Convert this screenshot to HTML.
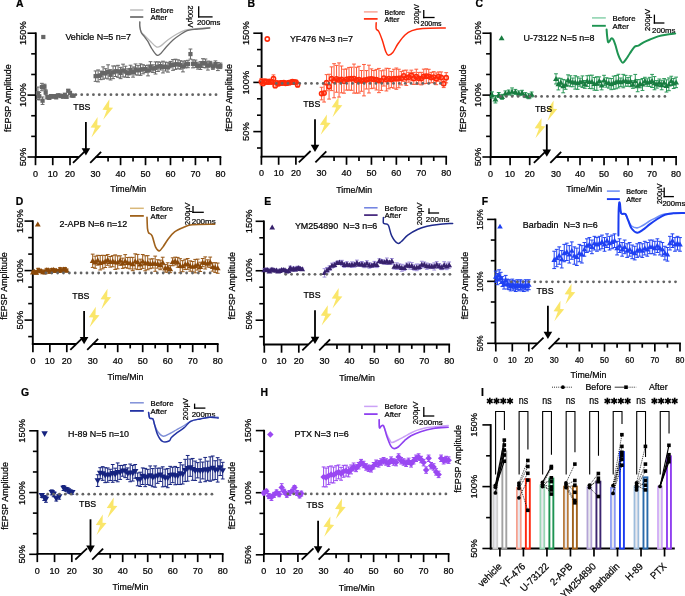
<!DOCTYPE html>
<html><head><meta charset="utf-8"><style>
html,body{margin:0;padding:0;background:#fff;overflow:hidden;}
svg{display:block;font-family:"Liberation Sans", sans-serif;will-change:transform;}
text{stroke:#000;stroke-width:0.22px;paint-order:stroke;}
</style></head><body>
<svg width="685" height="596" viewBox="0 0 685 596">
<rect width="685" height="596" fill="#fff"/>
<text x="15.9" y="6.9" font-size="10.4" text-anchor="start" fill="#000" font-weight="bold" transform="translate(15.9 6.9) scale(1 1.07) translate(-15.9 -6.9)" >A</text>
<line x1="35.8" y1="32.4" x2="35.8" y2="157.9" stroke="#000" stroke-width="1.9" />
<line x1="27.5" y1="33.2" x2="35.8" y2="33.2" stroke="#000" stroke-width="1.6" />
<line x1="31.2" y1="53.83" x2="35.8" y2="53.83" stroke="#000" stroke-width="1.6" />
<line x1="31.2" y1="74.47" x2="35.8" y2="74.47" stroke="#000" stroke-width="1.6" />
<line x1="27.5" y1="95.1" x2="35.8" y2="95.1" stroke="#000" stroke-width="1.6" />
<line x1="31.2" y1="115.73" x2="35.8" y2="115.73" stroke="#000" stroke-width="1.6" />
<line x1="31.2" y1="136.37" x2="35.8" y2="136.37" stroke="#000" stroke-width="1.6" />
<line x1="27.5" y1="157" x2="35.8" y2="157" stroke="#000" stroke-width="1.6" />
<text x="26" y="33.2" font-size="9.3" text-anchor="middle" fill="#000" font-weight="normal" transform="rotate(-90 26 33.2) translate(26 33.2) scale(1 1.02) translate(-26 -33.2)" >150%</text>
<text x="26" y="95" font-size="9.3" text-anchor="middle" fill="#000" font-weight="normal" transform="rotate(-90 26 95) translate(26 95) scale(1 1.02) translate(-26 -95)" >100%</text>
<text x="26" y="157" font-size="9.3" text-anchor="middle" fill="#000" font-weight="normal" transform="rotate(-90 26 157) translate(26 157) scale(1 1.02) translate(-26 -157)" >50%</text>
<text x="11.4" y="98.2" font-size="8.9" text-anchor="middle" fill="#000" font-weight="normal" transform="rotate(-90 11.4 98.2) translate(11.4 98.2) scale(1 1.07) translate(-11.4 -98.2)" >fEPSP Amplitude</text>
<line x1="34.9" y1="157" x2="78.8" y2="157" stroke="#000" stroke-width="1.8" />
<line x1="95.6" y1="157" x2="221.3" y2="157" stroke="#000" stroke-width="1.8" />
<line x1="35.5" y1="157" x2="35.5" y2="165.2" stroke="#000" stroke-width="1.7" />
<line x1="52.75" y1="157" x2="52.75" y2="165.2" stroke="#000" stroke-width="1.7" />
<line x1="70" y1="157" x2="70" y2="165.2" stroke="#000" stroke-width="1.7" />
<line x1="120.56" y1="157" x2="120.56" y2="165.2" stroke="#000" stroke-width="1.7" />
<line x1="145.52" y1="157" x2="145.52" y2="165.2" stroke="#000" stroke-width="1.7" />
<line x1="170.48" y1="157" x2="170.48" y2="165.2" stroke="#000" stroke-width="1.7" />
<line x1="195.44" y1="157" x2="195.44" y2="165.2" stroke="#000" stroke-width="1.7" />
<line x1="220.4" y1="157" x2="220.4" y2="165.2" stroke="#000" stroke-width="1.7" />
<line x1="108.08" y1="157" x2="108.08" y2="161.4" stroke="#000" stroke-width="1.7" />
<line x1="133.04" y1="157" x2="133.04" y2="161.4" stroke="#000" stroke-width="1.7" />
<line x1="158" y1="157" x2="158" y2="161.4" stroke="#000" stroke-width="1.7" />
<line x1="182.96" y1="157" x2="182.96" y2="161.4" stroke="#000" stroke-width="1.7" />
<line x1="207.92" y1="157" x2="207.92" y2="161.4" stroke="#000" stroke-width="1.7" />
<text x="35.5" y="176.9" font-size="9" text-anchor="middle" fill="#000" font-weight="normal" transform="translate(35.5 176.9) scale(1 1.07) translate(-35.5 -176.9)" >0</text>
<text x="52.75" y="176.9" font-size="9" text-anchor="middle" fill="#000" font-weight="normal" transform="translate(52.75 176.9) scale(1 1.07) translate(-52.75 -176.9)" >10</text>
<text x="70" y="176.9" font-size="9" text-anchor="middle" fill="#000" font-weight="normal" transform="translate(70 176.9) scale(1 1.07) translate(-70 -176.9)" >20</text>
<text x="95.6" y="176.9" font-size="9" text-anchor="middle" fill="#000" font-weight="normal" transform="translate(95.6 176.9) scale(1 1.07) translate(-95.6 -176.9)" >30</text>
<text x="120.56" y="176.9" font-size="9" text-anchor="middle" fill="#000" font-weight="normal" transform="translate(120.56 176.9) scale(1 1.07) translate(-120.56 -176.9)" >40</text>
<text x="145.52" y="176.9" font-size="9" text-anchor="middle" fill="#000" font-weight="normal" transform="translate(145.52 176.9) scale(1 1.07) translate(-145.52 -176.9)" >50</text>
<text x="170.48" y="176.9" font-size="9" text-anchor="middle" fill="#000" font-weight="normal" transform="translate(170.48 176.9) scale(1 1.07) translate(-170.48 -176.9)" >60</text>
<text x="195.44" y="176.9" font-size="9" text-anchor="middle" fill="#000" font-weight="normal" transform="translate(195.44 176.9) scale(1 1.07) translate(-195.44 -176.9)" >70</text>
<text x="220.4" y="176.9" font-size="9" text-anchor="middle" fill="#000" font-weight="normal" transform="translate(220.4 176.9) scale(1 1.07) translate(-220.4 -176.9)" >80</text>
<line x1="73" y1="162.8" x2="84.8" y2="151.4" stroke="#000" stroke-width="1.8" />
<line x1="90.2" y1="162.8" x2="101.1" y2="151.8" stroke="#000" stroke-width="1.8" />
<text x="128.3" y="192.5" font-size="8.8" text-anchor="middle" fill="#000" font-weight="normal" transform="translate(128.3 192.5) scale(1 1.07) translate(-128.3 -192.5)" >Time/Min</text>
<path d="M109.4,99.3 L102.4,109.7 L106.8,110 L103.2,119.7 L113.1,107.8 L109.1,107.5Z" fill="#fae66a"/>
<path d="M97.6,117.1 L90.6,127.5 L95,127.8 L91.4,137.5 L101.3,125.6 L97.3,125.3Z" fill="#fae66a"/>
<text x="73.3" y="110.3" font-size="8.8" text-anchor="start" fill="#000" font-weight="normal" transform="translate(73.3 110.3) scale(1 1.07) translate(-73.3 -110.3)" >TBS</text>
<line x1="85.9" y1="122" x2="85.9" y2="150.4" stroke="#000" stroke-width="1.8" />
<path d="M81.6,148.2 L90.2,148.2 L85.9,155.4Z" fill="#000"/>
<line x1="37.91" y1="87.06" x2="37.91" y2="99.46" stroke="#666666" stroke-width="1" />
<line x1="36.02" y1="87.06" x2="39.81" y2="87.06" stroke="#666666" stroke-width="1" />
<line x1="36.02" y1="99.46" x2="39.81" y2="99.46" stroke="#666666" stroke-width="1" />
<line x1="39.3" y1="92.52" x2="39.3" y2="99.96" stroke="#666666" stroke-width="1" />
<line x1="37.4" y1="92.52" x2="41.2" y2="92.52" stroke="#666666" stroke-width="1" />
<line x1="37.4" y1="99.96" x2="41.2" y2="99.96" stroke="#666666" stroke-width="1" />
<line x1="41.88" y1="83.34" x2="41.88" y2="90.78" stroke="#666666" stroke-width="1" />
<line x1="39.98" y1="83.34" x2="43.78" y2="83.34" stroke="#666666" stroke-width="1" />
<line x1="39.98" y1="90.78" x2="43.78" y2="90.78" stroke="#666666" stroke-width="1" />
<line x1="42.57" y1="96.98" x2="42.57" y2="104.42" stroke="#666666" stroke-width="1" />
<line x1="40.67" y1="96.98" x2="44.47" y2="96.98" stroke="#666666" stroke-width="1" />
<line x1="40.67" y1="104.42" x2="44.47" y2="104.42" stroke="#666666" stroke-width="1" />
<line x1="44.47" y1="84.21" x2="44.47" y2="89.17" stroke="#666666" stroke-width="1" />
<line x1="42.57" y1="84.21" x2="46.37" y2="84.21" stroke="#666666" stroke-width="1" />
<line x1="42.57" y1="89.17" x2="46.37" y2="89.17" stroke="#666666" stroke-width="1" />
<line x1="45.68" y1="89.79" x2="45.68" y2="94.75" stroke="#666666" stroke-width="1" />
<line x1="43.78" y1="89.79" x2="47.58" y2="89.79" stroke="#666666" stroke-width="1" />
<line x1="43.78" y1="94.75" x2="47.58" y2="94.75" stroke="#666666" stroke-width="1" />
<line x1="47.4" y1="95.25" x2="47.4" y2="98.97" stroke="#666666" stroke-width="1" />
<line x1="45.5" y1="95.25" x2="49.3" y2="95.25" stroke="#666666" stroke-width="1" />
<line x1="45.5" y1="98.97" x2="49.3" y2="98.97" stroke="#666666" stroke-width="1" />
<line x1="49.3" y1="96.27" x2="49.3" y2="99.27" stroke="#666666" stroke-width="1" />
<line x1="47.4" y1="96.27" x2="51.2" y2="96.27" stroke="#666666" stroke-width="1" />
<line x1="47.4" y1="99.27" x2="51.2" y2="99.27" stroke="#666666" stroke-width="1" />
<line x1="51.02" y1="95.02" x2="51.02" y2="97.14" stroke="#666666" stroke-width="1" />
<line x1="49.12" y1="95.02" x2="52.92" y2="95.02" stroke="#666666" stroke-width="1" />
<line x1="49.12" y1="97.14" x2="52.92" y2="97.14" stroke="#666666" stroke-width="1" />
<line x1="52.75" y1="95.42" x2="52.75" y2="97.83" stroke="#666666" stroke-width="1" />
<line x1="50.85" y1="95.42" x2="54.65" y2="95.42" stroke="#666666" stroke-width="1" />
<line x1="50.85" y1="97.83" x2="54.65" y2="97.83" stroke="#666666" stroke-width="1" />
<line x1="54.48" y1="94.66" x2="54.48" y2="97.57" stroke="#666666" stroke-width="1" />
<line x1="52.58" y1="94.66" x2="56.38" y2="94.66" stroke="#666666" stroke-width="1" />
<line x1="52.58" y1="97.57" x2="56.38" y2="97.57" stroke="#666666" stroke-width="1" />
<line x1="56.2" y1="96.48" x2="56.2" y2="98.26" stroke="#666666" stroke-width="1" />
<line x1="54.3" y1="96.48" x2="58.1" y2="96.48" stroke="#666666" stroke-width="1" />
<line x1="54.3" y1="98.26" x2="58.1" y2="98.26" stroke="#666666" stroke-width="1" />
<line x1="57.92" y1="94.22" x2="57.92" y2="96.6" stroke="#666666" stroke-width="1" />
<line x1="56.02" y1="94.22" x2="59.82" y2="94.22" stroke="#666666" stroke-width="1" />
<line x1="56.02" y1="96.6" x2="59.82" y2="96.6" stroke="#666666" stroke-width="1" />
<line x1="59.65" y1="94.6" x2="59.65" y2="96.34" stroke="#666666" stroke-width="1" />
<line x1="57.75" y1="94.6" x2="61.55" y2="94.6" stroke="#666666" stroke-width="1" />
<line x1="57.75" y1="96.34" x2="61.55" y2="96.34" stroke="#666666" stroke-width="1" />
<line x1="61.38" y1="94.72" x2="61.38" y2="97.53" stroke="#666666" stroke-width="1" />
<line x1="59.48" y1="94.72" x2="63.27" y2="94.72" stroke="#666666" stroke-width="1" />
<line x1="59.48" y1="97.53" x2="63.27" y2="97.53" stroke="#666666" stroke-width="1" />
<line x1="63.1" y1="94.97" x2="63.1" y2="98.11" stroke="#666666" stroke-width="1" />
<line x1="61.2" y1="94.97" x2="65" y2="94.97" stroke="#666666" stroke-width="1" />
<line x1="61.2" y1="98.11" x2="65" y2="98.11" stroke="#666666" stroke-width="1" />
<line x1="64.83" y1="93.86" x2="64.83" y2="95.64" stroke="#666666" stroke-width="1" />
<line x1="62.93" y1="93.86" x2="66.73" y2="93.86" stroke="#666666" stroke-width="1" />
<line x1="62.93" y1="95.64" x2="66.73" y2="95.64" stroke="#666666" stroke-width="1" />
<line x1="66.55" y1="95.53" x2="66.55" y2="98.07" stroke="#666666" stroke-width="1" />
<line x1="64.65" y1="95.53" x2="68.45" y2="95.53" stroke="#666666" stroke-width="1" />
<line x1="64.65" y1="98.07" x2="68.45" y2="98.07" stroke="#666666" stroke-width="1" />
<line x1="68.28" y1="89.58" x2="68.28" y2="91.89" stroke="#666666" stroke-width="1" />
<line x1="66.38" y1="89.58" x2="70.18" y2="89.58" stroke="#666666" stroke-width="1" />
<line x1="66.38" y1="91.89" x2="70.18" y2="91.89" stroke="#666666" stroke-width="1" />
<line x1="70" y1="91.69" x2="70" y2="94.05" stroke="#666666" stroke-width="1" />
<line x1="68.1" y1="91.69" x2="71.9" y2="91.69" stroke="#666666" stroke-width="1" />
<line x1="68.1" y1="94.05" x2="71.9" y2="94.05" stroke="#666666" stroke-width="1" />
<line x1="71.72" y1="94.55" x2="71.72" y2="96.62" stroke="#666666" stroke-width="1" />
<line x1="69.82" y1="94.55" x2="73.62" y2="94.55" stroke="#666666" stroke-width="1" />
<line x1="69.82" y1="96.62" x2="73.62" y2="96.62" stroke="#666666" stroke-width="1" />
<line x1="73.45" y1="94.46" x2="73.45" y2="96.93" stroke="#666666" stroke-width="1" />
<line x1="71.55" y1="94.46" x2="75.35" y2="94.46" stroke="#666666" stroke-width="1" />
<line x1="71.55" y1="96.93" x2="75.35" y2="96.93" stroke="#666666" stroke-width="1" />
<line x1="95.6" y1="70.95" x2="95.6" y2="81.35" stroke="#666666" stroke-width="1" />
<line x1="93.7" y1="70.95" x2="97.5" y2="70.95" stroke="#666666" stroke-width="1" />
<line x1="93.7" y1="81.35" x2="97.5" y2="81.35" stroke="#666666" stroke-width="1" />
<line x1="98.1" y1="69.95" x2="98.1" y2="81.89" stroke="#666666" stroke-width="1" />
<line x1="96.2" y1="69.95" x2="100" y2="69.95" stroke="#666666" stroke-width="1" />
<line x1="96.2" y1="81.89" x2="100" y2="81.89" stroke="#666666" stroke-width="1" />
<line x1="100.59" y1="71.06" x2="100.59" y2="79.67" stroke="#666666" stroke-width="1" />
<line x1="98.69" y1="71.06" x2="102.49" y2="71.06" stroke="#666666" stroke-width="1" />
<line x1="98.69" y1="79.67" x2="102.49" y2="79.67" stroke="#666666" stroke-width="1" />
<line x1="103.09" y1="66.88" x2="103.09" y2="79.19" stroke="#666666" stroke-width="1" />
<line x1="101.19" y1="66.88" x2="104.99" y2="66.88" stroke="#666666" stroke-width="1" />
<line x1="101.19" y1="79.19" x2="104.99" y2="79.19" stroke="#666666" stroke-width="1" />
<line x1="105.58" y1="68.71" x2="105.58" y2="78.24" stroke="#666666" stroke-width="1" />
<line x1="103.68" y1="68.71" x2="107.48" y2="68.71" stroke="#666666" stroke-width="1" />
<line x1="103.68" y1="78.24" x2="107.48" y2="78.24" stroke="#666666" stroke-width="1" />
<line x1="108.08" y1="64.84" x2="108.08" y2="78.92" stroke="#666666" stroke-width="1" />
<line x1="106.18" y1="64.84" x2="109.98" y2="64.84" stroke="#666666" stroke-width="1" />
<line x1="106.18" y1="78.92" x2="109.98" y2="78.92" stroke="#666666" stroke-width="1" />
<line x1="110.58" y1="69.7" x2="110.58" y2="79.97" stroke="#666666" stroke-width="1" />
<line x1="108.68" y1="69.7" x2="112.48" y2="69.7" stroke="#666666" stroke-width="1" />
<line x1="108.68" y1="79.97" x2="112.48" y2="79.97" stroke="#666666" stroke-width="1" />
<line x1="113.07" y1="65.98" x2="113.07" y2="78.64" stroke="#666666" stroke-width="1" />
<line x1="111.17" y1="65.98" x2="114.97" y2="65.98" stroke="#666666" stroke-width="1" />
<line x1="111.17" y1="78.64" x2="114.97" y2="78.64" stroke="#666666" stroke-width="1" />
<line x1="115.57" y1="65.94" x2="115.57" y2="76.5" stroke="#666666" stroke-width="1" />
<line x1="113.67" y1="65.94" x2="117.47" y2="65.94" stroke="#666666" stroke-width="1" />
<line x1="113.67" y1="76.5" x2="117.47" y2="76.5" stroke="#666666" stroke-width="1" />
<line x1="118.06" y1="65.31" x2="118.06" y2="77.34" stroke="#666666" stroke-width="1" />
<line x1="116.16" y1="65.31" x2="119.96" y2="65.31" stroke="#666666" stroke-width="1" />
<line x1="116.16" y1="77.34" x2="119.96" y2="77.34" stroke="#666666" stroke-width="1" />
<line x1="120.56" y1="67.34" x2="120.56" y2="78.65" stroke="#666666" stroke-width="1" />
<line x1="118.66" y1="67.34" x2="122.46" y2="67.34" stroke="#666666" stroke-width="1" />
<line x1="118.66" y1="78.65" x2="122.46" y2="78.65" stroke="#666666" stroke-width="1" />
<line x1="123.06" y1="64.16" x2="123.06" y2="76.94" stroke="#666666" stroke-width="1" />
<line x1="121.16" y1="64.16" x2="124.96" y2="64.16" stroke="#666666" stroke-width="1" />
<line x1="121.16" y1="76.94" x2="124.96" y2="76.94" stroke="#666666" stroke-width="1" />
<line x1="125.55" y1="66.18" x2="125.55" y2="77.15" stroke="#666666" stroke-width="1" />
<line x1="123.65" y1="66.18" x2="127.45" y2="66.18" stroke="#666666" stroke-width="1" />
<line x1="123.65" y1="77.15" x2="127.45" y2="77.15" stroke="#666666" stroke-width="1" />
<line x1="128.05" y1="68.8" x2="128.05" y2="77.46" stroke="#666666" stroke-width="1" />
<line x1="126.15" y1="68.8" x2="129.95" y2="68.8" stroke="#666666" stroke-width="1" />
<line x1="126.15" y1="77.46" x2="129.95" y2="77.46" stroke="#666666" stroke-width="1" />
<line x1="130.54" y1="65.22" x2="130.54" y2="74.79" stroke="#666666" stroke-width="1" />
<line x1="128.64" y1="65.22" x2="132.44" y2="65.22" stroke="#666666" stroke-width="1" />
<line x1="128.64" y1="74.79" x2="132.44" y2="74.79" stroke="#666666" stroke-width="1" />
<line x1="133.04" y1="66.93" x2="133.04" y2="77.14" stroke="#666666" stroke-width="1" />
<line x1="131.14" y1="66.93" x2="134.94" y2="66.93" stroke="#666666" stroke-width="1" />
<line x1="131.14" y1="77.14" x2="134.94" y2="77.14" stroke="#666666" stroke-width="1" />
<line x1="135.54" y1="63.97" x2="135.54" y2="74.92" stroke="#666666" stroke-width="1" />
<line x1="133.64" y1="63.97" x2="137.44" y2="63.97" stroke="#666666" stroke-width="1" />
<line x1="133.64" y1="74.92" x2="137.44" y2="74.92" stroke="#666666" stroke-width="1" />
<line x1="138.03" y1="65.64" x2="138.03" y2="75.14" stroke="#666666" stroke-width="1" />
<line x1="136.13" y1="65.64" x2="139.93" y2="65.64" stroke="#666666" stroke-width="1" />
<line x1="136.13" y1="75.14" x2="139.93" y2="75.14" stroke="#666666" stroke-width="1" />
<line x1="140.53" y1="63.89" x2="140.53" y2="75.33" stroke="#666666" stroke-width="1" />
<line x1="138.63" y1="63.89" x2="142.43" y2="63.89" stroke="#666666" stroke-width="1" />
<line x1="138.63" y1="75.33" x2="142.43" y2="75.33" stroke="#666666" stroke-width="1" />
<line x1="143.02" y1="64.73" x2="143.02" y2="73.84" stroke="#666666" stroke-width="1" />
<line x1="141.12" y1="64.73" x2="144.92" y2="64.73" stroke="#666666" stroke-width="1" />
<line x1="141.12" y1="73.84" x2="144.92" y2="73.84" stroke="#666666" stroke-width="1" />
<line x1="145.52" y1="65.65" x2="145.52" y2="72.59" stroke="#666666" stroke-width="1" />
<line x1="143.62" y1="65.65" x2="147.42" y2="65.65" stroke="#666666" stroke-width="1" />
<line x1="143.62" y1="72.59" x2="147.42" y2="72.59" stroke="#666666" stroke-width="1" />
<line x1="148.02" y1="65.11" x2="148.02" y2="75.89" stroke="#666666" stroke-width="1" />
<line x1="146.12" y1="65.11" x2="149.92" y2="65.11" stroke="#666666" stroke-width="1" />
<line x1="146.12" y1="75.89" x2="149.92" y2="75.89" stroke="#666666" stroke-width="1" />
<line x1="150.51" y1="61.69" x2="150.51" y2="71.77" stroke="#666666" stroke-width="1" />
<line x1="148.61" y1="61.69" x2="152.41" y2="61.69" stroke="#666666" stroke-width="1" />
<line x1="148.61" y1="71.77" x2="152.41" y2="71.77" stroke="#666666" stroke-width="1" />
<line x1="153.01" y1="64.84" x2="153.01" y2="72.45" stroke="#666666" stroke-width="1" />
<line x1="151.11" y1="64.84" x2="154.91" y2="64.84" stroke="#666666" stroke-width="1" />
<line x1="151.11" y1="72.45" x2="154.91" y2="72.45" stroke="#666666" stroke-width="1" />
<line x1="155.5" y1="61.88" x2="155.5" y2="74.03" stroke="#666666" stroke-width="1" />
<line x1="153.6" y1="61.88" x2="157.4" y2="61.88" stroke="#666666" stroke-width="1" />
<line x1="153.6" y1="74.03" x2="157.4" y2="74.03" stroke="#666666" stroke-width="1" />
<line x1="158" y1="61.89" x2="158" y2="71.47" stroke="#666666" stroke-width="1" />
<line x1="156.1" y1="61.89" x2="159.9" y2="61.89" stroke="#666666" stroke-width="1" />
<line x1="156.1" y1="71.47" x2="159.9" y2="71.47" stroke="#666666" stroke-width="1" />
<line x1="160.5" y1="62.17" x2="160.5" y2="69.97" stroke="#666666" stroke-width="1" />
<line x1="158.6" y1="62.17" x2="162.4" y2="62.17" stroke="#666666" stroke-width="1" />
<line x1="158.6" y1="69.97" x2="162.4" y2="69.97" stroke="#666666" stroke-width="1" />
<line x1="162.99" y1="61.21" x2="162.99" y2="72.95" stroke="#666666" stroke-width="1" />
<line x1="161.09" y1="61.21" x2="164.89" y2="61.21" stroke="#666666" stroke-width="1" />
<line x1="161.09" y1="72.95" x2="164.89" y2="72.95" stroke="#666666" stroke-width="1" />
<line x1="165.49" y1="62.09" x2="165.49" y2="71.04" stroke="#666666" stroke-width="1" />
<line x1="163.59" y1="62.09" x2="167.39" y2="62.09" stroke="#666666" stroke-width="1" />
<line x1="163.59" y1="71.04" x2="167.39" y2="71.04" stroke="#666666" stroke-width="1" />
<line x1="167.98" y1="62.74" x2="167.98" y2="72.12" stroke="#666666" stroke-width="1" />
<line x1="166.08" y1="62.74" x2="169.88" y2="62.74" stroke="#666666" stroke-width="1" />
<line x1="166.08" y1="72.12" x2="169.88" y2="72.12" stroke="#666666" stroke-width="1" />
<line x1="170.48" y1="61.41" x2="170.48" y2="67.78" stroke="#666666" stroke-width="1" />
<line x1="168.58" y1="61.41" x2="172.38" y2="61.41" stroke="#666666" stroke-width="1" />
<line x1="168.58" y1="67.78" x2="172.38" y2="67.78" stroke="#666666" stroke-width="1" />
<line x1="172.98" y1="59.6" x2="172.98" y2="70.32" stroke="#666666" stroke-width="1" />
<line x1="171.08" y1="59.6" x2="174.88" y2="59.6" stroke="#666666" stroke-width="1" />
<line x1="171.08" y1="70.32" x2="174.88" y2="70.32" stroke="#666666" stroke-width="1" />
<line x1="175.47" y1="59.19" x2="175.47" y2="69.41" stroke="#666666" stroke-width="1" />
<line x1="173.57" y1="59.19" x2="177.37" y2="59.19" stroke="#666666" stroke-width="1" />
<line x1="173.57" y1="69.41" x2="177.37" y2="69.41" stroke="#666666" stroke-width="1" />
<line x1="177.97" y1="59.82" x2="177.97" y2="68.79" stroke="#666666" stroke-width="1" />
<line x1="176.07" y1="59.82" x2="179.87" y2="59.82" stroke="#666666" stroke-width="1" />
<line x1="176.07" y1="68.79" x2="179.87" y2="68.79" stroke="#666666" stroke-width="1" />
<line x1="180.46" y1="60.74" x2="180.46" y2="69.16" stroke="#666666" stroke-width="1" />
<line x1="178.56" y1="60.74" x2="182.36" y2="60.74" stroke="#666666" stroke-width="1" />
<line x1="178.56" y1="69.16" x2="182.36" y2="69.16" stroke="#666666" stroke-width="1" />
<line x1="182.96" y1="61.21" x2="182.96" y2="71.89" stroke="#666666" stroke-width="1" />
<line x1="181.06" y1="61.21" x2="184.86" y2="61.21" stroke="#666666" stroke-width="1" />
<line x1="181.06" y1="71.89" x2="184.86" y2="71.89" stroke="#666666" stroke-width="1" />
<line x1="185.46" y1="60.8" x2="185.46" y2="67.92" stroke="#666666" stroke-width="1" />
<line x1="183.56" y1="60.8" x2="187.36" y2="60.8" stroke="#666666" stroke-width="1" />
<line x1="183.56" y1="67.92" x2="187.36" y2="67.92" stroke="#666666" stroke-width="1" />
<line x1="187.95" y1="60.31" x2="187.95" y2="67.69" stroke="#666666" stroke-width="1" />
<line x1="186.05" y1="60.31" x2="189.85" y2="60.31" stroke="#666666" stroke-width="1" />
<line x1="186.05" y1="67.69" x2="189.85" y2="67.69" stroke="#666666" stroke-width="1" />
<line x1="190.45" y1="49.02" x2="190.45" y2="59.14" stroke="#666666" stroke-width="1" />
<line x1="188.55" y1="49.02" x2="192.35" y2="49.02" stroke="#666666" stroke-width="1" />
<line x1="188.55" y1="59.14" x2="192.35" y2="59.14" stroke="#666666" stroke-width="1" />
<line x1="192.94" y1="59.86" x2="192.94" y2="67.85" stroke="#666666" stroke-width="1" />
<line x1="191.04" y1="59.86" x2="194.84" y2="59.86" stroke="#666666" stroke-width="1" />
<line x1="191.04" y1="67.85" x2="194.84" y2="67.85" stroke="#666666" stroke-width="1" />
<line x1="195.44" y1="60.07" x2="195.44" y2="67.32" stroke="#666666" stroke-width="1" />
<line x1="193.54" y1="60.07" x2="197.34" y2="60.07" stroke="#666666" stroke-width="1" />
<line x1="193.54" y1="67.32" x2="197.34" y2="67.32" stroke="#666666" stroke-width="1" />
<line x1="197.94" y1="62.86" x2="197.94" y2="69.1" stroke="#666666" stroke-width="1" />
<line x1="196.04" y1="62.86" x2="199.84" y2="62.86" stroke="#666666" stroke-width="1" />
<line x1="196.04" y1="69.1" x2="199.84" y2="69.1" stroke="#666666" stroke-width="1" />
<line x1="200.43" y1="61.63" x2="200.43" y2="69.45" stroke="#666666" stroke-width="1" />
<line x1="198.53" y1="61.63" x2="202.33" y2="61.63" stroke="#666666" stroke-width="1" />
<line x1="198.53" y1="69.45" x2="202.33" y2="69.45" stroke="#666666" stroke-width="1" />
<line x1="202.93" y1="58.72" x2="202.93" y2="67.49" stroke="#666666" stroke-width="1" />
<line x1="201.03" y1="58.72" x2="204.83" y2="58.72" stroke="#666666" stroke-width="1" />
<line x1="201.03" y1="67.49" x2="204.83" y2="67.49" stroke="#666666" stroke-width="1" />
<line x1="205.42" y1="59.03" x2="205.42" y2="67.88" stroke="#666666" stroke-width="1" />
<line x1="203.52" y1="59.03" x2="207.32" y2="59.03" stroke="#666666" stroke-width="1" />
<line x1="203.52" y1="67.88" x2="207.32" y2="67.88" stroke="#666666" stroke-width="1" />
<line x1="207.92" y1="61.1" x2="207.92" y2="70.07" stroke="#666666" stroke-width="1" />
<line x1="206.02" y1="61.1" x2="209.82" y2="61.1" stroke="#666666" stroke-width="1" />
<line x1="206.02" y1="70.07" x2="209.82" y2="70.07" stroke="#666666" stroke-width="1" />
<line x1="210.42" y1="61.36" x2="210.42" y2="66.93" stroke="#666666" stroke-width="1" />
<line x1="208.52" y1="61.36" x2="212.32" y2="61.36" stroke="#666666" stroke-width="1" />
<line x1="208.52" y1="66.93" x2="212.32" y2="66.93" stroke="#666666" stroke-width="1" />
<line x1="212.91" y1="64.06" x2="212.91" y2="69.34" stroke="#666666" stroke-width="1" />
<line x1="211.01" y1="64.06" x2="214.81" y2="64.06" stroke="#666666" stroke-width="1" />
<line x1="211.01" y1="69.34" x2="214.81" y2="69.34" stroke="#666666" stroke-width="1" />
<line x1="215.41" y1="60.9" x2="215.41" y2="67.22" stroke="#666666" stroke-width="1" />
<line x1="213.51" y1="60.9" x2="217.31" y2="60.9" stroke="#666666" stroke-width="1" />
<line x1="213.51" y1="67.22" x2="217.31" y2="67.22" stroke="#666666" stroke-width="1" />
<line x1="217.9" y1="62.58" x2="217.9" y2="70.58" stroke="#666666" stroke-width="1" />
<line x1="216" y1="62.58" x2="219.8" y2="62.58" stroke="#666666" stroke-width="1" />
<line x1="216" y1="70.58" x2="219.8" y2="70.58" stroke="#666666" stroke-width="1" />
<line x1="220.4" y1="63.06" x2="220.4" y2="68.58" stroke="#666666" stroke-width="1" />
<line x1="218.5" y1="63.06" x2="222.3" y2="63.06" stroke="#666666" stroke-width="1" />
<line x1="218.5" y1="68.58" x2="222.3" y2="68.58" stroke="#666666" stroke-width="1" />
<rect x="35.81" y="91.16" width="4.2" height="4.2" fill="#666666"/>
<rect x="37.2" y="94.14" width="4.2" height="4.2" fill="#666666"/>
<rect x="39.78" y="84.96" width="4.2" height="4.2" fill="#666666"/>
<rect x="40.47" y="98.6" width="4.2" height="4.2" fill="#666666"/>
<rect x="42.37" y="84.59" width="4.2" height="4.2" fill="#666666"/>
<rect x="43.58" y="90.17" width="4.2" height="4.2" fill="#666666"/>
<rect x="45.3" y="95.01" width="4.2" height="4.2" fill="#666666"/>
<rect x="47.2" y="95.67" width="4.2" height="4.2" fill="#666666"/>
<rect x="48.92" y="93.98" width="4.2" height="4.2" fill="#666666"/>
<rect x="50.65" y="94.52" width="4.2" height="4.2" fill="#666666"/>
<rect x="52.38" y="94.01" width="4.2" height="4.2" fill="#666666"/>
<rect x="54.1" y="95.27" width="4.2" height="4.2" fill="#666666"/>
<rect x="55.82" y="93.31" width="4.2" height="4.2" fill="#666666"/>
<rect x="57.55" y="93.37" width="4.2" height="4.2" fill="#666666"/>
<rect x="59.27" y="94.03" width="4.2" height="4.2" fill="#666666"/>
<rect x="61" y="94.44" width="4.2" height="4.2" fill="#666666"/>
<rect x="62.73" y="92.65" width="4.2" height="4.2" fill="#666666"/>
<rect x="64.45" y="94.7" width="4.2" height="4.2" fill="#666666"/>
<rect x="66.18" y="88.64" width="4.2" height="4.2" fill="#666666"/>
<rect x="67.9" y="90.77" width="4.2" height="4.2" fill="#666666"/>
<rect x="69.62" y="93.48" width="4.2" height="4.2" fill="#666666"/>
<rect x="71.35" y="93.6" width="4.2" height="4.2" fill="#666666"/>
<rect x="93.5" y="74.05" width="4.2" height="4.2" fill="#666666"/>
<rect x="96" y="73.82" width="4.2" height="4.2" fill="#666666"/>
<rect x="98.49" y="73.26" width="4.2" height="4.2" fill="#666666"/>
<rect x="100.99" y="70.94" width="4.2" height="4.2" fill="#666666"/>
<rect x="103.48" y="71.37" width="4.2" height="4.2" fill="#666666"/>
<rect x="105.98" y="69.78" width="4.2" height="4.2" fill="#666666"/>
<rect x="108.48" y="72.73" width="4.2" height="4.2" fill="#666666"/>
<rect x="110.97" y="70.21" width="4.2" height="4.2" fill="#666666"/>
<rect x="113.47" y="69.12" width="4.2" height="4.2" fill="#666666"/>
<rect x="115.96" y="69.23" width="4.2" height="4.2" fill="#666666"/>
<rect x="118.46" y="70.9" width="4.2" height="4.2" fill="#666666"/>
<rect x="120.96" y="68.45" width="4.2" height="4.2" fill="#666666"/>
<rect x="123.45" y="69.57" width="4.2" height="4.2" fill="#666666"/>
<rect x="125.95" y="71.03" width="4.2" height="4.2" fill="#666666"/>
<rect x="128.44" y="67.9" width="4.2" height="4.2" fill="#666666"/>
<rect x="130.94" y="69.94" width="4.2" height="4.2" fill="#666666"/>
<rect x="133.44" y="67.34" width="4.2" height="4.2" fill="#666666"/>
<rect x="135.93" y="68.29" width="4.2" height="4.2" fill="#666666"/>
<rect x="138.43" y="67.51" width="4.2" height="4.2" fill="#666666"/>
<rect x="140.92" y="67.19" width="4.2" height="4.2" fill="#666666"/>
<rect x="143.42" y="67.02" width="4.2" height="4.2" fill="#666666"/>
<rect x="145.92" y="68.4" width="4.2" height="4.2" fill="#666666"/>
<rect x="148.41" y="64.63" width="4.2" height="4.2" fill="#666666"/>
<rect x="150.91" y="66.54" width="4.2" height="4.2" fill="#666666"/>
<rect x="153.4" y="65.86" width="4.2" height="4.2" fill="#666666"/>
<rect x="155.9" y="64.58" width="4.2" height="4.2" fill="#666666"/>
<rect x="158.4" y="63.97" width="4.2" height="4.2" fill="#666666"/>
<rect x="160.89" y="64.98" width="4.2" height="4.2" fill="#666666"/>
<rect x="163.39" y="64.46" width="4.2" height="4.2" fill="#666666"/>
<rect x="165.88" y="65.33" width="4.2" height="4.2" fill="#666666"/>
<rect x="168.38" y="62.49" width="4.2" height="4.2" fill="#666666"/>
<rect x="170.88" y="62.86" width="4.2" height="4.2" fill="#666666"/>
<rect x="173.37" y="62.2" width="4.2" height="4.2" fill="#666666"/>
<rect x="175.87" y="62.21" width="4.2" height="4.2" fill="#666666"/>
<rect x="178.36" y="62.85" width="4.2" height="4.2" fill="#666666"/>
<rect x="180.86" y="64.45" width="4.2" height="4.2" fill="#666666"/>
<rect x="183.36" y="62.26" width="4.2" height="4.2" fill="#666666"/>
<rect x="185.85" y="61.9" width="4.2" height="4.2" fill="#666666"/>
<rect x="188.35" y="51.98" width="4.2" height="4.2" fill="#666666"/>
<rect x="190.84" y="61.76" width="4.2" height="4.2" fill="#666666"/>
<rect x="193.34" y="61.59" width="4.2" height="4.2" fill="#666666"/>
<rect x="195.84" y="63.88" width="4.2" height="4.2" fill="#666666"/>
<rect x="198.33" y="63.44" width="4.2" height="4.2" fill="#666666"/>
<rect x="200.83" y="61.01" width="4.2" height="4.2" fill="#666666"/>
<rect x="203.32" y="61.36" width="4.2" height="4.2" fill="#666666"/>
<rect x="205.82" y="63.49" width="4.2" height="4.2" fill="#666666"/>
<rect x="208.32" y="62.05" width="4.2" height="4.2" fill="#666666"/>
<rect x="210.81" y="64.6" width="4.2" height="4.2" fill="#666666"/>
<rect x="213.31" y="61.96" width="4.2" height="4.2" fill="#666666"/>
<rect x="215.8" y="64.48" width="4.2" height="4.2" fill="#666666"/>
<rect x="218.3" y="63.72" width="4.2" height="4.2" fill="#666666"/>
<circle cx="75.9" cy="94.7" r="1.4" fill="#646464"/>
<circle cx="81.74" cy="94.7" r="1.4" fill="#646464"/>
<circle cx="87.58" cy="94.7" r="1.4" fill="#646464"/>
<circle cx="93.41" cy="94.7" r="1.4" fill="#646464"/>
<circle cx="99.25" cy="94.7" r="1.4" fill="#646464"/>
<circle cx="105.09" cy="94.7" r="1.4" fill="#646464"/>
<circle cx="110.93" cy="94.7" r="1.4" fill="#646464"/>
<circle cx="116.76" cy="94.7" r="1.4" fill="#646464"/>
<circle cx="122.6" cy="94.7" r="1.4" fill="#646464"/>
<circle cx="128.44" cy="94.7" r="1.4" fill="#646464"/>
<circle cx="134.28" cy="94.7" r="1.4" fill="#646464"/>
<circle cx="140.11" cy="94.7" r="1.4" fill="#646464"/>
<circle cx="145.95" cy="94.7" r="1.4" fill="#646464"/>
<circle cx="151.79" cy="94.7" r="1.4" fill="#646464"/>
<circle cx="157.62" cy="94.7" r="1.4" fill="#646464"/>
<circle cx="163.46" cy="94.7" r="1.4" fill="#646464"/>
<circle cx="169.3" cy="94.7" r="1.4" fill="#646464"/>
<circle cx="175.14" cy="94.7" r="1.4" fill="#646464"/>
<circle cx="180.97" cy="94.7" r="1.4" fill="#646464"/>
<circle cx="186.81" cy="94.7" r="1.4" fill="#646464"/>
<circle cx="192.65" cy="94.7" r="1.4" fill="#646464"/>
<circle cx="198.49" cy="94.7" r="1.4" fill="#646464"/>
<circle cx="204.32" cy="94.7" r="1.4" fill="#646464"/>
<circle cx="210.16" cy="94.7" r="1.4" fill="#646464"/>
<circle cx="216" cy="94.7" r="1.4" fill="#646464"/>
<rect x="41.2" y="34.9" width="4.2" height="4.2" fill="#666666"/>
<text x="65.4" y="40.2" font-size="8.95" text-anchor="start" fill="#000" font-weight="normal" transform="translate(65.4 40.2) scale(1 1.07) translate(-65.4 -40.2)" >Vehicle N=5 n=7</text>
<line x1="130.1" y1="10" x2="143.3" y2="10" stroke="#b8b8b8" stroke-width="1.4" />
<line x1="130.1" y1="17" x2="143.3" y2="17" stroke="#6a6a6a" stroke-width="1.7" />
<text x="150.6" y="12.96" font-size="7.8" text-anchor="start" fill="#000" font-weight="normal" >Before</text>
<text x="150.6" y="19.96" font-size="7.8" text-anchor="start" fill="#000" font-weight="normal" >After</text>
<line x1="198.7" y1="6.3" x2="198.7" y2="17.55" stroke="#000" stroke-width="1.3" />
<line x1="198.05" y1="16.9" x2="212.6" y2="16.9" stroke="#000" stroke-width="1.3" />
<text x="197" y="25.3" font-size="7.8" text-anchor="start" fill="#000" font-weight="normal" >200ms</text>
<text x="187.9" y="16.5" font-size="7.6" text-anchor="middle" fill="#000" font-weight="normal" transform="rotate(90 187.9 16.5)" >200μV</text>
<path d="M139.8,21.9 C139.8,22.63 139.52,24.55 139.8,26.3 C140.08,28.05 140.63,30.8 141.5,32.4 C142.37,34 143.53,34.43 145,35.9 C146.47,37.37 148.4,39.37 150.3,41.2 C152.2,43.03 154.65,46.12 156.4,46.9 C158.15,47.68 158.9,47.07 160.8,45.9 C162.7,44.73 165.18,41.85 167.8,39.9 C170.42,37.95 173.58,35.83 176.5,34.2 C179.42,32.57 182.37,30.98 185.3,30.1 C188.23,29.22 190.02,29.3 194.1,28.9 C198.18,28.5 207.18,27.9 209.8,27.7" fill="none" stroke="#b8b8b8" stroke-width="1.3" stroke-linejoin="round" stroke-linecap="round"/>
<path d="M139.8,21.9 C139.8,22.63 139.57,24.55 139.8,26.3 C140.03,28.05 140.47,30.72 141.2,32.4 C141.93,34.08 143.12,34.93 144.2,36.4 C145.28,37.87 146.4,39.1 147.7,41.2 C149,43.3 150.47,46.67 152,49 C153.53,51.33 155.43,54.47 156.9,55.2 C158.37,55.93 159.28,54.72 160.8,53.4 C162.32,52.08 163.97,49.55 166,47.3 C168.03,45.05 170.65,42 173,39.9 C175.35,37.8 177.75,36.25 180.1,34.7 C182.45,33.15 184.77,31.48 187.1,30.6 C189.43,29.72 190.32,29.83 194.1,29.4 C197.88,28.97 207.18,28.23 209.8,28" fill="none" stroke="#6a6a6a" stroke-width="1.3" stroke-linejoin="round" stroke-linecap="round"/>
<text x="247.6" y="6.9" font-size="10.4" text-anchor="start" fill="#000" font-weight="bold" transform="translate(247.6 6.9) scale(1 1.07) translate(-247.6 -6.9)" >B</text>
<line x1="261.6" y1="32.4" x2="261.6" y2="157.5" stroke="#000" stroke-width="1.9" />
<line x1="253.3" y1="33.2" x2="261.6" y2="33.2" stroke="#000" stroke-width="1.6" />
<line x1="257" y1="49.6" x2="261.6" y2="49.6" stroke="#000" stroke-width="1.6" />
<line x1="257" y1="66" x2="261.6" y2="66" stroke="#000" stroke-width="1.6" />
<line x1="253.3" y1="82.4" x2="261.6" y2="82.4" stroke="#000" stroke-width="1.6" />
<line x1="257" y1="98.8" x2="261.6" y2="98.8" stroke="#000" stroke-width="1.6" />
<line x1="257" y1="115.2" x2="261.6" y2="115.2" stroke="#000" stroke-width="1.6" />
<line x1="253.3" y1="131.6" x2="261.6" y2="131.6" stroke="#000" stroke-width="1.6" />
<line x1="257" y1="148" x2="261.6" y2="148" stroke="#000" stroke-width="1.6" />
<text x="249.3" y="33.2" font-size="9.3" text-anchor="middle" fill="#000" font-weight="normal" transform="rotate(-90 249.3 33.2) translate(249.3 33.2) scale(1 1.02) translate(-249.3 -33.2)" >150%</text>
<text x="249.3" y="82.7" font-size="9.3" text-anchor="middle" fill="#000" font-weight="normal" transform="rotate(-90 249.3 82.7) translate(249.3 82.7) scale(1 1.02) translate(-249.3 -82.7)" >100%</text>
<text x="249.3" y="131.6" font-size="9.3" text-anchor="middle" fill="#000" font-weight="normal" transform="rotate(-90 249.3 131.6) translate(249.3 131.6) scale(1 1.02) translate(-249.3 -131.6)" >50%</text>
<text x="231.8" y="97.8" font-size="8.9" text-anchor="middle" fill="#000" font-weight="normal" transform="rotate(-90 231.8 97.8) translate(231.8 97.8) scale(1 1.07) translate(-231.8 -97.8)" >fEPSP Amplitude</text>
<line x1="260.7" y1="156.6" x2="304.6" y2="156.6" stroke="#000" stroke-width="1.8" />
<line x1="320.8" y1="156.6" x2="447.1" y2="156.6" stroke="#000" stroke-width="1.8" />
<line x1="261.4" y1="156.6" x2="261.4" y2="164.8" stroke="#000" stroke-width="1.7" />
<line x1="278.65" y1="156.6" x2="278.65" y2="164.8" stroke="#000" stroke-width="1.7" />
<line x1="295.9" y1="156.6" x2="295.9" y2="164.8" stroke="#000" stroke-width="1.7" />
<line x1="346.52" y1="156.6" x2="346.52" y2="164.8" stroke="#000" stroke-width="1.7" />
<line x1="371.44" y1="156.6" x2="371.44" y2="164.8" stroke="#000" stroke-width="1.7" />
<line x1="396.36" y1="156.6" x2="396.36" y2="164.8" stroke="#000" stroke-width="1.7" />
<line x1="421.28" y1="156.6" x2="421.28" y2="164.8" stroke="#000" stroke-width="1.7" />
<line x1="446.2" y1="156.6" x2="446.2" y2="164.8" stroke="#000" stroke-width="1.7" />
<line x1="334.06" y1="156.6" x2="334.06" y2="161" stroke="#000" stroke-width="1.7" />
<line x1="358.98" y1="156.6" x2="358.98" y2="161" stroke="#000" stroke-width="1.7" />
<line x1="383.9" y1="156.6" x2="383.9" y2="161" stroke="#000" stroke-width="1.7" />
<line x1="408.82" y1="156.6" x2="408.82" y2="161" stroke="#000" stroke-width="1.7" />
<line x1="433.74" y1="156.6" x2="433.74" y2="161" stroke="#000" stroke-width="1.7" />
<text x="261.4" y="176.5" font-size="9" text-anchor="middle" fill="#000" font-weight="normal" transform="translate(261.4 176.5) scale(1 1.07) translate(-261.4 -176.5)" >0</text>
<text x="278.65" y="176.5" font-size="9" text-anchor="middle" fill="#000" font-weight="normal" transform="translate(278.65 176.5) scale(1 1.07) translate(-278.65 -176.5)" >10</text>
<text x="295.9" y="176.5" font-size="9" text-anchor="middle" fill="#000" font-weight="normal" transform="translate(295.9 176.5) scale(1 1.07) translate(-295.9 -176.5)" >20</text>
<text x="321.6" y="176.5" font-size="9" text-anchor="middle" fill="#000" font-weight="normal" transform="translate(321.6 176.5) scale(1 1.07) translate(-321.6 -176.5)" >30</text>
<text x="346.52" y="176.5" font-size="9" text-anchor="middle" fill="#000" font-weight="normal" transform="translate(346.52 176.5) scale(1 1.07) translate(-346.52 -176.5)" >40</text>
<text x="371.44" y="176.5" font-size="9" text-anchor="middle" fill="#000" font-weight="normal" transform="translate(371.44 176.5) scale(1 1.07) translate(-371.44 -176.5)" >50</text>
<text x="396.36" y="176.5" font-size="9" text-anchor="middle" fill="#000" font-weight="normal" transform="translate(396.36 176.5) scale(1 1.07) translate(-396.36 -176.5)" >60</text>
<text x="421.28" y="176.5" font-size="9" text-anchor="middle" fill="#000" font-weight="normal" transform="translate(421.28 176.5) scale(1 1.07) translate(-421.28 -176.5)" >70</text>
<text x="446.2" y="176.5" font-size="9" text-anchor="middle" fill="#000" font-weight="normal" transform="translate(446.2 176.5) scale(1 1.07) translate(-446.2 -176.5)" >80</text>
<line x1="298.8" y1="162.4" x2="310.6" y2="151" stroke="#000" stroke-width="1.8" />
<line x1="315.4" y1="162.4" x2="326.3" y2="151.4" stroke="#000" stroke-width="1.8" />
<text x="354.2" y="192.6" font-size="8.8" text-anchor="middle" fill="#000" font-weight="normal" transform="translate(354.2 192.6) scale(1 1.07) translate(-354.2 -192.6)" >Time/Min</text>
<path d="M338.7,96.8 L331.7,107.2 L336.1,107.5 L332.5,117.2 L342.4,105.3 L338.4,105Z" fill="#fae66a"/>
<path d="M326.9,114.4 L319.9,124.8 L324.3,125.1 L320.7,134.8 L330.6,122.9 L326.6,122.6Z" fill="#fae66a"/>
<text x="303.2" y="107.4" font-size="8.8" text-anchor="start" fill="#000" font-weight="normal" transform="translate(303.2 107.4) scale(1 1.07) translate(-303.2 -107.4)" >TBS</text>
<line x1="315" y1="119.3" x2="315" y2="147" stroke="#000" stroke-width="1.8" />
<path d="M310.7,144.8 L319.3,144.8 L315,152Z" fill="#000"/>
<line x1="261.4" y1="78.48" x2="261.4" y2="84.76" stroke="#ff5a3a" stroke-width="1" />
<line x1="259.5" y1="78.48" x2="263.3" y2="78.48" stroke="#ff5a3a" stroke-width="1" />
<line x1="259.5" y1="84.76" x2="263.3" y2="84.76" stroke="#ff5a3a" stroke-width="1" />
<line x1="263.12" y1="81.73" x2="263.12" y2="85.45" stroke="#ff5a3a" stroke-width="1" />
<line x1="261.23" y1="81.73" x2="265.02" y2="81.73" stroke="#ff5a3a" stroke-width="1" />
<line x1="261.23" y1="85.45" x2="265.02" y2="85.45" stroke="#ff5a3a" stroke-width="1" />
<line x1="264.85" y1="78.75" x2="264.85" y2="84.4" stroke="#ff5a3a" stroke-width="1" />
<line x1="262.95" y1="78.75" x2="266.75" y2="78.75" stroke="#ff5a3a" stroke-width="1" />
<line x1="262.95" y1="84.4" x2="266.75" y2="84.4" stroke="#ff5a3a" stroke-width="1" />
<line x1="266.57" y1="79.61" x2="266.57" y2="83.99" stroke="#ff5a3a" stroke-width="1" />
<line x1="264.68" y1="79.61" x2="268.47" y2="79.61" stroke="#ff5a3a" stroke-width="1" />
<line x1="264.68" y1="83.99" x2="268.47" y2="83.99" stroke="#ff5a3a" stroke-width="1" />
<line x1="268.3" y1="79.15" x2="268.3" y2="84.42" stroke="#ff5a3a" stroke-width="1" />
<line x1="266.4" y1="79.15" x2="270.2" y2="79.15" stroke="#ff5a3a" stroke-width="1" />
<line x1="266.4" y1="84.42" x2="270.2" y2="84.42" stroke="#ff5a3a" stroke-width="1" />
<line x1="270.02" y1="79.71" x2="270.02" y2="83.65" stroke="#ff5a3a" stroke-width="1" />
<line x1="268.12" y1="79.71" x2="271.92" y2="79.71" stroke="#ff5a3a" stroke-width="1" />
<line x1="268.12" y1="83.65" x2="271.92" y2="83.65" stroke="#ff5a3a" stroke-width="1" />
<line x1="271.75" y1="79.56" x2="271.75" y2="84.19" stroke="#ff5a3a" stroke-width="1" />
<line x1="269.85" y1="79.56" x2="273.65" y2="79.56" stroke="#ff5a3a" stroke-width="1" />
<line x1="269.85" y1="84.19" x2="273.65" y2="84.19" stroke="#ff5a3a" stroke-width="1" />
<line x1="273.47" y1="74.89" x2="273.47" y2="82.59" stroke="#ff5a3a" stroke-width="1" />
<line x1="271.57" y1="74.89" x2="275.37" y2="74.89" stroke="#ff5a3a" stroke-width="1" />
<line x1="271.57" y1="82.59" x2="275.37" y2="82.59" stroke="#ff5a3a" stroke-width="1" />
<line x1="275.2" y1="83.64" x2="275.2" y2="87.7" stroke="#ff5a3a" stroke-width="1" />
<line x1="273.3" y1="83.64" x2="277.1" y2="83.64" stroke="#ff5a3a" stroke-width="1" />
<line x1="273.3" y1="87.7" x2="277.1" y2="87.7" stroke="#ff5a3a" stroke-width="1" />
<line x1="276.92" y1="81.55" x2="276.92" y2="84.11" stroke="#ff5a3a" stroke-width="1" />
<line x1="275.02" y1="81.55" x2="278.82" y2="81.55" stroke="#ff5a3a" stroke-width="1" />
<line x1="275.02" y1="84.11" x2="278.82" y2="84.11" stroke="#ff5a3a" stroke-width="1" />
<line x1="278.65" y1="82.74" x2="278.65" y2="84.87" stroke="#ff5a3a" stroke-width="1" />
<line x1="276.75" y1="82.74" x2="280.55" y2="82.74" stroke="#ff5a3a" stroke-width="1" />
<line x1="276.75" y1="84.87" x2="280.55" y2="84.87" stroke="#ff5a3a" stroke-width="1" />
<line x1="280.38" y1="81.46" x2="280.38" y2="84.11" stroke="#ff5a3a" stroke-width="1" />
<line x1="278.48" y1="81.46" x2="282.27" y2="81.46" stroke="#ff5a3a" stroke-width="1" />
<line x1="278.48" y1="84.11" x2="282.27" y2="84.11" stroke="#ff5a3a" stroke-width="1" />
<line x1="282.1" y1="81.15" x2="282.1" y2="84.82" stroke="#ff5a3a" stroke-width="1" />
<line x1="280.2" y1="81.15" x2="284" y2="81.15" stroke="#ff5a3a" stroke-width="1" />
<line x1="280.2" y1="84.82" x2="284" y2="84.82" stroke="#ff5a3a" stroke-width="1" />
<line x1="283.82" y1="81.1" x2="283.82" y2="84.18" stroke="#ff5a3a" stroke-width="1" />
<line x1="281.93" y1="81.1" x2="285.72" y2="81.1" stroke="#ff5a3a" stroke-width="1" />
<line x1="281.93" y1="84.18" x2="285.72" y2="84.18" stroke="#ff5a3a" stroke-width="1" />
<line x1="285.55" y1="82.27" x2="285.55" y2="84.39" stroke="#ff5a3a" stroke-width="1" />
<line x1="283.65" y1="82.27" x2="287.45" y2="82.27" stroke="#ff5a3a" stroke-width="1" />
<line x1="283.65" y1="84.39" x2="287.45" y2="84.39" stroke="#ff5a3a" stroke-width="1" />
<line x1="287.27" y1="81.95" x2="287.27" y2="84.28" stroke="#ff5a3a" stroke-width="1" />
<line x1="285.38" y1="81.95" x2="289.17" y2="81.95" stroke="#ff5a3a" stroke-width="1" />
<line x1="285.38" y1="84.28" x2="289.17" y2="84.28" stroke="#ff5a3a" stroke-width="1" />
<line x1="289" y1="80.75" x2="289" y2="84.61" stroke="#ff5a3a" stroke-width="1" />
<line x1="287.1" y1="80.75" x2="290.9" y2="80.75" stroke="#ff5a3a" stroke-width="1" />
<line x1="287.1" y1="84.61" x2="290.9" y2="84.61" stroke="#ff5a3a" stroke-width="1" />
<line x1="290.72" y1="81.08" x2="290.72" y2="83.49" stroke="#ff5a3a" stroke-width="1" />
<line x1="288.82" y1="81.08" x2="292.62" y2="81.08" stroke="#ff5a3a" stroke-width="1" />
<line x1="288.82" y1="83.49" x2="292.62" y2="83.49" stroke="#ff5a3a" stroke-width="1" />
<line x1="292.45" y1="80.02" x2="292.45" y2="83.51" stroke="#ff5a3a" stroke-width="1" />
<line x1="290.55" y1="80.02" x2="294.35" y2="80.02" stroke="#ff5a3a" stroke-width="1" />
<line x1="290.55" y1="83.51" x2="294.35" y2="83.51" stroke="#ff5a3a" stroke-width="1" />
<line x1="294.17" y1="80.3" x2="294.17" y2="83.99" stroke="#ff5a3a" stroke-width="1" />
<line x1="292.27" y1="80.3" x2="296.07" y2="80.3" stroke="#ff5a3a" stroke-width="1" />
<line x1="292.27" y1="83.99" x2="296.07" y2="83.99" stroke="#ff5a3a" stroke-width="1" />
<line x1="295.9" y1="80.33" x2="295.9" y2="83.82" stroke="#ff5a3a" stroke-width="1" />
<line x1="294" y1="80.33" x2="297.8" y2="80.33" stroke="#ff5a3a" stroke-width="1" />
<line x1="294" y1="83.82" x2="297.8" y2="83.82" stroke="#ff5a3a" stroke-width="1" />
<line x1="297.62" y1="82.13" x2="297.62" y2="87.23" stroke="#ff5a3a" stroke-width="1" />
<line x1="295.73" y1="82.13" x2="299.52" y2="82.13" stroke="#ff5a3a" stroke-width="1" />
<line x1="295.73" y1="87.23" x2="299.52" y2="87.23" stroke="#ff5a3a" stroke-width="1" />
<line x1="321.6" y1="87.28" x2="321.6" y2="99.9" stroke="#ff5a3a" stroke-width="1" />
<line x1="319.7" y1="87.28" x2="323.5" y2="87.28" stroke="#ff5a3a" stroke-width="1" />
<line x1="319.7" y1="99.9" x2="323.5" y2="99.9" stroke="#ff5a3a" stroke-width="1" />
<line x1="324.09" y1="84.15" x2="324.09" y2="102.04" stroke="#ff5a3a" stroke-width="1" />
<line x1="322.19" y1="84.15" x2="325.99" y2="84.15" stroke="#ff5a3a" stroke-width="1" />
<line x1="322.19" y1="102.04" x2="325.99" y2="102.04" stroke="#ff5a3a" stroke-width="1" />
<line x1="326.58" y1="74.64" x2="326.58" y2="90.76" stroke="#ff5a3a" stroke-width="1" />
<line x1="324.68" y1="74.64" x2="328.48" y2="74.64" stroke="#ff5a3a" stroke-width="1" />
<line x1="324.68" y1="90.76" x2="328.48" y2="90.76" stroke="#ff5a3a" stroke-width="1" />
<line x1="329.08" y1="74.24" x2="329.08" y2="99.08" stroke="#ff5a3a" stroke-width="1" />
<line x1="327.18" y1="74.24" x2="330.98" y2="74.24" stroke="#ff5a3a" stroke-width="1" />
<line x1="327.18" y1="99.08" x2="330.98" y2="99.08" stroke="#ff5a3a" stroke-width="1" />
<line x1="331.57" y1="66.87" x2="331.57" y2="90.61" stroke="#ff5a3a" stroke-width="1" />
<line x1="329.67" y1="66.87" x2="333.47" y2="66.87" stroke="#ff5a3a" stroke-width="1" />
<line x1="329.67" y1="90.61" x2="333.47" y2="90.61" stroke="#ff5a3a" stroke-width="1" />
<line x1="334.06" y1="63.7" x2="334.06" y2="97.79" stroke="#ff5a3a" stroke-width="1" />
<line x1="332.16" y1="63.7" x2="335.96" y2="63.7" stroke="#ff5a3a" stroke-width="1" />
<line x1="332.16" y1="97.79" x2="335.96" y2="97.79" stroke="#ff5a3a" stroke-width="1" />
<line x1="336.55" y1="65.38" x2="336.55" y2="92.22" stroke="#ff5a3a" stroke-width="1" />
<line x1="334.65" y1="65.38" x2="338.45" y2="65.38" stroke="#ff5a3a" stroke-width="1" />
<line x1="334.65" y1="92.22" x2="338.45" y2="92.22" stroke="#ff5a3a" stroke-width="1" />
<line x1="339.04" y1="62.92" x2="339.04" y2="97.05" stroke="#ff5a3a" stroke-width="1" />
<line x1="337.14" y1="62.92" x2="340.94" y2="62.92" stroke="#ff5a3a" stroke-width="1" />
<line x1="337.14" y1="97.05" x2="340.94" y2="97.05" stroke="#ff5a3a" stroke-width="1" />
<line x1="341.54" y1="66.03" x2="341.54" y2="92.83" stroke="#ff5a3a" stroke-width="1" />
<line x1="339.64" y1="66.03" x2="343.44" y2="66.03" stroke="#ff5a3a" stroke-width="1" />
<line x1="339.64" y1="92.83" x2="343.44" y2="92.83" stroke="#ff5a3a" stroke-width="1" />
<line x1="344.03" y1="69.23" x2="344.03" y2="93.2" stroke="#ff5a3a" stroke-width="1" />
<line x1="342.13" y1="69.23" x2="345.93" y2="69.23" stroke="#ff5a3a" stroke-width="1" />
<line x1="342.13" y1="93.2" x2="345.93" y2="93.2" stroke="#ff5a3a" stroke-width="1" />
<line x1="346.52" y1="68.9" x2="346.52" y2="90.13" stroke="#ff5a3a" stroke-width="1" />
<line x1="344.62" y1="68.9" x2="348.42" y2="68.9" stroke="#ff5a3a" stroke-width="1" />
<line x1="344.62" y1="90.13" x2="348.42" y2="90.13" stroke="#ff5a3a" stroke-width="1" />
<line x1="349.01" y1="67.44" x2="349.01" y2="90.1" stroke="#ff5a3a" stroke-width="1" />
<line x1="347.11" y1="67.44" x2="350.91" y2="67.44" stroke="#ff5a3a" stroke-width="1" />
<line x1="347.11" y1="90.1" x2="350.91" y2="90.1" stroke="#ff5a3a" stroke-width="1" />
<line x1="351.5" y1="67.2" x2="351.5" y2="90.31" stroke="#ff5a3a" stroke-width="1" />
<line x1="349.6" y1="67.2" x2="353.4" y2="67.2" stroke="#ff5a3a" stroke-width="1" />
<line x1="349.6" y1="90.31" x2="353.4" y2="90.31" stroke="#ff5a3a" stroke-width="1" />
<line x1="354" y1="64.07" x2="354" y2="93.12" stroke="#ff5a3a" stroke-width="1" />
<line x1="352.1" y1="64.07" x2="355.9" y2="64.07" stroke="#ff5a3a" stroke-width="1" />
<line x1="352.1" y1="93.12" x2="355.9" y2="93.12" stroke="#ff5a3a" stroke-width="1" />
<line x1="356.49" y1="67.26" x2="356.49" y2="93.16" stroke="#ff5a3a" stroke-width="1" />
<line x1="354.59" y1="67.26" x2="358.39" y2="67.26" stroke="#ff5a3a" stroke-width="1" />
<line x1="354.59" y1="93.16" x2="358.39" y2="93.16" stroke="#ff5a3a" stroke-width="1" />
<line x1="358.98" y1="66.32" x2="358.98" y2="93.05" stroke="#ff5a3a" stroke-width="1" />
<line x1="357.08" y1="66.32" x2="360.88" y2="66.32" stroke="#ff5a3a" stroke-width="1" />
<line x1="357.08" y1="93.05" x2="360.88" y2="93.05" stroke="#ff5a3a" stroke-width="1" />
<line x1="361.47" y1="70.52" x2="361.47" y2="91.27" stroke="#ff5a3a" stroke-width="1" />
<line x1="359.57" y1="70.52" x2="363.37" y2="70.52" stroke="#ff5a3a" stroke-width="1" />
<line x1="359.57" y1="91.27" x2="363.37" y2="91.27" stroke="#ff5a3a" stroke-width="1" />
<line x1="363.96" y1="64.47" x2="363.96" y2="95.89" stroke="#ff5a3a" stroke-width="1" />
<line x1="362.06" y1="64.47" x2="365.86" y2="64.47" stroke="#ff5a3a" stroke-width="1" />
<line x1="362.06" y1="95.89" x2="365.86" y2="95.89" stroke="#ff5a3a" stroke-width="1" />
<line x1="366.46" y1="70.59" x2="366.46" y2="88.99" stroke="#ff5a3a" stroke-width="1" />
<line x1="364.56" y1="70.59" x2="368.36" y2="70.59" stroke="#ff5a3a" stroke-width="1" />
<line x1="364.56" y1="88.99" x2="368.36" y2="88.99" stroke="#ff5a3a" stroke-width="1" />
<line x1="368.95" y1="65.2" x2="368.95" y2="92.97" stroke="#ff5a3a" stroke-width="1" />
<line x1="367.05" y1="65.2" x2="370.85" y2="65.2" stroke="#ff5a3a" stroke-width="1" />
<line x1="367.05" y1="92.97" x2="370.85" y2="92.97" stroke="#ff5a3a" stroke-width="1" />
<line x1="371.44" y1="68.9" x2="371.44" y2="88.64" stroke="#ff5a3a" stroke-width="1" />
<line x1="369.54" y1="68.9" x2="373.34" y2="68.9" stroke="#ff5a3a" stroke-width="1" />
<line x1="369.54" y1="88.64" x2="373.34" y2="88.64" stroke="#ff5a3a" stroke-width="1" />
<line x1="373.93" y1="70.53" x2="373.93" y2="88.17" stroke="#ff5a3a" stroke-width="1" />
<line x1="372.03" y1="70.53" x2="375.83" y2="70.53" stroke="#ff5a3a" stroke-width="1" />
<line x1="372.03" y1="88.17" x2="375.83" y2="88.17" stroke="#ff5a3a" stroke-width="1" />
<line x1="376.42" y1="69.42" x2="376.42" y2="89.94" stroke="#ff5a3a" stroke-width="1" />
<line x1="374.52" y1="69.42" x2="378.32" y2="69.42" stroke="#ff5a3a" stroke-width="1" />
<line x1="374.52" y1="89.94" x2="378.32" y2="89.94" stroke="#ff5a3a" stroke-width="1" />
<line x1="378.92" y1="68.41" x2="378.92" y2="92.67" stroke="#ff5a3a" stroke-width="1" />
<line x1="377.02" y1="68.41" x2="380.82" y2="68.41" stroke="#ff5a3a" stroke-width="1" />
<line x1="377.02" y1="92.67" x2="380.82" y2="92.67" stroke="#ff5a3a" stroke-width="1" />
<line x1="381.41" y1="70.76" x2="381.41" y2="90.38" stroke="#ff5a3a" stroke-width="1" />
<line x1="379.51" y1="70.76" x2="383.31" y2="70.76" stroke="#ff5a3a" stroke-width="1" />
<line x1="379.51" y1="90.38" x2="383.31" y2="90.38" stroke="#ff5a3a" stroke-width="1" />
<line x1="383.9" y1="70.01" x2="383.9" y2="86.03" stroke="#ff5a3a" stroke-width="1" />
<line x1="382" y1="70.01" x2="385.8" y2="70.01" stroke="#ff5a3a" stroke-width="1" />
<line x1="382" y1="86.03" x2="385.8" y2="86.03" stroke="#ff5a3a" stroke-width="1" />
<line x1="386.39" y1="68.25" x2="386.39" y2="90.95" stroke="#ff5a3a" stroke-width="1" />
<line x1="384.49" y1="68.25" x2="388.29" y2="68.25" stroke="#ff5a3a" stroke-width="1" />
<line x1="384.49" y1="90.95" x2="388.29" y2="90.95" stroke="#ff5a3a" stroke-width="1" />
<line x1="388.88" y1="68.44" x2="388.88" y2="88.83" stroke="#ff5a3a" stroke-width="1" />
<line x1="386.98" y1="68.44" x2="390.78" y2="68.44" stroke="#ff5a3a" stroke-width="1" />
<line x1="386.98" y1="88.83" x2="390.78" y2="88.83" stroke="#ff5a3a" stroke-width="1" />
<line x1="391.38" y1="71.4" x2="391.38" y2="87.54" stroke="#ff5a3a" stroke-width="1" />
<line x1="389.48" y1="71.4" x2="393.28" y2="71.4" stroke="#ff5a3a" stroke-width="1" />
<line x1="389.48" y1="87.54" x2="393.28" y2="87.54" stroke="#ff5a3a" stroke-width="1" />
<line x1="393.87" y1="69.26" x2="393.87" y2="88.19" stroke="#ff5a3a" stroke-width="1" />
<line x1="391.97" y1="69.26" x2="395.77" y2="69.26" stroke="#ff5a3a" stroke-width="1" />
<line x1="391.97" y1="88.19" x2="395.77" y2="88.19" stroke="#ff5a3a" stroke-width="1" />
<line x1="396.36" y1="68.02" x2="396.36" y2="89.3" stroke="#ff5a3a" stroke-width="1" />
<line x1="394.46" y1="68.02" x2="398.26" y2="68.02" stroke="#ff5a3a" stroke-width="1" />
<line x1="394.46" y1="89.3" x2="398.26" y2="89.3" stroke="#ff5a3a" stroke-width="1" />
<line x1="398.85" y1="69.24" x2="398.85" y2="87.76" stroke="#ff5a3a" stroke-width="1" />
<line x1="396.95" y1="69.24" x2="400.75" y2="69.24" stroke="#ff5a3a" stroke-width="1" />
<line x1="396.95" y1="87.76" x2="400.75" y2="87.76" stroke="#ff5a3a" stroke-width="1" />
<line x1="401.34" y1="71.42" x2="401.34" y2="84.94" stroke="#ff5a3a" stroke-width="1" />
<line x1="399.44" y1="71.42" x2="403.24" y2="71.42" stroke="#ff5a3a" stroke-width="1" />
<line x1="399.44" y1="84.94" x2="403.24" y2="84.94" stroke="#ff5a3a" stroke-width="1" />
<line x1="403.84" y1="70.33" x2="403.84" y2="81.33" stroke="#ff5a3a" stroke-width="1" />
<line x1="401.94" y1="70.33" x2="405.74" y2="70.33" stroke="#ff5a3a" stroke-width="1" />
<line x1="401.94" y1="81.33" x2="405.74" y2="81.33" stroke="#ff5a3a" stroke-width="1" />
<line x1="406.33" y1="70.11" x2="406.33" y2="85.42" stroke="#ff5a3a" stroke-width="1" />
<line x1="404.43" y1="70.11" x2="408.23" y2="70.11" stroke="#ff5a3a" stroke-width="1" />
<line x1="404.43" y1="85.42" x2="408.23" y2="85.42" stroke="#ff5a3a" stroke-width="1" />
<line x1="408.82" y1="72.3" x2="408.82" y2="82.17" stroke="#ff5a3a" stroke-width="1" />
<line x1="406.92" y1="72.3" x2="410.72" y2="72.3" stroke="#ff5a3a" stroke-width="1" />
<line x1="406.92" y1="82.17" x2="410.72" y2="82.17" stroke="#ff5a3a" stroke-width="1" />
<line x1="411.31" y1="70.18" x2="411.31" y2="80.83" stroke="#ff5a3a" stroke-width="1" />
<line x1="409.41" y1="70.18" x2="413.21" y2="70.18" stroke="#ff5a3a" stroke-width="1" />
<line x1="409.41" y1="80.83" x2="413.21" y2="80.83" stroke="#ff5a3a" stroke-width="1" />
<line x1="413.8" y1="72.36" x2="413.8" y2="84.44" stroke="#ff5a3a" stroke-width="1" />
<line x1="411.9" y1="72.36" x2="415.7" y2="72.36" stroke="#ff5a3a" stroke-width="1" />
<line x1="411.9" y1="84.44" x2="415.7" y2="84.44" stroke="#ff5a3a" stroke-width="1" />
<line x1="416.3" y1="69.19" x2="416.3" y2="84.31" stroke="#ff5a3a" stroke-width="1" />
<line x1="414.4" y1="69.19" x2="418.2" y2="69.19" stroke="#ff5a3a" stroke-width="1" />
<line x1="414.4" y1="84.31" x2="418.2" y2="84.31" stroke="#ff5a3a" stroke-width="1" />
<line x1="418.79" y1="72.41" x2="418.79" y2="84.2" stroke="#ff5a3a" stroke-width="1" />
<line x1="416.89" y1="72.41" x2="420.69" y2="72.41" stroke="#ff5a3a" stroke-width="1" />
<line x1="416.89" y1="84.2" x2="420.69" y2="84.2" stroke="#ff5a3a" stroke-width="1" />
<line x1="421.28" y1="72.35" x2="421.28" y2="84.88" stroke="#ff5a3a" stroke-width="1" />
<line x1="419.38" y1="72.35" x2="423.18" y2="72.35" stroke="#ff5a3a" stroke-width="1" />
<line x1="419.38" y1="84.88" x2="423.18" y2="84.88" stroke="#ff5a3a" stroke-width="1" />
<line x1="423.77" y1="69.17" x2="423.77" y2="83.82" stroke="#ff5a3a" stroke-width="1" />
<line x1="421.87" y1="69.17" x2="425.67" y2="69.17" stroke="#ff5a3a" stroke-width="1" />
<line x1="421.87" y1="83.82" x2="425.67" y2="83.82" stroke="#ff5a3a" stroke-width="1" />
<line x1="426.26" y1="68.85" x2="426.26" y2="83.47" stroke="#ff5a3a" stroke-width="1" />
<line x1="424.36" y1="68.85" x2="428.16" y2="68.85" stroke="#ff5a3a" stroke-width="1" />
<line x1="424.36" y1="83.47" x2="428.16" y2="83.47" stroke="#ff5a3a" stroke-width="1" />
<line x1="428.76" y1="69.3" x2="428.76" y2="83.39" stroke="#ff5a3a" stroke-width="1" />
<line x1="426.86" y1="69.3" x2="430.66" y2="69.3" stroke="#ff5a3a" stroke-width="1" />
<line x1="426.86" y1="83.39" x2="430.66" y2="83.39" stroke="#ff5a3a" stroke-width="1" />
<line x1="431.25" y1="72.38" x2="431.25" y2="82.75" stroke="#ff5a3a" stroke-width="1" />
<line x1="429.35" y1="72.38" x2="433.15" y2="72.38" stroke="#ff5a3a" stroke-width="1" />
<line x1="429.35" y1="82.75" x2="433.15" y2="82.75" stroke="#ff5a3a" stroke-width="1" />
<line x1="433.74" y1="71.61" x2="433.74" y2="82.54" stroke="#ff5a3a" stroke-width="1" />
<line x1="431.84" y1="71.61" x2="435.64" y2="71.61" stroke="#ff5a3a" stroke-width="1" />
<line x1="431.84" y1="82.54" x2="435.64" y2="82.54" stroke="#ff5a3a" stroke-width="1" />
<line x1="436.23" y1="72.92" x2="436.23" y2="84.68" stroke="#ff5a3a" stroke-width="1" />
<line x1="434.33" y1="72.92" x2="438.13" y2="72.92" stroke="#ff5a3a" stroke-width="1" />
<line x1="434.33" y1="84.68" x2="438.13" y2="84.68" stroke="#ff5a3a" stroke-width="1" />
<line x1="438.72" y1="71.91" x2="438.72" y2="81.23" stroke="#ff5a3a" stroke-width="1" />
<line x1="436.82" y1="71.91" x2="440.62" y2="71.91" stroke="#ff5a3a" stroke-width="1" />
<line x1="436.82" y1="81.23" x2="440.62" y2="81.23" stroke="#ff5a3a" stroke-width="1" />
<line x1="441.22" y1="71.94" x2="441.22" y2="83.06" stroke="#ff5a3a" stroke-width="1" />
<line x1="439.32" y1="71.94" x2="443.12" y2="71.94" stroke="#ff5a3a" stroke-width="1" />
<line x1="439.32" y1="83.06" x2="443.12" y2="83.06" stroke="#ff5a3a" stroke-width="1" />
<line x1="443.71" y1="79.8" x2="443.71" y2="87.58" stroke="#ff5a3a" stroke-width="1" />
<line x1="441.81" y1="79.8" x2="445.61" y2="79.8" stroke="#ff5a3a" stroke-width="1" />
<line x1="441.81" y1="87.58" x2="445.61" y2="87.58" stroke="#ff5a3a" stroke-width="1" />
<line x1="446.2" y1="72.67" x2="446.2" y2="82.83" stroke="#ff5a3a" stroke-width="1" />
<line x1="444.3" y1="72.67" x2="448.1" y2="72.67" stroke="#ff5a3a" stroke-width="1" />
<line x1="444.3" y1="82.83" x2="448.1" y2="82.83" stroke="#ff5a3a" stroke-width="1" />
<circle cx="261.4" cy="81.62" r="2.09" fill="none" stroke="#ff2a0a" stroke-width="1.6"/>
<circle cx="263.12" cy="83.59" r="2.09" fill="none" stroke="#ff2a0a" stroke-width="1.6"/>
<circle cx="264.85" cy="81.57" r="2.09" fill="none" stroke="#ff2a0a" stroke-width="1.6"/>
<circle cx="266.57" cy="81.8" r="2.09" fill="none" stroke="#ff2a0a" stroke-width="1.6"/>
<circle cx="268.3" cy="81.79" r="2.09" fill="none" stroke="#ff2a0a" stroke-width="1.6"/>
<circle cx="270.02" cy="81.68" r="2.09" fill="none" stroke="#ff2a0a" stroke-width="1.6"/>
<circle cx="271.75" cy="81.87" r="2.09" fill="none" stroke="#ff2a0a" stroke-width="1.6"/>
<circle cx="273.47" cy="78.74" r="2.09" fill="none" stroke="#ff2a0a" stroke-width="1.6"/>
<circle cx="275.2" cy="85.67" r="2.09" fill="none" stroke="#ff2a0a" stroke-width="1.6"/>
<circle cx="276.92" cy="82.83" r="2.09" fill="none" stroke="#ff2a0a" stroke-width="1.6"/>
<circle cx="278.65" cy="83.8" r="2.09" fill="none" stroke="#ff2a0a" stroke-width="1.6"/>
<circle cx="280.38" cy="82.78" r="2.09" fill="none" stroke="#ff2a0a" stroke-width="1.6"/>
<circle cx="282.1" cy="82.99" r="2.09" fill="none" stroke="#ff2a0a" stroke-width="1.6"/>
<circle cx="283.82" cy="82.64" r="2.09" fill="none" stroke="#ff2a0a" stroke-width="1.6"/>
<circle cx="285.55" cy="83.33" r="2.09" fill="none" stroke="#ff2a0a" stroke-width="1.6"/>
<circle cx="287.27" cy="83.12" r="2.09" fill="none" stroke="#ff2a0a" stroke-width="1.6"/>
<circle cx="289" cy="82.68" r="2.09" fill="none" stroke="#ff2a0a" stroke-width="1.6"/>
<circle cx="290.72" cy="82.29" r="2.09" fill="none" stroke="#ff2a0a" stroke-width="1.6"/>
<circle cx="292.45" cy="81.76" r="2.09" fill="none" stroke="#ff2a0a" stroke-width="1.6"/>
<circle cx="294.17" cy="82.14" r="2.09" fill="none" stroke="#ff2a0a" stroke-width="1.6"/>
<circle cx="295.9" cy="82.08" r="2.09" fill="none" stroke="#ff2a0a" stroke-width="1.6"/>
<circle cx="297.62" cy="84.68" r="2.09" fill="none" stroke="#ff2a0a" stroke-width="1.6"/>
<circle cx="321.6" cy="93.59" r="2.09" fill="none" stroke="#ff2a0a" stroke-width="1.6"/>
<circle cx="324.09" cy="93.09" r="2.09" fill="none" stroke="#ff2a0a" stroke-width="1.6"/>
<circle cx="326.58" cy="82.7" r="2.09" fill="none" stroke="#ff2a0a" stroke-width="1.6"/>
<circle cx="329.08" cy="86.66" r="2.09" fill="none" stroke="#ff2a0a" stroke-width="1.6"/>
<circle cx="331.57" cy="78.74" r="2.09" fill="none" stroke="#ff2a0a" stroke-width="1.6"/>
<circle cx="334.06" cy="80.75" r="2.09" fill="none" stroke="#ff2a0a" stroke-width="1.6"/>
<circle cx="336.55" cy="78.8" r="2.09" fill="none" stroke="#ff2a0a" stroke-width="1.6"/>
<circle cx="339.04" cy="79.98" r="2.09" fill="none" stroke="#ff2a0a" stroke-width="1.6"/>
<circle cx="341.54" cy="79.43" r="2.09" fill="none" stroke="#ff2a0a" stroke-width="1.6"/>
<circle cx="344.03" cy="81.22" r="2.09" fill="none" stroke="#ff2a0a" stroke-width="1.6"/>
<circle cx="346.52" cy="79.51" r="2.09" fill="none" stroke="#ff2a0a" stroke-width="1.6"/>
<circle cx="349.01" cy="78.77" r="2.09" fill="none" stroke="#ff2a0a" stroke-width="1.6"/>
<circle cx="351.5" cy="78.76" r="2.09" fill="none" stroke="#ff2a0a" stroke-width="1.6"/>
<circle cx="354" cy="78.59" r="2.09" fill="none" stroke="#ff2a0a" stroke-width="1.6"/>
<circle cx="356.49" cy="80.21" r="2.09" fill="none" stroke="#ff2a0a" stroke-width="1.6"/>
<circle cx="358.98" cy="79.69" r="2.09" fill="none" stroke="#ff2a0a" stroke-width="1.6"/>
<circle cx="361.47" cy="80.9" r="2.09" fill="none" stroke="#ff2a0a" stroke-width="1.6"/>
<circle cx="363.96" cy="80.18" r="2.09" fill="none" stroke="#ff2a0a" stroke-width="1.6"/>
<circle cx="366.46" cy="79.79" r="2.09" fill="none" stroke="#ff2a0a" stroke-width="1.6"/>
<circle cx="368.95" cy="79.08" r="2.09" fill="none" stroke="#ff2a0a" stroke-width="1.6"/>
<circle cx="371.44" cy="78.77" r="2.09" fill="none" stroke="#ff2a0a" stroke-width="1.6"/>
<circle cx="373.93" cy="79.35" r="2.09" fill="none" stroke="#ff2a0a" stroke-width="1.6"/>
<circle cx="376.42" cy="79.68" r="2.09" fill="none" stroke="#ff2a0a" stroke-width="1.6"/>
<circle cx="378.92" cy="80.54" r="2.09" fill="none" stroke="#ff2a0a" stroke-width="1.6"/>
<circle cx="381.41" cy="80.57" r="2.09" fill="none" stroke="#ff2a0a" stroke-width="1.6"/>
<circle cx="383.9" cy="78.02" r="2.09" fill="none" stroke="#ff2a0a" stroke-width="1.6"/>
<circle cx="386.39" cy="79.6" r="2.09" fill="none" stroke="#ff2a0a" stroke-width="1.6"/>
<circle cx="388.88" cy="78.64" r="2.09" fill="none" stroke="#ff2a0a" stroke-width="1.6"/>
<circle cx="391.38" cy="79.47" r="2.09" fill="none" stroke="#ff2a0a" stroke-width="1.6"/>
<circle cx="393.87" cy="78.72" r="2.09" fill="none" stroke="#ff2a0a" stroke-width="1.6"/>
<circle cx="396.36" cy="78.66" r="2.09" fill="none" stroke="#ff2a0a" stroke-width="1.6"/>
<circle cx="398.85" cy="78.5" r="2.09" fill="none" stroke="#ff2a0a" stroke-width="1.6"/>
<circle cx="401.34" cy="78.18" r="2.09" fill="none" stroke="#ff2a0a" stroke-width="1.6"/>
<circle cx="403.84" cy="75.83" r="2.09" fill="none" stroke="#ff2a0a" stroke-width="1.6"/>
<circle cx="406.33" cy="77.77" r="2.09" fill="none" stroke="#ff2a0a" stroke-width="1.6"/>
<circle cx="408.82" cy="77.23" r="2.09" fill="none" stroke="#ff2a0a" stroke-width="1.6"/>
<circle cx="411.31" cy="75.5" r="2.09" fill="none" stroke="#ff2a0a" stroke-width="1.6"/>
<circle cx="413.8" cy="78.4" r="2.09" fill="none" stroke="#ff2a0a" stroke-width="1.6"/>
<circle cx="416.3" cy="76.75" r="2.09" fill="none" stroke="#ff2a0a" stroke-width="1.6"/>
<circle cx="418.79" cy="78.31" r="2.09" fill="none" stroke="#ff2a0a" stroke-width="1.6"/>
<circle cx="421.28" cy="78.62" r="2.09" fill="none" stroke="#ff2a0a" stroke-width="1.6"/>
<circle cx="423.77" cy="76.5" r="2.09" fill="none" stroke="#ff2a0a" stroke-width="1.6"/>
<circle cx="426.26" cy="76.16" r="2.09" fill="none" stroke="#ff2a0a" stroke-width="1.6"/>
<circle cx="428.76" cy="76.34" r="2.09" fill="none" stroke="#ff2a0a" stroke-width="1.6"/>
<circle cx="431.25" cy="77.57" r="2.09" fill="none" stroke="#ff2a0a" stroke-width="1.6"/>
<circle cx="433.74" cy="77.07" r="2.09" fill="none" stroke="#ff2a0a" stroke-width="1.6"/>
<circle cx="436.23" cy="78.8" r="2.09" fill="none" stroke="#ff2a0a" stroke-width="1.6"/>
<circle cx="438.72" cy="76.57" r="2.09" fill="none" stroke="#ff2a0a" stroke-width="1.6"/>
<circle cx="441.22" cy="77.5" r="2.09" fill="none" stroke="#ff2a0a" stroke-width="1.6"/>
<circle cx="443.71" cy="83.69" r="2.09" fill="none" stroke="#ff2a0a" stroke-width="1.6"/>
<circle cx="446.2" cy="77.75" r="2.09" fill="none" stroke="#ff2a0a" stroke-width="1.6"/>
<circle cx="276.3" cy="83.4" r="1.4" fill="#646464"/>
<circle cx="282.16" cy="83.4" r="1.4" fill="#646464"/>
<circle cx="288.02" cy="83.4" r="1.4" fill="#646464"/>
<circle cx="293.88" cy="83.4" r="1.4" fill="#646464"/>
<circle cx="299.74" cy="83.4" r="1.4" fill="#646464"/>
<circle cx="305.6" cy="83.4" r="1.4" fill="#646464"/>
<circle cx="311.46" cy="83.4" r="1.4" fill="#646464"/>
<circle cx="317.32" cy="83.4" r="1.4" fill="#646464"/>
<circle cx="323.19" cy="83.4" r="1.4" fill="#646464"/>
<circle cx="329.05" cy="83.4" r="1.4" fill="#646464"/>
<circle cx="334.91" cy="83.4" r="1.4" fill="#646464"/>
<circle cx="340.77" cy="83.4" r="1.4" fill="#646464"/>
<circle cx="346.63" cy="83.4" r="1.4" fill="#646464"/>
<circle cx="352.49" cy="83.4" r="1.4" fill="#646464"/>
<circle cx="358.35" cy="83.4" r="1.4" fill="#646464"/>
<circle cx="364.21" cy="83.4" r="1.4" fill="#646464"/>
<circle cx="370.07" cy="83.4" r="1.4" fill="#646464"/>
<circle cx="375.93" cy="83.4" r="1.4" fill="#646464"/>
<circle cx="381.79" cy="83.4" r="1.4" fill="#646464"/>
<circle cx="387.65" cy="83.4" r="1.4" fill="#646464"/>
<circle cx="393.51" cy="83.4" r="1.4" fill="#646464"/>
<circle cx="399.38" cy="83.4" r="1.4" fill="#646464"/>
<circle cx="405.24" cy="83.4" r="1.4" fill="#646464"/>
<circle cx="411.1" cy="83.4" r="1.4" fill="#646464"/>
<circle cx="416.96" cy="83.4" r="1.4" fill="#646464"/>
<circle cx="422.82" cy="83.4" r="1.4" fill="#646464"/>
<circle cx="428.68" cy="83.4" r="1.4" fill="#646464"/>
<circle cx="434.54" cy="83.4" r="1.4" fill="#646464"/>
<circle cx="440.4" cy="83.4" r="1.4" fill="#646464"/>
<circle cx="267.3" cy="39" r="2.09" fill="none" stroke="#ff2a0a" stroke-width="1.6"/>
<text x="289.9" y="41.9" font-size="8.95" text-anchor="start" fill="#000" font-weight="normal" transform="translate(289.9 41.9) scale(1 1.07) translate(-289.9 -41.9)" >YF476 N=3 n=7</text>
<line x1="363.9" y1="11.9" x2="377.6" y2="11.9" stroke="#f9a090" stroke-width="1.4" />
<line x1="363.9" y1="18.9" x2="377.6" y2="18.9" stroke="#ff2a0a" stroke-width="1.7" />
<text x="384.6" y="14.56" font-size="7" text-anchor="start" fill="#000" font-weight="normal" >Before</text>
<text x="384.6" y="21.56" font-size="7" text-anchor="start" fill="#000" font-weight="normal" >After</text>
<line x1="423.75" y1="9.9" x2="423.75" y2="18.15" stroke="#000" stroke-width="1.3" />
<line x1="423.1" y1="17.5" x2="434.6" y2="17.5" stroke="#000" stroke-width="1.3" />
<text x="420.5" y="25.7" font-size="7" text-anchor="start" fill="#000" font-weight="normal" >200ms</text>
<text x="418.8" y="14.2" font-size="6.8" text-anchor="middle" fill="#000" font-weight="normal" transform="rotate(-90 418.8 14.2)" >200μV</text>
<path d="M376.2,22.8 C376.2,23.82 375.77,27.45 376.2,28.9 C376.63,30.35 377.78,29.6 378.8,31.5 C379.82,33.4 381.13,36.93 382.3,40.3 C383.47,43.67 384.78,49.22 385.8,51.7 C386.82,54.18 387.23,55.07 388.4,55.2 C389.57,55.33 391.2,54.4 392.8,52.5 C394.4,50.6 395.97,46.72 398,43.8 C400.03,40.88 402.67,37.2 405,35 C407.33,32.8 409.07,31.68 412,30.6 C414.93,29.52 417.05,28.93 422.6,28.5 C428.15,28.07 441.52,28.08 445.3,28" fill="none" stroke="#ff2a0a" stroke-width="1.5" stroke-linejoin="round" stroke-linecap="round"/>
<text x="475.6" y="7" font-size="10.4" text-anchor="start" fill="#000" font-weight="bold" transform="translate(475.6 7) scale(1 1.07) translate(-475.6 -7)" >C</text>
<line x1="490.7" y1="32.4" x2="490.7" y2="157.9" stroke="#000" stroke-width="1.9" />
<line x1="482.4" y1="33.2" x2="490.7" y2="33.2" stroke="#000" stroke-width="1.6" />
<line x1="486.1" y1="53.83" x2="490.7" y2="53.83" stroke="#000" stroke-width="1.6" />
<line x1="486.1" y1="74.47" x2="490.7" y2="74.47" stroke="#000" stroke-width="1.6" />
<line x1="482.4" y1="95.1" x2="490.7" y2="95.1" stroke="#000" stroke-width="1.6" />
<line x1="486.1" y1="115.73" x2="490.7" y2="115.73" stroke="#000" stroke-width="1.6" />
<line x1="486.1" y1="136.37" x2="490.7" y2="136.37" stroke="#000" stroke-width="1.6" />
<line x1="482.4" y1="157" x2="490.7" y2="157" stroke="#000" stroke-width="1.6" />
<text x="481.5" y="33.2" font-size="9.3" text-anchor="middle" fill="#000" font-weight="normal" transform="rotate(-90 481.5 33.2) translate(481.5 33.2) scale(1 1.02) translate(-481.5 -33.2)" >150%</text>
<text x="481.5" y="95" font-size="9.3" text-anchor="middle" fill="#000" font-weight="normal" transform="rotate(-90 481.5 95) translate(481.5 95) scale(1 1.02) translate(-481.5 -95)" >100%</text>
<text x="481.5" y="157" font-size="9.3" text-anchor="middle" fill="#000" font-weight="normal" transform="rotate(-90 481.5 157) translate(481.5 157) scale(1 1.02) translate(-481.5 -157)" >50%</text>
<text x="466.4" y="98.3" font-size="8.9" text-anchor="middle" fill="#000" font-weight="normal" transform="rotate(-90 466.4 98.3) translate(466.4 98.3) scale(1 1.07) translate(-466.4 -98.3)" >fEPSP Amplitude</text>
<line x1="489.8" y1="157" x2="539.7" y2="157" stroke="#000" stroke-width="1.8" />
<line x1="555.7" y1="157" x2="677" y2="157" stroke="#000" stroke-width="1.8" />
<line x1="490.5" y1="157" x2="490.5" y2="165.2" stroke="#000" stroke-width="1.7" />
<line x1="510.1" y1="157" x2="510.1" y2="165.2" stroke="#000" stroke-width="1.7" />
<line x1="529.7" y1="157" x2="529.7" y2="165.2" stroke="#000" stroke-width="1.7" />
<line x1="580.02" y1="157" x2="580.02" y2="165.2" stroke="#000" stroke-width="1.7" />
<line x1="604.04" y1="157" x2="604.04" y2="165.2" stroke="#000" stroke-width="1.7" />
<line x1="628.06" y1="157" x2="628.06" y2="165.2" stroke="#000" stroke-width="1.7" />
<line x1="652.08" y1="157" x2="652.08" y2="165.2" stroke="#000" stroke-width="1.7" />
<line x1="676.1" y1="157" x2="676.1" y2="165.2" stroke="#000" stroke-width="1.7" />
<line x1="568.01" y1="157" x2="568.01" y2="161.4" stroke="#000" stroke-width="1.7" />
<line x1="592.03" y1="157" x2="592.03" y2="161.4" stroke="#000" stroke-width="1.7" />
<line x1="616.05" y1="157" x2="616.05" y2="161.4" stroke="#000" stroke-width="1.7" />
<line x1="640.07" y1="157" x2="640.07" y2="161.4" stroke="#000" stroke-width="1.7" />
<line x1="664.09" y1="157" x2="664.09" y2="161.4" stroke="#000" stroke-width="1.7" />
<text x="490.5" y="176.9" font-size="9" text-anchor="middle" fill="#000" font-weight="normal" transform="translate(490.5 176.9) scale(1 1.07) translate(-490.5 -176.9)" >0</text>
<text x="510.1" y="176.9" font-size="9" text-anchor="middle" fill="#000" font-weight="normal" transform="translate(510.1 176.9) scale(1 1.07) translate(-510.1 -176.9)" >10</text>
<text x="529.7" y="176.9" font-size="9" text-anchor="middle" fill="#000" font-weight="normal" transform="translate(529.7 176.9) scale(1 1.07) translate(-529.7 -176.9)" >20</text>
<text x="556" y="176.9" font-size="9" text-anchor="middle" fill="#000" font-weight="normal" transform="translate(556 176.9) scale(1 1.07) translate(-556 -176.9)" >30</text>
<text x="580.02" y="176.9" font-size="9" text-anchor="middle" fill="#000" font-weight="normal" transform="translate(580.02 176.9) scale(1 1.07) translate(-580.02 -176.9)" >40</text>
<text x="604.04" y="176.9" font-size="9" text-anchor="middle" fill="#000" font-weight="normal" transform="translate(604.04 176.9) scale(1 1.07) translate(-604.04 -176.9)" >50</text>
<text x="628.06" y="176.9" font-size="9" text-anchor="middle" fill="#000" font-weight="normal" transform="translate(628.06 176.9) scale(1 1.07) translate(-628.06 -176.9)" >60</text>
<text x="652.08" y="176.9" font-size="9" text-anchor="middle" fill="#000" font-weight="normal" transform="translate(652.08 176.9) scale(1 1.07) translate(-652.08 -176.9)" >70</text>
<text x="676.1" y="176.9" font-size="9" text-anchor="middle" fill="#000" font-weight="normal" transform="translate(676.1 176.9) scale(1 1.07) translate(-676.1 -176.9)" >80</text>
<line x1="533.9" y1="162.8" x2="545.7" y2="151.4" stroke="#000" stroke-width="1.8" />
<line x1="550.3" y1="162.8" x2="561.2" y2="151.8" stroke="#000" stroke-width="1.8" />
<text x="584.2" y="192.5" font-size="8.8" text-anchor="middle" fill="#000" font-weight="normal" transform="translate(584.2 192.5) scale(1 1.07) translate(-584.2 -192.5)" >Time/Min</text>
<path d="M553.6,100.5 L546.6,110.9 L551,111.2 L547.4,120.9 L557.3,109 L553.3,108.7Z" fill="#fae66a"/>
<path d="M541.6,117.9 L534.6,128.3 L539,128.6 L535.4,138.3 L545.3,126.4 L541.3,126.1Z" fill="#fae66a"/>
<text x="535" y="112.5" font-size="8.8" text-anchor="start" fill="#000" font-weight="normal" transform="translate(535 112.5) scale(1 1.07) translate(-535 -112.5)" >TBS</text>
<line x1="546.8" y1="124.3" x2="546.8" y2="151.7" stroke="#000" stroke-width="1.8" />
<path d="M542.5,149.5 L551.1,149.5 L546.8,156.7Z" fill="#000"/>
<line x1="492.07" y1="91.9" x2="492.07" y2="98.1" stroke="#2a9858" stroke-width="1" />
<line x1="490.17" y1="91.9" x2="493.97" y2="91.9" stroke="#2a9858" stroke-width="1" />
<line x1="490.17" y1="98.1" x2="493.97" y2="98.1" stroke="#2a9858" stroke-width="1" />
<line x1="495.4" y1="95.5" x2="495.4" y2="102.94" stroke="#2a9858" stroke-width="1" />
<line x1="493.5" y1="95.5" x2="497.3" y2="95.5" stroke="#2a9858" stroke-width="1" />
<line x1="493.5" y1="102.94" x2="497.3" y2="102.94" stroke="#2a9858" stroke-width="1" />
<line x1="498.73" y1="92.52" x2="498.73" y2="97.48" stroke="#2a9858" stroke-width="1" />
<line x1="496.83" y1="92.52" x2="500.63" y2="92.52" stroke="#2a9858" stroke-width="1" />
<line x1="496.83" y1="97.48" x2="500.63" y2="97.48" stroke="#2a9858" stroke-width="1" />
<line x1="502.06" y1="94.38" x2="502.06" y2="99.34" stroke="#2a9858" stroke-width="1" />
<line x1="500.16" y1="94.38" x2="503.96" y2="94.38" stroke="#2a9858" stroke-width="1" />
<line x1="500.16" y1="99.34" x2="503.96" y2="99.34" stroke="#2a9858" stroke-width="1" />
<line x1="505.4" y1="90.91" x2="505.4" y2="95.87" stroke="#2a9858" stroke-width="1" />
<line x1="503.5" y1="90.91" x2="507.3" y2="90.91" stroke="#2a9858" stroke-width="1" />
<line x1="503.5" y1="95.87" x2="507.3" y2="95.87" stroke="#2a9858" stroke-width="1" />
<line x1="508.73" y1="90.04" x2="508.73" y2="95" stroke="#2a9858" stroke-width="1" />
<line x1="506.83" y1="90.04" x2="510.63" y2="90.04" stroke="#2a9858" stroke-width="1" />
<line x1="506.83" y1="95" x2="510.63" y2="95" stroke="#2a9858" stroke-width="1" />
<line x1="512.06" y1="87.93" x2="512.06" y2="95.37" stroke="#2a9858" stroke-width="1" />
<line x1="510.16" y1="87.93" x2="513.96" y2="87.93" stroke="#2a9858" stroke-width="1" />
<line x1="510.16" y1="95.37" x2="513.96" y2="95.37" stroke="#2a9858" stroke-width="1" />
<line x1="515.39" y1="89.42" x2="515.39" y2="94.38" stroke="#2a9858" stroke-width="1" />
<line x1="513.49" y1="89.42" x2="517.29" y2="89.42" stroke="#2a9858" stroke-width="1" />
<line x1="513.49" y1="94.38" x2="517.29" y2="94.38" stroke="#2a9858" stroke-width="1" />
<line x1="518.72" y1="90.91" x2="518.72" y2="95.87" stroke="#2a9858" stroke-width="1" />
<line x1="516.82" y1="90.91" x2="520.62" y2="90.91" stroke="#2a9858" stroke-width="1" />
<line x1="516.82" y1="95.87" x2="520.62" y2="95.87" stroke="#2a9858" stroke-width="1" />
<line x1="522.06" y1="90.29" x2="522.06" y2="95.25" stroke="#2a9858" stroke-width="1" />
<line x1="520.16" y1="90.29" x2="523.96" y2="90.29" stroke="#2a9858" stroke-width="1" />
<line x1="520.16" y1="95.25" x2="523.96" y2="95.25" stroke="#2a9858" stroke-width="1" />
<line x1="525.39" y1="92.64" x2="525.39" y2="97.6" stroke="#2a9858" stroke-width="1" />
<line x1="523.49" y1="92.64" x2="527.29" y2="92.64" stroke="#2a9858" stroke-width="1" />
<line x1="523.49" y1="97.6" x2="527.29" y2="97.6" stroke="#2a9858" stroke-width="1" />
<line x1="528.72" y1="93.76" x2="528.72" y2="98.72" stroke="#2a9858" stroke-width="1" />
<line x1="526.82" y1="93.76" x2="530.62" y2="93.76" stroke="#2a9858" stroke-width="1" />
<line x1="526.82" y1="98.72" x2="530.62" y2="98.72" stroke="#2a9858" stroke-width="1" />
<line x1="531.66" y1="92.02" x2="531.66" y2="96.98" stroke="#2a9858" stroke-width="1" />
<line x1="529.76" y1="92.02" x2="533.56" y2="92.02" stroke="#2a9858" stroke-width="1" />
<line x1="529.76" y1="96.98" x2="533.56" y2="96.98" stroke="#2a9858" stroke-width="1" />
<line x1="556" y1="73.79" x2="556" y2="83.97" stroke="#2a9858" stroke-width="1" />
<line x1="554.1" y1="73.79" x2="557.9" y2="73.79" stroke="#2a9858" stroke-width="1" />
<line x1="554.1" y1="83.97" x2="557.9" y2="83.97" stroke="#2a9858" stroke-width="1" />
<line x1="558.4" y1="78.07" x2="558.4" y2="89.92" stroke="#2a9858" stroke-width="1" />
<line x1="556.5" y1="78.07" x2="560.3" y2="78.07" stroke="#2a9858" stroke-width="1" />
<line x1="556.5" y1="89.92" x2="560.3" y2="89.92" stroke="#2a9858" stroke-width="1" />
<line x1="560.8" y1="78.36" x2="560.8" y2="86.59" stroke="#2a9858" stroke-width="1" />
<line x1="558.9" y1="78.36" x2="562.7" y2="78.36" stroke="#2a9858" stroke-width="1" />
<line x1="558.9" y1="86.59" x2="562.7" y2="86.59" stroke="#2a9858" stroke-width="1" />
<line x1="563.21" y1="79.44" x2="563.21" y2="92.8" stroke="#2a9858" stroke-width="1" />
<line x1="561.31" y1="79.44" x2="565.11" y2="79.44" stroke="#2a9858" stroke-width="1" />
<line x1="561.31" y1="92.8" x2="565.11" y2="92.8" stroke="#2a9858" stroke-width="1" />
<line x1="565.61" y1="79.99" x2="565.61" y2="89.31" stroke="#2a9858" stroke-width="1" />
<line x1="563.71" y1="79.99" x2="567.51" y2="79.99" stroke="#2a9858" stroke-width="1" />
<line x1="563.71" y1="89.31" x2="567.51" y2="89.31" stroke="#2a9858" stroke-width="1" />
<line x1="568.01" y1="74.84" x2="568.01" y2="85.7" stroke="#2a9858" stroke-width="1" />
<line x1="566.11" y1="74.84" x2="569.91" y2="74.84" stroke="#2a9858" stroke-width="1" />
<line x1="566.11" y1="85.7" x2="569.91" y2="85.7" stroke="#2a9858" stroke-width="1" />
<line x1="570.41" y1="75.78" x2="570.41" y2="86.66" stroke="#2a9858" stroke-width="1" />
<line x1="568.51" y1="75.78" x2="572.31" y2="75.78" stroke="#2a9858" stroke-width="1" />
<line x1="568.51" y1="86.66" x2="572.31" y2="86.66" stroke="#2a9858" stroke-width="1" />
<line x1="572.81" y1="78.04" x2="572.81" y2="86.74" stroke="#2a9858" stroke-width="1" />
<line x1="570.91" y1="78.04" x2="574.71" y2="78.04" stroke="#2a9858" stroke-width="1" />
<line x1="570.91" y1="86.74" x2="574.71" y2="86.74" stroke="#2a9858" stroke-width="1" />
<line x1="575.22" y1="75.71" x2="575.22" y2="89.12" stroke="#2a9858" stroke-width="1" />
<line x1="573.32" y1="75.71" x2="577.12" y2="75.71" stroke="#2a9858" stroke-width="1" />
<line x1="573.32" y1="89.12" x2="577.12" y2="89.12" stroke="#2a9858" stroke-width="1" />
<line x1="577.62" y1="76.81" x2="577.62" y2="89.35" stroke="#2a9858" stroke-width="1" />
<line x1="575.72" y1="76.81" x2="579.52" y2="76.81" stroke="#2a9858" stroke-width="1" />
<line x1="575.72" y1="89.35" x2="579.52" y2="89.35" stroke="#2a9858" stroke-width="1" />
<line x1="580.02" y1="78.16" x2="580.02" y2="86.24" stroke="#2a9858" stroke-width="1" />
<line x1="578.12" y1="78.16" x2="581.92" y2="78.16" stroke="#2a9858" stroke-width="1" />
<line x1="578.12" y1="86.24" x2="581.92" y2="86.24" stroke="#2a9858" stroke-width="1" />
<line x1="582.42" y1="75.93" x2="582.42" y2="87.43" stroke="#2a9858" stroke-width="1" />
<line x1="580.52" y1="75.93" x2="584.32" y2="75.93" stroke="#2a9858" stroke-width="1" />
<line x1="580.52" y1="87.43" x2="584.32" y2="87.43" stroke="#2a9858" stroke-width="1" />
<line x1="584.82" y1="80.49" x2="584.82" y2="88.31" stroke="#2a9858" stroke-width="1" />
<line x1="582.92" y1="80.49" x2="586.72" y2="80.49" stroke="#2a9858" stroke-width="1" />
<line x1="582.92" y1="88.31" x2="586.72" y2="88.31" stroke="#2a9858" stroke-width="1" />
<line x1="587.23" y1="75.7" x2="587.23" y2="86.38" stroke="#2a9858" stroke-width="1" />
<line x1="585.33" y1="75.7" x2="589.13" y2="75.7" stroke="#2a9858" stroke-width="1" />
<line x1="585.33" y1="86.38" x2="589.13" y2="86.38" stroke="#2a9858" stroke-width="1" />
<line x1="589.63" y1="75.27" x2="589.63" y2="88.56" stroke="#2a9858" stroke-width="1" />
<line x1="587.73" y1="75.27" x2="591.53" y2="75.27" stroke="#2a9858" stroke-width="1" />
<line x1="587.73" y1="88.56" x2="591.53" y2="88.56" stroke="#2a9858" stroke-width="1" />
<line x1="592.03" y1="75.18" x2="592.03" y2="88.71" stroke="#2a9858" stroke-width="1" />
<line x1="590.13" y1="75.18" x2="593.93" y2="75.18" stroke="#2a9858" stroke-width="1" />
<line x1="590.13" y1="88.71" x2="593.93" y2="88.71" stroke="#2a9858" stroke-width="1" />
<line x1="594.43" y1="77.48" x2="594.43" y2="90.21" stroke="#2a9858" stroke-width="1" />
<line x1="592.53" y1="77.48" x2="596.33" y2="77.48" stroke="#2a9858" stroke-width="1" />
<line x1="592.53" y1="90.21" x2="596.33" y2="90.21" stroke="#2a9858" stroke-width="1" />
<line x1="596.83" y1="76.77" x2="596.83" y2="90.33" stroke="#2a9858" stroke-width="1" />
<line x1="594.93" y1="76.77" x2="598.73" y2="76.77" stroke="#2a9858" stroke-width="1" />
<line x1="594.93" y1="90.33" x2="598.73" y2="90.33" stroke="#2a9858" stroke-width="1" />
<line x1="599.24" y1="76.9" x2="599.24" y2="85.03" stroke="#2a9858" stroke-width="1" />
<line x1="597.34" y1="76.9" x2="601.14" y2="76.9" stroke="#2a9858" stroke-width="1" />
<line x1="597.34" y1="85.03" x2="601.14" y2="85.03" stroke="#2a9858" stroke-width="1" />
<line x1="601.64" y1="80.94" x2="601.64" y2="89.83" stroke="#2a9858" stroke-width="1" />
<line x1="599.74" y1="80.94" x2="603.54" y2="80.94" stroke="#2a9858" stroke-width="1" />
<line x1="599.74" y1="89.83" x2="603.54" y2="89.83" stroke="#2a9858" stroke-width="1" />
<line x1="604.04" y1="75.31" x2="604.04" y2="85.58" stroke="#2a9858" stroke-width="1" />
<line x1="602.14" y1="75.31" x2="605.94" y2="75.31" stroke="#2a9858" stroke-width="1" />
<line x1="602.14" y1="85.58" x2="605.94" y2="85.58" stroke="#2a9858" stroke-width="1" />
<line x1="606.44" y1="77.78" x2="606.44" y2="87.16" stroke="#2a9858" stroke-width="1" />
<line x1="604.54" y1="77.78" x2="608.34" y2="77.78" stroke="#2a9858" stroke-width="1" />
<line x1="604.54" y1="87.16" x2="608.34" y2="87.16" stroke="#2a9858" stroke-width="1" />
<line x1="608.84" y1="78.23" x2="608.84" y2="88.13" stroke="#2a9858" stroke-width="1" />
<line x1="606.94" y1="78.23" x2="610.74" y2="78.23" stroke="#2a9858" stroke-width="1" />
<line x1="606.94" y1="88.13" x2="610.74" y2="88.13" stroke="#2a9858" stroke-width="1" />
<line x1="611.25" y1="78.54" x2="611.25" y2="89.68" stroke="#2a9858" stroke-width="1" />
<line x1="609.35" y1="78.54" x2="613.15" y2="78.54" stroke="#2a9858" stroke-width="1" />
<line x1="609.35" y1="89.68" x2="613.15" y2="89.68" stroke="#2a9858" stroke-width="1" />
<line x1="613.65" y1="76.15" x2="613.65" y2="89.29" stroke="#2a9858" stroke-width="1" />
<line x1="611.75" y1="76.15" x2="615.55" y2="76.15" stroke="#2a9858" stroke-width="1" />
<line x1="611.75" y1="89.29" x2="615.55" y2="89.29" stroke="#2a9858" stroke-width="1" />
<line x1="616.05" y1="75.5" x2="616.05" y2="88.77" stroke="#2a9858" stroke-width="1" />
<line x1="614.15" y1="75.5" x2="617.95" y2="75.5" stroke="#2a9858" stroke-width="1" />
<line x1="614.15" y1="88.77" x2="617.95" y2="88.77" stroke="#2a9858" stroke-width="1" />
<line x1="618.45" y1="74.28" x2="618.45" y2="87.91" stroke="#2a9858" stroke-width="1" />
<line x1="616.55" y1="74.28" x2="620.35" y2="74.28" stroke="#2a9858" stroke-width="1" />
<line x1="616.55" y1="87.91" x2="620.35" y2="87.91" stroke="#2a9858" stroke-width="1" />
<line x1="620.85" y1="78.01" x2="620.85" y2="86.39" stroke="#2a9858" stroke-width="1" />
<line x1="618.95" y1="78.01" x2="622.75" y2="78.01" stroke="#2a9858" stroke-width="1" />
<line x1="618.95" y1="86.39" x2="622.75" y2="86.39" stroke="#2a9858" stroke-width="1" />
<line x1="623.26" y1="74.37" x2="623.26" y2="87.77" stroke="#2a9858" stroke-width="1" />
<line x1="621.36" y1="74.37" x2="625.16" y2="74.37" stroke="#2a9858" stroke-width="1" />
<line x1="621.36" y1="87.77" x2="625.16" y2="87.77" stroke="#2a9858" stroke-width="1" />
<line x1="625.66" y1="75.37" x2="625.66" y2="86.25" stroke="#2a9858" stroke-width="1" />
<line x1="623.76" y1="75.37" x2="627.56" y2="75.37" stroke="#2a9858" stroke-width="1" />
<line x1="623.76" y1="86.25" x2="627.56" y2="86.25" stroke="#2a9858" stroke-width="1" />
<line x1="628.06" y1="77.64" x2="628.06" y2="86.26" stroke="#2a9858" stroke-width="1" />
<line x1="626.16" y1="77.64" x2="629.96" y2="77.64" stroke="#2a9858" stroke-width="1" />
<line x1="626.16" y1="86.26" x2="629.96" y2="86.26" stroke="#2a9858" stroke-width="1" />
<line x1="630.46" y1="75.82" x2="630.46" y2="86.68" stroke="#2a9858" stroke-width="1" />
<line x1="628.56" y1="75.82" x2="632.36" y2="75.82" stroke="#2a9858" stroke-width="1" />
<line x1="628.56" y1="86.68" x2="632.36" y2="86.68" stroke="#2a9858" stroke-width="1" />
<line x1="632.86" y1="80.67" x2="632.86" y2="88.33" stroke="#2a9858" stroke-width="1" />
<line x1="630.96" y1="80.67" x2="634.76" y2="80.67" stroke="#2a9858" stroke-width="1" />
<line x1="630.96" y1="88.33" x2="634.76" y2="88.33" stroke="#2a9858" stroke-width="1" />
<line x1="635.27" y1="74.42" x2="635.27" y2="87.81" stroke="#2a9858" stroke-width="1" />
<line x1="633.37" y1="74.42" x2="637.17" y2="74.42" stroke="#2a9858" stroke-width="1" />
<line x1="633.37" y1="87.81" x2="637.17" y2="87.81" stroke="#2a9858" stroke-width="1" />
<line x1="637.67" y1="79.58" x2="637.67" y2="91.76" stroke="#2a9858" stroke-width="1" />
<line x1="635.77" y1="79.58" x2="639.57" y2="79.58" stroke="#2a9858" stroke-width="1" />
<line x1="635.77" y1="91.76" x2="639.57" y2="91.76" stroke="#2a9858" stroke-width="1" />
<line x1="640.07" y1="79.68" x2="640.07" y2="87.82" stroke="#2a9858" stroke-width="1" />
<line x1="638.17" y1="79.68" x2="641.97" y2="79.68" stroke="#2a9858" stroke-width="1" />
<line x1="638.17" y1="87.82" x2="641.97" y2="87.82" stroke="#2a9858" stroke-width="1" />
<line x1="642.47" y1="78.48" x2="642.47" y2="90.41" stroke="#2a9858" stroke-width="1" />
<line x1="640.57" y1="78.48" x2="644.37" y2="78.48" stroke="#2a9858" stroke-width="1" />
<line x1="640.57" y1="90.41" x2="644.37" y2="90.41" stroke="#2a9858" stroke-width="1" />
<line x1="644.87" y1="77.28" x2="644.87" y2="84.72" stroke="#2a9858" stroke-width="1" />
<line x1="642.97" y1="77.28" x2="646.77" y2="77.28" stroke="#2a9858" stroke-width="1" />
<line x1="642.97" y1="84.72" x2="646.77" y2="84.72" stroke="#2a9858" stroke-width="1" />
<line x1="647.28" y1="78.82" x2="647.28" y2="86.25" stroke="#2a9858" stroke-width="1" />
<line x1="645.38" y1="78.82" x2="649.18" y2="78.82" stroke="#2a9858" stroke-width="1" />
<line x1="645.38" y1="86.25" x2="649.18" y2="86.25" stroke="#2a9858" stroke-width="1" />
<line x1="649.68" y1="77.34" x2="649.68" y2="86.5" stroke="#2a9858" stroke-width="1" />
<line x1="647.78" y1="77.34" x2="651.58" y2="77.34" stroke="#2a9858" stroke-width="1" />
<line x1="647.78" y1="86.5" x2="651.58" y2="86.5" stroke="#2a9858" stroke-width="1" />
<line x1="652.08" y1="74.4" x2="652.08" y2="87.51" stroke="#2a9858" stroke-width="1" />
<line x1="650.18" y1="74.4" x2="653.98" y2="74.4" stroke="#2a9858" stroke-width="1" />
<line x1="650.18" y1="87.51" x2="653.98" y2="87.51" stroke="#2a9858" stroke-width="1" />
<line x1="654.48" y1="76.6" x2="654.48" y2="89.78" stroke="#2a9858" stroke-width="1" />
<line x1="652.58" y1="76.6" x2="656.38" y2="76.6" stroke="#2a9858" stroke-width="1" />
<line x1="652.58" y1="89.78" x2="656.38" y2="89.78" stroke="#2a9858" stroke-width="1" />
<line x1="656.88" y1="80.58" x2="656.88" y2="88.13" stroke="#2a9858" stroke-width="1" />
<line x1="654.98" y1="80.58" x2="658.78" y2="80.58" stroke="#2a9858" stroke-width="1" />
<line x1="654.98" y1="88.13" x2="658.78" y2="88.13" stroke="#2a9858" stroke-width="1" />
<line x1="659.29" y1="79" x2="659.29" y2="86.26" stroke="#2a9858" stroke-width="1" />
<line x1="657.39" y1="79" x2="661.19" y2="79" stroke="#2a9858" stroke-width="1" />
<line x1="657.39" y1="86.26" x2="661.19" y2="86.26" stroke="#2a9858" stroke-width="1" />
<line x1="661.69" y1="80.26" x2="661.69" y2="89.78" stroke="#2a9858" stroke-width="1" />
<line x1="659.79" y1="80.26" x2="663.59" y2="80.26" stroke="#2a9858" stroke-width="1" />
<line x1="659.79" y1="89.78" x2="663.59" y2="89.78" stroke="#2a9858" stroke-width="1" />
<line x1="664.09" y1="78.58" x2="664.09" y2="86.55" stroke="#2a9858" stroke-width="1" />
<line x1="662.19" y1="78.58" x2="665.99" y2="78.58" stroke="#2a9858" stroke-width="1" />
<line x1="662.19" y1="86.55" x2="665.99" y2="86.55" stroke="#2a9858" stroke-width="1" />
<line x1="666.49" y1="79.83" x2="666.49" y2="92.06" stroke="#2a9858" stroke-width="1" />
<line x1="664.59" y1="79.83" x2="668.39" y2="79.83" stroke="#2a9858" stroke-width="1" />
<line x1="664.59" y1="92.06" x2="668.39" y2="92.06" stroke="#2a9858" stroke-width="1" />
<line x1="668.89" y1="77.95" x2="668.89" y2="90.7" stroke="#2a9858" stroke-width="1" />
<line x1="666.99" y1="77.95" x2="670.79" y2="77.95" stroke="#2a9858" stroke-width="1" />
<line x1="666.99" y1="90.7" x2="670.79" y2="90.7" stroke="#2a9858" stroke-width="1" />
<line x1="671.3" y1="76.24" x2="671.3" y2="85.48" stroke="#2a9858" stroke-width="1" />
<line x1="669.4" y1="76.24" x2="673.2" y2="76.24" stroke="#2a9858" stroke-width="1" />
<line x1="669.4" y1="85.48" x2="673.2" y2="85.48" stroke="#2a9858" stroke-width="1" />
<line x1="673.7" y1="78.42" x2="673.7" y2="88.49" stroke="#2a9858" stroke-width="1" />
<line x1="671.8" y1="78.42" x2="675.6" y2="78.42" stroke="#2a9858" stroke-width="1" />
<line x1="671.8" y1="88.49" x2="675.6" y2="88.49" stroke="#2a9858" stroke-width="1" />
<line x1="676.1" y1="77.12" x2="676.1" y2="87.61" stroke="#2a9858" stroke-width="1" />
<line x1="674.2" y1="77.12" x2="678" y2="77.12" stroke="#2a9858" stroke-width="1" />
<line x1="674.2" y1="87.61" x2="678" y2="87.61" stroke="#2a9858" stroke-width="1" />
<path d="M492.07,92.07 L495,97.17 L489.14,97.17Z" fill="#187c40"/>
<path d="M495.4,96.28 L498.33,101.38 L492.47,101.38Z" fill="#187c40"/>
<path d="M498.73,92.07 L501.66,97.17 L495.8,97.17Z" fill="#187c40"/>
<path d="M502.06,93.93 L505,99.03 L499.13,99.03Z" fill="#187c40"/>
<path d="M505.4,90.46 L508.33,95.56 L502.46,95.56Z" fill="#187c40"/>
<path d="M508.73,89.59 L511.66,94.69 L505.8,94.69Z" fill="#187c40"/>
<path d="M512.06,88.72 L514.99,93.82 L509.13,93.82Z" fill="#187c40"/>
<path d="M515.39,88.97 L518.32,94.07 L512.46,94.07Z" fill="#187c40"/>
<path d="M518.72,90.46 L521.66,95.56 L515.79,95.56Z" fill="#187c40"/>
<path d="M522.06,89.84 L524.99,94.94 L519.12,94.94Z" fill="#187c40"/>
<path d="M525.39,92.19 L528.32,97.29 L522.46,97.29Z" fill="#187c40"/>
<path d="M528.72,93.31 L531.65,98.41 L525.79,98.41Z" fill="#187c40"/>
<path d="M531.66,91.57 L534.59,96.67 L528.73,96.67Z" fill="#187c40"/>
<path d="M556,75.95 L558.93,81.05 L553.07,81.05Z" fill="#187c40"/>
<path d="M558.4,81.06 L561.33,86.16 L555.47,86.16Z" fill="#187c40"/>
<path d="M560.8,79.54 L563.74,84.64 L557.87,84.64Z" fill="#187c40"/>
<path d="M563.21,83.19 L566.14,88.29 L560.27,88.29Z" fill="#187c40"/>
<path d="M565.61,81.72 L568.54,86.82 L562.68,86.82Z" fill="#187c40"/>
<path d="M568.01,77.34 L570.94,82.44 L565.08,82.44Z" fill="#187c40"/>
<path d="M570.41,78.28 L573.34,83.38 L567.48,83.38Z" fill="#187c40"/>
<path d="M572.81,79.46 L575.75,84.56 L569.88,84.56Z" fill="#187c40"/>
<path d="M575.22,79.48 L578.15,84.58 L572.28,84.58Z" fill="#187c40"/>
<path d="M577.62,80.15 L580.55,85.25 L574.69,85.25Z" fill="#187c40"/>
<path d="M580.02,79.27 L582.95,84.37 L577.09,84.37Z" fill="#187c40"/>
<path d="M582.42,78.75 L585.35,83.85 L579.49,83.85Z" fill="#187c40"/>
<path d="M584.82,81.47 L587.76,86.57 L581.89,86.57Z" fill="#187c40"/>
<path d="M587.23,78.11 L590.16,83.21 L584.29,83.21Z" fill="#187c40"/>
<path d="M589.63,78.99 L592.56,84.09 L586.7,84.09Z" fill="#187c40"/>
<path d="M592.03,79.01 L594.96,84.11 L589.1,84.11Z" fill="#187c40"/>
<path d="M594.43,80.91 L597.36,86.01 L591.5,86.01Z" fill="#187c40"/>
<path d="M596.83,80.62 L599.77,85.72 L593.9,85.72Z" fill="#187c40"/>
<path d="M599.24,78.03 L602.17,83.13 L596.3,83.13Z" fill="#187c40"/>
<path d="M601.64,82.45 L604.57,87.55 L598.71,87.55Z" fill="#187c40"/>
<path d="M604.04,77.52 L606.97,82.62 L601.11,82.62Z" fill="#187c40"/>
<path d="M606.44,79.53 L609.37,84.63 L603.51,84.63Z" fill="#187c40"/>
<path d="M608.84,80.24 L611.78,85.34 L605.91,85.34Z" fill="#187c40"/>
<path d="M611.25,81.17 L614.18,86.27 L608.31,86.27Z" fill="#187c40"/>
<path d="M613.65,79.79 L616.58,84.89 L610.72,84.89Z" fill="#187c40"/>
<path d="M616.05,79.2 L618.98,84.3 L613.12,84.3Z" fill="#187c40"/>
<path d="M618.45,78.17 L621.38,83.27 L615.52,83.27Z" fill="#187c40"/>
<path d="M620.85,79.27 L623.79,84.37 L617.92,84.37Z" fill="#187c40"/>
<path d="M623.26,78.14 L626.19,83.24 L620.32,83.24Z" fill="#187c40"/>
<path d="M625.66,77.88 L628.59,82.98 L622.73,82.98Z" fill="#187c40"/>
<path d="M628.06,79.01 L630.99,84.11 L625.13,84.11Z" fill="#187c40"/>
<path d="M630.46,78.31 L633.39,83.41 L627.53,83.41Z" fill="#187c40"/>
<path d="M632.86,81.57 L635.8,86.67 L629.93,86.67Z" fill="#187c40"/>
<path d="M635.27,78.18 L638.2,83.28 L632.33,83.28Z" fill="#187c40"/>
<path d="M637.67,82.74 L640.6,87.84 L634.74,87.84Z" fill="#187c40"/>
<path d="M640.07,80.82 L643,85.92 L637.14,85.92Z" fill="#187c40"/>
<path d="M642.47,81.51 L645.4,86.61 L639.54,86.61Z" fill="#187c40"/>
<path d="M644.87,78.07 L647.81,83.17 L641.94,83.17Z" fill="#187c40"/>
<path d="M647.28,79.61 L650.21,84.71 L644.34,84.71Z" fill="#187c40"/>
<path d="M649.68,78.99 L652.61,84.09 L646.75,84.09Z" fill="#187c40"/>
<path d="M652.08,78.02 L655.01,83.12 L649.15,83.12Z" fill="#187c40"/>
<path d="M654.48,80.26 L657.41,85.36 L651.55,85.36Z" fill="#187c40"/>
<path d="M656.88,81.42 L659.82,86.52 L653.95,86.52Z" fill="#187c40"/>
<path d="M659.29,79.69 L662.22,84.79 L656.35,84.79Z" fill="#187c40"/>
<path d="M661.69,82.09 L664.62,87.19 L658.76,87.19Z" fill="#187c40"/>
<path d="M664.09,79.63 L667.02,84.73 L661.16,84.73Z" fill="#187c40"/>
<path d="M666.49,83.01 L669.42,88.11 L663.56,88.11Z" fill="#187c40"/>
<path d="M668.89,81.4 L671.83,86.5 L665.96,86.5Z" fill="#187c40"/>
<path d="M671.3,77.93 L674.23,83.03 L668.36,83.03Z" fill="#187c40"/>
<path d="M673.7,80.52 L676.63,85.62 L670.77,85.62Z" fill="#187c40"/>
<path d="M676.1,79.43 L679.03,84.53 L673.17,84.53Z" fill="#187c40"/>
<circle cx="500.5" cy="96.4" r="1.4" fill="#646464"/>
<circle cx="506.37" cy="96.4" r="1.4" fill="#646464"/>
<circle cx="512.24" cy="96.4" r="1.4" fill="#646464"/>
<circle cx="518.11" cy="96.4" r="1.4" fill="#646464"/>
<circle cx="523.99" cy="96.4" r="1.4" fill="#646464"/>
<circle cx="529.86" cy="96.4" r="1.4" fill="#646464"/>
<circle cx="535.73" cy="96.4" r="1.4" fill="#646464"/>
<circle cx="541.6" cy="96.4" r="1.4" fill="#646464"/>
<circle cx="547.47" cy="96.4" r="1.4" fill="#646464"/>
<circle cx="553.34" cy="96.4" r="1.4" fill="#646464"/>
<circle cx="559.21" cy="96.4" r="1.4" fill="#646464"/>
<circle cx="565.09" cy="96.4" r="1.4" fill="#646464"/>
<circle cx="570.96" cy="96.4" r="1.4" fill="#646464"/>
<circle cx="576.83" cy="96.4" r="1.4" fill="#646464"/>
<circle cx="582.7" cy="96.4" r="1.4" fill="#646464"/>
<circle cx="588.57" cy="96.4" r="1.4" fill="#646464"/>
<circle cx="594.44" cy="96.4" r="1.4" fill="#646464"/>
<circle cx="600.31" cy="96.4" r="1.4" fill="#646464"/>
<circle cx="606.19" cy="96.4" r="1.4" fill="#646464"/>
<circle cx="612.06" cy="96.4" r="1.4" fill="#646464"/>
<circle cx="617.93" cy="96.4" r="1.4" fill="#646464"/>
<circle cx="623.8" cy="96.4" r="1.4" fill="#646464"/>
<circle cx="629.67" cy="96.4" r="1.4" fill="#646464"/>
<circle cx="635.54" cy="96.4" r="1.4" fill="#646464"/>
<circle cx="641.41" cy="96.4" r="1.4" fill="#646464"/>
<circle cx="647.29" cy="96.4" r="1.4" fill="#646464"/>
<circle cx="653.16" cy="96.4" r="1.4" fill="#646464"/>
<circle cx="659.03" cy="96.4" r="1.4" fill="#646464"/>
<circle cx="664.9" cy="96.4" r="1.4" fill="#646464"/>
<path d="M501.6,35.17 L504.53,40.27 L498.67,40.27Z" fill="#187c40"/>
<text x="523.5" y="41" font-size="8.95" text-anchor="start" fill="#000" font-weight="normal" transform="translate(523.5 41) scale(1 1.07) translate(-523.5 -41)" >U-73122 N=5 n=8</text>
<line x1="592" y1="17.9" x2="605.8" y2="17.9" stroke="#90d4b0" stroke-width="1.6" />
<line x1="592" y1="25.8" x2="605.8" y2="25.8" stroke="#1e9452" stroke-width="1.9" />
<text x="612.5" y="20.86" font-size="7.8" text-anchor="start" fill="#000" font-weight="normal" >Before</text>
<text x="612.5" y="28.76" font-size="7.8" text-anchor="start" fill="#000" font-weight="normal" >After</text>
<line x1="654.4" y1="14.6" x2="654.4" y2="23.65" stroke="#000" stroke-width="1.3" />
<line x1="653.75" y1="23" x2="664.4" y2="23" stroke="#000" stroke-width="1.3" />
<text x="652.1" y="32.5" font-size="7.8" text-anchor="start" fill="#000" font-weight="normal" >200ms</text>
<text x="650.3" y="20" font-size="7.6" text-anchor="middle" fill="#000" font-weight="normal" transform="rotate(-90 650.3 20)" >200μV</text>
<path d="M606.6,29.5 C606.68,30.55 606.85,33.7 607.1,35.8 C607.35,37.9 607.67,41.23 608.1,42.1 C608.53,42.97 609.15,41.62 609.7,41 C610.25,40.38 610.78,38.62 611.4,38.4 C612.02,38.18 612.73,38.6 613.4,39.7 C614.07,40.8 614.63,42.58 615.4,45 C616.17,47.42 617.13,51.68 618,54.2 C618.87,56.72 619.78,58.68 620.6,60.1 C621.42,61.52 622.02,62.82 622.9,62.7 C623.78,62.58 624.75,60.93 625.9,59.4 C627.05,57.87 628.38,55.58 629.8,53.5 C631.22,51.42 632.97,48.22 634.4,46.9 C635.83,45.58 636.87,46.37 638.4,45.6 C639.93,44.83 641.63,43.33 643.6,42.3 C645.57,41.27 647.78,40.38 650.2,39.4 C652.62,38.42 655.47,37.18 658.1,36.4 C660.73,35.62 663.15,35.18 666,34.7 C668.85,34.22 673.67,33.7 675.2,33.5" fill="none" stroke="#1e9452" stroke-width="2" stroke-linejoin="round" stroke-linecap="round"/>
<text x="15.7" y="205" font-size="10.4" text-anchor="start" fill="#000" font-weight="bold" transform="translate(15.7 205) scale(1 1.07) translate(-15.7 -205)" >D</text>
<line x1="32.8" y1="220.3" x2="32.8" y2="344.9" stroke="#000" stroke-width="1.9" />
<line x1="24.5" y1="221.1" x2="32.8" y2="221.1" stroke="#000" stroke-width="1.6" />
<line x1="28.2" y1="237.6" x2="32.8" y2="237.6" stroke="#000" stroke-width="1.6" />
<line x1="28.2" y1="254.1" x2="32.8" y2="254.1" stroke="#000" stroke-width="1.6" />
<line x1="24.5" y1="270.6" x2="32.8" y2="270.6" stroke="#000" stroke-width="1.6" />
<line x1="28.2" y1="287.1" x2="32.8" y2="287.1" stroke="#000" stroke-width="1.6" />
<line x1="28.2" y1="303.6" x2="32.8" y2="303.6" stroke="#000" stroke-width="1.6" />
<line x1="24.5" y1="320.1" x2="32.8" y2="320.1" stroke="#000" stroke-width="1.6" />
<line x1="28.2" y1="336.6" x2="32.8" y2="336.6" stroke="#000" stroke-width="1.6" />
<text x="23" y="221.1" font-size="9.3" text-anchor="middle" fill="#000" font-weight="normal" transform="rotate(-90 23 221.1) translate(23 221.1) scale(1 1.02) translate(-23 -221.1)" >150%</text>
<text x="23" y="271" font-size="9.3" text-anchor="middle" fill="#000" font-weight="normal" transform="rotate(-90 23 271) translate(23 271) scale(1 1.02) translate(-23 -271)" >100%</text>
<text x="23" y="320.1" font-size="9.3" text-anchor="middle" fill="#000" font-weight="normal" transform="rotate(-90 23 320.1) translate(23 320.1) scale(1 1.02) translate(-23 -320.1)" >50%</text>
<text x="7" y="286" font-size="8.9" text-anchor="middle" fill="#000" font-weight="normal" transform="rotate(-90 7 286) translate(7 286) scale(1 1.07) translate(-7 -286)" >fEPSP Amplitude</text>
<line x1="31.9" y1="344" x2="76.1" y2="344" stroke="#000" stroke-width="1.8" />
<line x1="92.6" y1="344" x2="218.6" y2="344" stroke="#000" stroke-width="1.8" />
<line x1="32.9" y1="344" x2="32.9" y2="352.2" stroke="#000" stroke-width="1.7" />
<line x1="49.85" y1="344" x2="49.85" y2="352.2" stroke="#000" stroke-width="1.7" />
<line x1="66.8" y1="344" x2="66.8" y2="352.2" stroke="#000" stroke-width="1.7" />
<line x1="117.7" y1="344" x2="117.7" y2="352.2" stroke="#000" stroke-width="1.7" />
<line x1="142.7" y1="344" x2="142.7" y2="352.2" stroke="#000" stroke-width="1.7" />
<line x1="167.7" y1="344" x2="167.7" y2="352.2" stroke="#000" stroke-width="1.7" />
<line x1="192.7" y1="344" x2="192.7" y2="352.2" stroke="#000" stroke-width="1.7" />
<line x1="217.7" y1="344" x2="217.7" y2="352.2" stroke="#000" stroke-width="1.7" />
<line x1="105.2" y1="344" x2="105.2" y2="348.4" stroke="#000" stroke-width="1.7" />
<line x1="130.2" y1="344" x2="130.2" y2="348.4" stroke="#000" stroke-width="1.7" />
<line x1="155.2" y1="344" x2="155.2" y2="348.4" stroke="#000" stroke-width="1.7" />
<line x1="180.2" y1="344" x2="180.2" y2="348.4" stroke="#000" stroke-width="1.7" />
<line x1="205.2" y1="344" x2="205.2" y2="348.4" stroke="#000" stroke-width="1.7" />
<text x="32.9" y="363.9" font-size="9" text-anchor="middle" fill="#000" font-weight="normal" transform="translate(32.9 363.9) scale(1 1.07) translate(-32.9 -363.9)" >0</text>
<text x="49.85" y="363.9" font-size="9" text-anchor="middle" fill="#000" font-weight="normal" transform="translate(49.85 363.9) scale(1 1.07) translate(-49.85 -363.9)" >10</text>
<text x="66.8" y="363.9" font-size="9" text-anchor="middle" fill="#000" font-weight="normal" transform="translate(66.8 363.9) scale(1 1.07) translate(-66.8 -363.9)" >20</text>
<text x="92.7" y="363.9" font-size="9" text-anchor="middle" fill="#000" font-weight="normal" transform="translate(92.7 363.9) scale(1 1.07) translate(-92.7 -363.9)" >30</text>
<text x="117.7" y="363.9" font-size="9" text-anchor="middle" fill="#000" font-weight="normal" transform="translate(117.7 363.9) scale(1 1.07) translate(-117.7 -363.9)" >40</text>
<text x="142.7" y="363.9" font-size="9" text-anchor="middle" fill="#000" font-weight="normal" transform="translate(142.7 363.9) scale(1 1.07) translate(-142.7 -363.9)" >50</text>
<text x="167.7" y="363.9" font-size="9" text-anchor="middle" fill="#000" font-weight="normal" transform="translate(167.7 363.9) scale(1 1.07) translate(-167.7 -363.9)" >60</text>
<text x="192.7" y="363.9" font-size="9" text-anchor="middle" fill="#000" font-weight="normal" transform="translate(192.7 363.9) scale(1 1.07) translate(-192.7 -363.9)" >70</text>
<text x="217.7" y="363.9" font-size="9" text-anchor="middle" fill="#000" font-weight="normal" transform="translate(217.7 363.9) scale(1 1.07) translate(-217.7 -363.9)" >80</text>
<line x1="70.3" y1="349.8" x2="82.1" y2="338.4" stroke="#000" stroke-width="1.8" />
<line x1="87.2" y1="349.8" x2="98.1" y2="338.8" stroke="#000" stroke-width="1.8" />
<text x="125.5" y="380.2" font-size="8.8" text-anchor="middle" fill="#000" font-weight="normal" transform="translate(125.5 380.2) scale(1 1.07) translate(-125.5 -380.2)" >Time/Min</text>
<path d="M107.5,288.8 L100.5,299.2 L104.9,299.5 L101.3,309.2 L111.2,297.3 L107.2,297Z" fill="#fae66a"/>
<path d="M95.8,306.8 L88.8,317.2 L93.2,317.5 L89.6,327.2 L99.5,315.3 L95.5,315Z" fill="#fae66a"/>
<text x="72.3" y="299.4" font-size="8.8" text-anchor="start" fill="#000" font-weight="normal" transform="translate(72.3 299.4) scale(1 1.07) translate(-72.3 -299.4)" >TBS</text>
<line x1="84.1" y1="311.1" x2="84.1" y2="339.3" stroke="#000" stroke-width="1.8" />
<path d="M79.8,337.1 L88.4,337.1 L84.1,344.3Z" fill="#000"/>
<line x1="32.9" y1="271.15" x2="32.9" y2="273.41" stroke="#985716" stroke-width="1" />
<line x1="31" y1="271.15" x2="34.8" y2="271.15" stroke="#985716" stroke-width="1" />
<line x1="31" y1="273.41" x2="34.8" y2="273.41" stroke="#985716" stroke-width="1" />
<line x1="34.59" y1="270.58" x2="34.59" y2="272.93" stroke="#985716" stroke-width="1" />
<line x1="32.7" y1="270.58" x2="36.49" y2="270.58" stroke="#985716" stroke-width="1" />
<line x1="32.7" y1="272.93" x2="36.49" y2="272.93" stroke="#985716" stroke-width="1" />
<line x1="36.29" y1="271.29" x2="36.29" y2="274.08" stroke="#985716" stroke-width="1" />
<line x1="34.39" y1="271.29" x2="38.19" y2="271.29" stroke="#985716" stroke-width="1" />
<line x1="34.39" y1="274.08" x2="38.19" y2="274.08" stroke="#985716" stroke-width="1" />
<line x1="37.98" y1="268.35" x2="37.98" y2="271.86" stroke="#985716" stroke-width="1" />
<line x1="36.09" y1="268.35" x2="39.88" y2="268.35" stroke="#985716" stroke-width="1" />
<line x1="36.09" y1="271.86" x2="39.88" y2="271.86" stroke="#985716" stroke-width="1" />
<line x1="39.68" y1="269.27" x2="39.68" y2="271.75" stroke="#985716" stroke-width="1" />
<line x1="37.78" y1="269.27" x2="41.58" y2="269.27" stroke="#985716" stroke-width="1" />
<line x1="37.78" y1="271.75" x2="41.58" y2="271.75" stroke="#985716" stroke-width="1" />
<line x1="41.38" y1="269.85" x2="41.38" y2="272.42" stroke="#985716" stroke-width="1" />
<line x1="39.48" y1="269.85" x2="43.27" y2="269.85" stroke="#985716" stroke-width="1" />
<line x1="39.48" y1="272.42" x2="43.27" y2="272.42" stroke="#985716" stroke-width="1" />
<line x1="43.07" y1="271.04" x2="43.07" y2="273.3" stroke="#985716" stroke-width="1" />
<line x1="41.17" y1="271.04" x2="44.97" y2="271.04" stroke="#985716" stroke-width="1" />
<line x1="41.17" y1="273.3" x2="44.97" y2="273.3" stroke="#985716" stroke-width="1" />
<line x1="44.77" y1="270.13" x2="44.77" y2="273.86" stroke="#985716" stroke-width="1" />
<line x1="42.87" y1="270.13" x2="46.66" y2="270.13" stroke="#985716" stroke-width="1" />
<line x1="42.87" y1="273.86" x2="46.66" y2="273.86" stroke="#985716" stroke-width="1" />
<line x1="46.46" y1="268.36" x2="46.46" y2="271.88" stroke="#985716" stroke-width="1" />
<line x1="44.56" y1="268.36" x2="48.36" y2="268.36" stroke="#985716" stroke-width="1" />
<line x1="44.56" y1="271.88" x2="48.36" y2="271.88" stroke="#985716" stroke-width="1" />
<line x1="48.16" y1="268.95" x2="48.16" y2="271.37" stroke="#985716" stroke-width="1" />
<line x1="46.26" y1="268.95" x2="50.05" y2="268.95" stroke="#985716" stroke-width="1" />
<line x1="46.26" y1="271.37" x2="50.05" y2="271.37" stroke="#985716" stroke-width="1" />
<line x1="49.85" y1="269.97" x2="49.85" y2="273.16" stroke="#985716" stroke-width="1" />
<line x1="47.95" y1="269.97" x2="51.75" y2="269.97" stroke="#985716" stroke-width="1" />
<line x1="47.95" y1="273.16" x2="51.75" y2="273.16" stroke="#985716" stroke-width="1" />
<line x1="51.55" y1="268.46" x2="51.55" y2="272.06" stroke="#985716" stroke-width="1" />
<line x1="49.65" y1="268.46" x2="53.45" y2="268.46" stroke="#985716" stroke-width="1" />
<line x1="49.65" y1="272.06" x2="53.45" y2="272.06" stroke="#985716" stroke-width="1" />
<line x1="53.24" y1="268.66" x2="53.24" y2="270.89" stroke="#985716" stroke-width="1" />
<line x1="51.34" y1="268.66" x2="55.14" y2="268.66" stroke="#985716" stroke-width="1" />
<line x1="51.34" y1="270.89" x2="55.14" y2="270.89" stroke="#985716" stroke-width="1" />
<line x1="54.93" y1="268.9" x2="54.93" y2="272.18" stroke="#985716" stroke-width="1" />
<line x1="53.03" y1="268.9" x2="56.83" y2="268.9" stroke="#985716" stroke-width="1" />
<line x1="53.03" y1="272.18" x2="56.83" y2="272.18" stroke="#985716" stroke-width="1" />
<line x1="56.63" y1="269.59" x2="56.63" y2="271.98" stroke="#985716" stroke-width="1" />
<line x1="54.73" y1="269.59" x2="58.53" y2="269.59" stroke="#985716" stroke-width="1" />
<line x1="54.73" y1="271.98" x2="58.53" y2="271.98" stroke="#985716" stroke-width="1" />
<line x1="58.32" y1="269.71" x2="58.32" y2="271.95" stroke="#985716" stroke-width="1" />
<line x1="56.42" y1="269.71" x2="60.22" y2="269.71" stroke="#985716" stroke-width="1" />
<line x1="56.42" y1="271.95" x2="60.22" y2="271.95" stroke="#985716" stroke-width="1" />
<line x1="60.02" y1="267.6" x2="60.02" y2="271.22" stroke="#985716" stroke-width="1" />
<line x1="58.12" y1="267.6" x2="61.92" y2="267.6" stroke="#985716" stroke-width="1" />
<line x1="58.12" y1="271.22" x2="61.92" y2="271.22" stroke="#985716" stroke-width="1" />
<line x1="61.71" y1="269.2" x2="61.71" y2="271.82" stroke="#985716" stroke-width="1" />
<line x1="59.81" y1="269.2" x2="63.61" y2="269.2" stroke="#985716" stroke-width="1" />
<line x1="59.81" y1="271.82" x2="63.61" y2="271.82" stroke="#985716" stroke-width="1" />
<line x1="63.41" y1="267.84" x2="63.41" y2="270.94" stroke="#985716" stroke-width="1" />
<line x1="61.51" y1="267.84" x2="65.31" y2="267.84" stroke="#985716" stroke-width="1" />
<line x1="61.51" y1="270.94" x2="65.31" y2="270.94" stroke="#985716" stroke-width="1" />
<line x1="65.1" y1="267.62" x2="65.1" y2="271.21" stroke="#985716" stroke-width="1" />
<line x1="63.2" y1="267.62" x2="67" y2="267.62" stroke="#985716" stroke-width="1" />
<line x1="63.2" y1="271.21" x2="67" y2="271.21" stroke="#985716" stroke-width="1" />
<line x1="66.8" y1="269.07" x2="66.8" y2="271.89" stroke="#985716" stroke-width="1" />
<line x1="64.9" y1="269.07" x2="68.7" y2="269.07" stroke="#985716" stroke-width="1" />
<line x1="64.9" y1="271.89" x2="68.7" y2="271.89" stroke="#985716" stroke-width="1" />
<line x1="92.7" y1="254.14" x2="92.7" y2="267.43" stroke="#985716" stroke-width="1" />
<line x1="90.8" y1="254.14" x2="94.6" y2="254.14" stroke="#985716" stroke-width="1" />
<line x1="90.8" y1="267.43" x2="94.6" y2="267.43" stroke="#985716" stroke-width="1" />
<line x1="95.2" y1="256.18" x2="95.2" y2="268.3" stroke="#985716" stroke-width="1" />
<line x1="93.3" y1="256.18" x2="97.1" y2="256.18" stroke="#985716" stroke-width="1" />
<line x1="93.3" y1="268.3" x2="97.1" y2="268.3" stroke="#985716" stroke-width="1" />
<line x1="97.7" y1="255.31" x2="97.7" y2="265.18" stroke="#985716" stroke-width="1" />
<line x1="95.8" y1="255.31" x2="99.6" y2="255.31" stroke="#985716" stroke-width="1" />
<line x1="95.8" y1="265.18" x2="99.6" y2="265.18" stroke="#985716" stroke-width="1" />
<line x1="100.2" y1="255.49" x2="100.2" y2="269.98" stroke="#985716" stroke-width="1" />
<line x1="98.3" y1="255.49" x2="102.1" y2="255.49" stroke="#985716" stroke-width="1" />
<line x1="98.3" y1="269.98" x2="102.1" y2="269.98" stroke="#985716" stroke-width="1" />
<line x1="102.7" y1="255.26" x2="102.7" y2="268.86" stroke="#985716" stroke-width="1" />
<line x1="100.8" y1="255.26" x2="104.6" y2="255.26" stroke="#985716" stroke-width="1" />
<line x1="100.8" y1="268.86" x2="104.6" y2="268.86" stroke="#985716" stroke-width="1" />
<line x1="105.2" y1="255.54" x2="105.2" y2="267.5" stroke="#985716" stroke-width="1" />
<line x1="103.3" y1="255.54" x2="107.1" y2="255.54" stroke="#985716" stroke-width="1" />
<line x1="103.3" y1="267.5" x2="107.1" y2="267.5" stroke="#985716" stroke-width="1" />
<line x1="107.7" y1="254.58" x2="107.7" y2="265.26" stroke="#985716" stroke-width="1" />
<line x1="105.8" y1="254.58" x2="109.6" y2="254.58" stroke="#985716" stroke-width="1" />
<line x1="105.8" y1="265.26" x2="109.6" y2="265.26" stroke="#985716" stroke-width="1" />
<line x1="110.2" y1="256.52" x2="110.2" y2="267.15" stroke="#985716" stroke-width="1" />
<line x1="108.3" y1="256.52" x2="112.1" y2="256.52" stroke="#985716" stroke-width="1" />
<line x1="108.3" y1="267.15" x2="112.1" y2="267.15" stroke="#985716" stroke-width="1" />
<line x1="112.7" y1="255.66" x2="112.7" y2="266.75" stroke="#985716" stroke-width="1" />
<line x1="110.8" y1="255.66" x2="114.6" y2="255.66" stroke="#985716" stroke-width="1" />
<line x1="110.8" y1="266.75" x2="114.6" y2="266.75" stroke="#985716" stroke-width="1" />
<line x1="115.2" y1="254.88" x2="115.2" y2="269.43" stroke="#985716" stroke-width="1" />
<line x1="113.3" y1="254.88" x2="117.1" y2="254.88" stroke="#985716" stroke-width="1" />
<line x1="113.3" y1="269.43" x2="117.1" y2="269.43" stroke="#985716" stroke-width="1" />
<line x1="117.7" y1="255.84" x2="117.7" y2="268.82" stroke="#985716" stroke-width="1" />
<line x1="115.8" y1="255.84" x2="119.6" y2="255.84" stroke="#985716" stroke-width="1" />
<line x1="115.8" y1="268.82" x2="119.6" y2="268.82" stroke="#985716" stroke-width="1" />
<line x1="120.2" y1="255.83" x2="120.2" y2="265.26" stroke="#985716" stroke-width="1" />
<line x1="118.3" y1="255.83" x2="122.1" y2="255.83" stroke="#985716" stroke-width="1" />
<line x1="118.3" y1="265.26" x2="122.1" y2="265.26" stroke="#985716" stroke-width="1" />
<line x1="122.7" y1="258.14" x2="122.7" y2="268.42" stroke="#985716" stroke-width="1" />
<line x1="120.8" y1="258.14" x2="124.6" y2="258.14" stroke="#985716" stroke-width="1" />
<line x1="120.8" y1="268.42" x2="124.6" y2="268.42" stroke="#985716" stroke-width="1" />
<line x1="125.2" y1="254.63" x2="125.2" y2="267.61" stroke="#985716" stroke-width="1" />
<line x1="123.3" y1="254.63" x2="127.1" y2="254.63" stroke="#985716" stroke-width="1" />
<line x1="123.3" y1="267.61" x2="127.1" y2="267.61" stroke="#985716" stroke-width="1" />
<line x1="127.7" y1="257.46" x2="127.7" y2="268.25" stroke="#985716" stroke-width="1" />
<line x1="125.8" y1="257.46" x2="129.6" y2="257.46" stroke="#985716" stroke-width="1" />
<line x1="125.8" y1="268.25" x2="129.6" y2="268.25" stroke="#985716" stroke-width="1" />
<line x1="130.2" y1="257.32" x2="130.2" y2="268.91" stroke="#985716" stroke-width="1" />
<line x1="128.3" y1="257.32" x2="132.1" y2="257.32" stroke="#985716" stroke-width="1" />
<line x1="128.3" y1="268.91" x2="132.1" y2="268.91" stroke="#985716" stroke-width="1" />
<line x1="132.7" y1="257.39" x2="132.7" y2="270.68" stroke="#985716" stroke-width="1" />
<line x1="130.8" y1="257.39" x2="134.6" y2="257.39" stroke="#985716" stroke-width="1" />
<line x1="130.8" y1="270.68" x2="134.6" y2="270.68" stroke="#985716" stroke-width="1" />
<line x1="135.2" y1="253.85" x2="135.2" y2="268.97" stroke="#985716" stroke-width="1" />
<line x1="133.3" y1="253.85" x2="137.1" y2="253.85" stroke="#985716" stroke-width="1" />
<line x1="133.3" y1="268.97" x2="137.1" y2="268.97" stroke="#985716" stroke-width="1" />
<line x1="137.7" y1="254.43" x2="137.7" y2="269.58" stroke="#985716" stroke-width="1" />
<line x1="135.8" y1="254.43" x2="139.6" y2="254.43" stroke="#985716" stroke-width="1" />
<line x1="135.8" y1="269.58" x2="139.6" y2="269.58" stroke="#985716" stroke-width="1" />
<line x1="140.2" y1="259.17" x2="140.2" y2="269.55" stroke="#985716" stroke-width="1" />
<line x1="138.3" y1="259.17" x2="142.1" y2="259.17" stroke="#985716" stroke-width="1" />
<line x1="138.3" y1="269.55" x2="142.1" y2="269.55" stroke="#985716" stroke-width="1" />
<line x1="142.7" y1="254.52" x2="142.7" y2="268.36" stroke="#985716" stroke-width="1" />
<line x1="140.8" y1="254.52" x2="144.6" y2="254.52" stroke="#985716" stroke-width="1" />
<line x1="140.8" y1="268.36" x2="144.6" y2="268.36" stroke="#985716" stroke-width="1" />
<line x1="145.2" y1="255.76" x2="145.2" y2="270.8" stroke="#985716" stroke-width="1" />
<line x1="143.3" y1="255.76" x2="147.1" y2="255.76" stroke="#985716" stroke-width="1" />
<line x1="143.3" y1="270.8" x2="147.1" y2="270.8" stroke="#985716" stroke-width="1" />
<line x1="147.7" y1="255.63" x2="147.7" y2="269.77" stroke="#985716" stroke-width="1" />
<line x1="145.8" y1="255.63" x2="149.6" y2="255.63" stroke="#985716" stroke-width="1" />
<line x1="145.8" y1="269.77" x2="149.6" y2="269.77" stroke="#985716" stroke-width="1" />
<line x1="150.2" y1="258.98" x2="150.2" y2="268.66" stroke="#985716" stroke-width="1" />
<line x1="148.3" y1="258.98" x2="152.1" y2="258.98" stroke="#985716" stroke-width="1" />
<line x1="148.3" y1="268.66" x2="152.1" y2="268.66" stroke="#985716" stroke-width="1" />
<line x1="152.7" y1="258.78" x2="152.7" y2="268.07" stroke="#985716" stroke-width="1" />
<line x1="150.8" y1="258.78" x2="154.6" y2="258.78" stroke="#985716" stroke-width="1" />
<line x1="150.8" y1="268.07" x2="154.6" y2="268.07" stroke="#985716" stroke-width="1" />
<line x1="155.2" y1="256.12" x2="155.2" y2="271.29" stroke="#985716" stroke-width="1" />
<line x1="153.3" y1="256.12" x2="157.1" y2="256.12" stroke="#985716" stroke-width="1" />
<line x1="153.3" y1="271.29" x2="157.1" y2="271.29" stroke="#985716" stroke-width="1" />
<line x1="157.7" y1="259.75" x2="157.7" y2="268.14" stroke="#985716" stroke-width="1" />
<line x1="155.8" y1="259.75" x2="159.6" y2="259.75" stroke="#985716" stroke-width="1" />
<line x1="155.8" y1="268.14" x2="159.6" y2="268.14" stroke="#985716" stroke-width="1" />
<line x1="160.2" y1="260.17" x2="160.2" y2="269.7" stroke="#985716" stroke-width="1" />
<line x1="158.3" y1="260.17" x2="162.1" y2="260.17" stroke="#985716" stroke-width="1" />
<line x1="158.3" y1="269.7" x2="162.1" y2="269.7" stroke="#985716" stroke-width="1" />
<line x1="162.7" y1="257.23" x2="162.7" y2="268.13" stroke="#985716" stroke-width="1" />
<line x1="160.8" y1="257.23" x2="164.6" y2="257.23" stroke="#985716" stroke-width="1" />
<line x1="160.8" y1="268.13" x2="164.6" y2="268.13" stroke="#985716" stroke-width="1" />
<line x1="165.2" y1="264.61" x2="165.2" y2="272.12" stroke="#985716" stroke-width="1" />
<line x1="163.3" y1="264.61" x2="167.1" y2="264.61" stroke="#985716" stroke-width="1" />
<line x1="163.3" y1="272.12" x2="167.1" y2="272.12" stroke="#985716" stroke-width="1" />
<line x1="167.7" y1="262.79" x2="167.7" y2="272.24" stroke="#985716" stroke-width="1" />
<line x1="165.8" y1="262.79" x2="169.6" y2="262.79" stroke="#985716" stroke-width="1" />
<line x1="165.8" y1="272.24" x2="169.6" y2="272.24" stroke="#985716" stroke-width="1" />
<line x1="170.2" y1="265.35" x2="170.2" y2="272.63" stroke="#985716" stroke-width="1" />
<line x1="168.3" y1="265.35" x2="172.1" y2="265.35" stroke="#985716" stroke-width="1" />
<line x1="168.3" y1="272.63" x2="172.1" y2="272.63" stroke="#985716" stroke-width="1" />
<line x1="172.7" y1="257.84" x2="172.7" y2="265.77" stroke="#985716" stroke-width="1" />
<line x1="170.8" y1="257.84" x2="174.6" y2="257.84" stroke="#985716" stroke-width="1" />
<line x1="170.8" y1="265.77" x2="174.6" y2="265.77" stroke="#985716" stroke-width="1" />
<line x1="175.2" y1="257.16" x2="175.2" y2="264.98" stroke="#985716" stroke-width="1" />
<line x1="173.3" y1="257.16" x2="177.1" y2="257.16" stroke="#985716" stroke-width="1" />
<line x1="173.3" y1="264.98" x2="177.1" y2="264.98" stroke="#985716" stroke-width="1" />
<line x1="177.7" y1="257.4" x2="177.7" y2="267.24" stroke="#985716" stroke-width="1" />
<line x1="175.8" y1="257.4" x2="179.6" y2="257.4" stroke="#985716" stroke-width="1" />
<line x1="175.8" y1="267.24" x2="179.6" y2="267.24" stroke="#985716" stroke-width="1" />
<line x1="180.2" y1="258.68" x2="180.2" y2="272.83" stroke="#985716" stroke-width="1" />
<line x1="178.3" y1="258.68" x2="182.1" y2="258.68" stroke="#985716" stroke-width="1" />
<line x1="178.3" y1="272.83" x2="182.1" y2="272.83" stroke="#985716" stroke-width="1" />
<line x1="182.7" y1="260.63" x2="182.7" y2="271.71" stroke="#985716" stroke-width="1" />
<line x1="180.8" y1="260.63" x2="184.6" y2="260.63" stroke="#985716" stroke-width="1" />
<line x1="180.8" y1="271.71" x2="184.6" y2="271.71" stroke="#985716" stroke-width="1" />
<line x1="185.2" y1="259.28" x2="185.2" y2="269.57" stroke="#985716" stroke-width="1" />
<line x1="183.3" y1="259.28" x2="187.1" y2="259.28" stroke="#985716" stroke-width="1" />
<line x1="183.3" y1="269.57" x2="187.1" y2="269.57" stroke="#985716" stroke-width="1" />
<line x1="187.7" y1="258.52" x2="187.7" y2="269.27" stroke="#985716" stroke-width="1" />
<line x1="185.8" y1="258.52" x2="189.6" y2="258.52" stroke="#985716" stroke-width="1" />
<line x1="185.8" y1="269.27" x2="189.6" y2="269.27" stroke="#985716" stroke-width="1" />
<line x1="190.2" y1="260.87" x2="190.2" y2="271.18" stroke="#985716" stroke-width="1" />
<line x1="188.3" y1="260.87" x2="192.1" y2="260.87" stroke="#985716" stroke-width="1" />
<line x1="188.3" y1="271.18" x2="192.1" y2="271.18" stroke="#985716" stroke-width="1" />
<line x1="192.7" y1="261.47" x2="192.7" y2="271.84" stroke="#985716" stroke-width="1" />
<line x1="190.8" y1="261.47" x2="194.6" y2="261.47" stroke="#985716" stroke-width="1" />
<line x1="190.8" y1="271.84" x2="194.6" y2="271.84" stroke="#985716" stroke-width="1" />
<line x1="195.2" y1="259.41" x2="195.2" y2="272.85" stroke="#985716" stroke-width="1" />
<line x1="193.3" y1="259.41" x2="197.1" y2="259.41" stroke="#985716" stroke-width="1" />
<line x1="193.3" y1="272.85" x2="197.1" y2="272.85" stroke="#985716" stroke-width="1" />
<line x1="197.7" y1="259.14" x2="197.7" y2="270.02" stroke="#985716" stroke-width="1" />
<line x1="195.8" y1="259.14" x2="199.6" y2="259.14" stroke="#985716" stroke-width="1" />
<line x1="195.8" y1="270.02" x2="199.6" y2="270.02" stroke="#985716" stroke-width="1" />
<line x1="200.2" y1="262.21" x2="200.2" y2="271.5" stroke="#985716" stroke-width="1" />
<line x1="198.3" y1="262.21" x2="202.1" y2="262.21" stroke="#985716" stroke-width="1" />
<line x1="198.3" y1="271.5" x2="202.1" y2="271.5" stroke="#985716" stroke-width="1" />
<line x1="202.7" y1="258.52" x2="202.7" y2="266.68" stroke="#985716" stroke-width="1" />
<line x1="200.8" y1="258.52" x2="204.6" y2="258.52" stroke="#985716" stroke-width="1" />
<line x1="200.8" y1="266.68" x2="204.6" y2="266.68" stroke="#985716" stroke-width="1" />
<line x1="205.2" y1="256.9" x2="205.2" y2="269" stroke="#985716" stroke-width="1" />
<line x1="203.3" y1="256.9" x2="207.1" y2="256.9" stroke="#985716" stroke-width="1" />
<line x1="203.3" y1="269" x2="207.1" y2="269" stroke="#985716" stroke-width="1" />
<line x1="207.7" y1="259.84" x2="207.7" y2="267.08" stroke="#985716" stroke-width="1" />
<line x1="205.8" y1="259.84" x2="209.6" y2="259.84" stroke="#985716" stroke-width="1" />
<line x1="205.8" y1="267.08" x2="209.6" y2="267.08" stroke="#985716" stroke-width="1" />
<line x1="210.2" y1="257.09" x2="210.2" y2="267.38" stroke="#985716" stroke-width="1" />
<line x1="208.3" y1="257.09" x2="212.1" y2="257.09" stroke="#985716" stroke-width="1" />
<line x1="208.3" y1="267.38" x2="212.1" y2="267.38" stroke="#985716" stroke-width="1" />
<line x1="212.7" y1="262.76" x2="212.7" y2="271.15" stroke="#985716" stroke-width="1" />
<line x1="210.8" y1="262.76" x2="214.6" y2="262.76" stroke="#985716" stroke-width="1" />
<line x1="210.8" y1="271.15" x2="214.6" y2="271.15" stroke="#985716" stroke-width="1" />
<line x1="215.2" y1="262.69" x2="215.2" y2="272.42" stroke="#985716" stroke-width="1" />
<line x1="213.3" y1="262.69" x2="217.1" y2="262.69" stroke="#985716" stroke-width="1" />
<line x1="213.3" y1="272.42" x2="217.1" y2="272.42" stroke="#985716" stroke-width="1" />
<line x1="217.7" y1="263.07" x2="217.7" y2="273.29" stroke="#985716" stroke-width="1" />
<line x1="215.8" y1="263.07" x2="219.6" y2="263.07" stroke="#985716" stroke-width="1" />
<line x1="215.8" y1="273.29" x2="219.6" y2="273.29" stroke="#985716" stroke-width="1" />
<path d="M32.9,269.35 L35.83,274.45 L29.97,274.45Z" fill="#8a4808"/>
<path d="M34.59,268.82 L37.53,273.92 L31.66,273.92Z" fill="#8a4808"/>
<path d="M36.29,269.75 L39.22,274.85 L33.36,274.85Z" fill="#8a4808"/>
<path d="M37.98,267.17 L40.92,272.27 L35.05,272.27Z" fill="#8a4808"/>
<path d="M39.68,267.58 L42.61,272.68 L36.75,272.68Z" fill="#8a4808"/>
<path d="M41.38,268.21 L44.31,273.31 L38.44,273.31Z" fill="#8a4808"/>
<path d="M43.07,269.24 L46,274.34 L40.14,274.34Z" fill="#8a4808"/>
<path d="M44.77,269.06 L47.7,274.16 L41.83,274.16Z" fill="#8a4808"/>
<path d="M46.46,267.19 L49.39,272.29 L43.53,272.29Z" fill="#8a4808"/>
<path d="M48.16,267.22 L51.09,272.32 L45.22,272.32Z" fill="#8a4808"/>
<path d="M49.85,268.63 L52.78,273.73 L46.92,273.73Z" fill="#8a4808"/>
<path d="M51.55,267.33 L54.48,272.43 L48.61,272.43Z" fill="#8a4808"/>
<path d="M53.24,266.84 L56.17,271.94 L50.31,271.94Z" fill="#8a4808"/>
<path d="M54.93,267.6 L57.87,272.7 L52,272.7Z" fill="#8a4808"/>
<path d="M56.63,267.85 L59.56,272.95 L53.7,272.95Z" fill="#8a4808"/>
<path d="M58.32,267.9 L61.26,273 L55.39,273Z" fill="#8a4808"/>
<path d="M60.02,266.48 L62.95,271.58 L57.09,271.58Z" fill="#8a4808"/>
<path d="M61.71,267.58 L64.65,272.68 L58.78,272.68Z" fill="#8a4808"/>
<path d="M63.41,266.46 L66.34,271.56 L60.48,271.56Z" fill="#8a4808"/>
<path d="M65.1,266.49 L68.04,271.59 L62.17,271.59Z" fill="#8a4808"/>
<path d="M66.8,267.55 L69.73,272.65 L63.87,272.65Z" fill="#8a4808"/>
<path d="M92.7,257.85 L95.63,262.95 L89.77,262.95Z" fill="#8a4808"/>
<path d="M95.2,259.31 L98.13,264.41 L92.27,264.41Z" fill="#8a4808"/>
<path d="M97.7,257.31 L100.63,262.41 L94.77,262.41Z" fill="#8a4808"/>
<path d="M100.2,259.8 L103.13,264.9 L97.27,264.9Z" fill="#8a4808"/>
<path d="M102.7,259.13 L105.63,264.23 L99.77,264.23Z" fill="#8a4808"/>
<path d="M105.2,258.59 L108.13,263.69 L102.27,263.69Z" fill="#8a4808"/>
<path d="M107.7,256.99 L110.63,262.09 L104.77,262.09Z" fill="#8a4808"/>
<path d="M110.2,258.91 L113.13,264.01 L107.27,264.01Z" fill="#8a4808"/>
<path d="M112.7,258.28 L115.63,263.38 L109.77,263.38Z" fill="#8a4808"/>
<path d="M115.2,259.22 L118.13,264.32 L112.27,264.32Z" fill="#8a4808"/>
<path d="M117.7,259.4 L120.63,264.5 L114.77,264.5Z" fill="#8a4808"/>
<path d="M120.2,257.61 L123.13,262.71 L117.27,262.71Z" fill="#8a4808"/>
<path d="M122.7,260.35 L125.63,265.45 L119.77,265.45Z" fill="#8a4808"/>
<path d="M125.2,258.19 L128.13,263.29 L122.27,263.29Z" fill="#8a4808"/>
<path d="M127.7,259.92 L130.63,265.02 L124.77,265.02Z" fill="#8a4808"/>
<path d="M130.2,260.18 L133.13,265.28 L127.27,265.28Z" fill="#8a4808"/>
<path d="M132.7,261.1 L135.63,266.2 L129.77,266.2Z" fill="#8a4808"/>
<path d="M135.2,258.48 L138.13,263.58 L132.27,263.58Z" fill="#8a4808"/>
<path d="M137.7,259.07 L140.63,264.17 L134.77,264.17Z" fill="#8a4808"/>
<path d="M140.2,261.43 L143.13,266.53 L137.27,266.53Z" fill="#8a4808"/>
<path d="M142.7,258.51 L145.63,263.61 L139.77,263.61Z" fill="#8a4808"/>
<path d="M145.2,260.35 L148.13,265.45 L142.27,265.45Z" fill="#8a4808"/>
<path d="M147.7,259.77 L150.63,264.87 L144.77,264.87Z" fill="#8a4808"/>
<path d="M150.2,260.88 L153.13,265.98 L147.27,265.98Z" fill="#8a4808"/>
<path d="M152.7,260.49 L155.63,265.59 L149.77,265.59Z" fill="#8a4808"/>
<path d="M155.2,260.77 L158.13,265.87 L152.27,265.87Z" fill="#8a4808"/>
<path d="M157.7,261.01 L160.63,266.11 L154.77,266.11Z" fill="#8a4808"/>
<path d="M160.2,262 L163.13,267.1 L157.27,267.1Z" fill="#8a4808"/>
<path d="M162.7,259.74 L165.63,264.84 L159.77,264.84Z" fill="#8a4808"/>
<path d="M165.2,265.43 L168.13,270.53 L162.27,270.53Z" fill="#8a4808"/>
<path d="M167.7,264.58 L170.63,269.68 L164.77,269.68Z" fill="#8a4808"/>
<path d="M170.2,266.06 L173.13,271.16 L167.27,271.16Z" fill="#8a4808"/>
<path d="M172.7,258.87 L175.63,263.97 L169.77,263.97Z" fill="#8a4808"/>
<path d="M175.2,258.13 L178.13,263.23 L172.27,263.23Z" fill="#8a4808"/>
<path d="M177.7,259.39 L180.63,264.49 L174.77,264.49Z" fill="#8a4808"/>
<path d="M180.2,262.82 L183.13,267.92 L177.27,267.92Z" fill="#8a4808"/>
<path d="M182.7,263.24 L185.63,268.34 L179.77,268.34Z" fill="#8a4808"/>
<path d="M185.2,261.49 L188.13,266.59 L182.27,266.59Z" fill="#8a4808"/>
<path d="M187.7,260.96 L190.63,266.06 L184.77,266.06Z" fill="#8a4808"/>
<path d="M190.2,263.09 L193.13,268.19 L187.27,268.19Z" fill="#8a4808"/>
<path d="M192.7,263.72 L195.63,268.82 L189.77,268.82Z" fill="#8a4808"/>
<path d="M195.2,263.2 L198.13,268.3 L192.27,268.3Z" fill="#8a4808"/>
<path d="M197.7,261.64 L200.63,266.74 L194.77,266.74Z" fill="#8a4808"/>
<path d="M200.2,263.92 L203.13,269.02 L197.27,269.02Z" fill="#8a4808"/>
<path d="M202.7,259.67 L205.63,264.77 L199.77,264.77Z" fill="#8a4808"/>
<path d="M205.2,260.02 L208.13,265.12 L202.27,265.12Z" fill="#8a4808"/>
<path d="M207.7,260.53 L210.63,265.63 L204.77,265.63Z" fill="#8a4808"/>
<path d="M210.2,259.3 L213.13,264.4 L207.27,264.4Z" fill="#8a4808"/>
<path d="M212.7,264.02 L215.63,269.12 L209.77,269.12Z" fill="#8a4808"/>
<path d="M215.2,264.62 L218.13,269.72 L212.27,269.72Z" fill="#8a4808"/>
<path d="M217.7,265.25 L220.63,270.35 L214.77,270.35Z" fill="#8a4808"/>
<circle cx="45.9" cy="273" r="1.4" fill="#646464"/>
<circle cx="51.76" cy="273" r="1.4" fill="#646464"/>
<circle cx="57.63" cy="273" r="1.4" fill="#646464"/>
<circle cx="63.49" cy="273" r="1.4" fill="#646464"/>
<circle cx="69.36" cy="273" r="1.4" fill="#646464"/>
<circle cx="75.22" cy="273" r="1.4" fill="#646464"/>
<circle cx="81.09" cy="273" r="1.4" fill="#646464"/>
<circle cx="86.95" cy="273" r="1.4" fill="#646464"/>
<circle cx="92.81" cy="273" r="1.4" fill="#646464"/>
<circle cx="98.68" cy="273" r="1.4" fill="#646464"/>
<circle cx="104.54" cy="273" r="1.4" fill="#646464"/>
<circle cx="110.41" cy="273" r="1.4" fill="#646464"/>
<circle cx="116.27" cy="273" r="1.4" fill="#646464"/>
<circle cx="122.14" cy="273" r="1.4" fill="#646464"/>
<circle cx="128" cy="273" r="1.4" fill="#646464"/>
<circle cx="133.86" cy="273" r="1.4" fill="#646464"/>
<circle cx="139.73" cy="273" r="1.4" fill="#646464"/>
<circle cx="145.59" cy="273" r="1.4" fill="#646464"/>
<circle cx="151.46" cy="273" r="1.4" fill="#646464"/>
<circle cx="157.32" cy="273" r="1.4" fill="#646464"/>
<circle cx="163.19" cy="273" r="1.4" fill="#646464"/>
<circle cx="169.05" cy="273" r="1.4" fill="#646464"/>
<circle cx="174.91" cy="273" r="1.4" fill="#646464"/>
<circle cx="180.78" cy="273" r="1.4" fill="#646464"/>
<circle cx="186.64" cy="273" r="1.4" fill="#646464"/>
<circle cx="192.51" cy="273" r="1.4" fill="#646464"/>
<circle cx="198.37" cy="273" r="1.4" fill="#646464"/>
<circle cx="204.24" cy="273" r="1.4" fill="#646464"/>
<circle cx="210.1" cy="273" r="1.4" fill="#646464"/>
<path d="M37.8,221.47 L40.73,226.57 L34.87,226.57Z" fill="#8a4808"/>
<text x="59.6" y="226.9" font-size="8.95" text-anchor="start" fill="#000" font-weight="normal" transform="translate(59.6 226.9) scale(1 1.07) translate(-59.6 -226.9)" >2-APB N=6 n=12</text>
<line x1="130" y1="208.3" x2="143.8" y2="208.3" stroke="#d9b87a" stroke-width="1.5" />
<line x1="130" y1="215.9" x2="143.8" y2="215.9" stroke="#a0621c" stroke-width="1.8" />
<text x="150.5" y="211.23" font-size="7.7" text-anchor="start" fill="#000" font-weight="normal" >Before</text>
<text x="150.5" y="218.83" font-size="7.7" text-anchor="start" fill="#000" font-weight="normal" >After</text>
<line x1="193" y1="205.9" x2="193" y2="212.95" stroke="#000" stroke-width="1.3" />
<line x1="192.35" y1="212.3" x2="203.8" y2="212.3" stroke="#000" stroke-width="1.3" />
<text x="191.7" y="223.6" font-size="8" text-anchor="start" fill="#000" font-weight="normal" >200ms</text>
<text x="190.1" y="213.8" font-size="7.8" text-anchor="middle" fill="#000" font-weight="normal" transform="rotate(-90 190.1 213.8)" >200μV</text>
<path d="M147,217.2 C147.08,219.12 147.23,226.12 147.5,228.7 C147.77,231.28 147.83,231.5 148.6,232.7 C149.37,233.9 150.93,233.48 152.1,235.9 C153.27,238.32 154.4,244.7 155.6,247.2 C156.8,249.7 158.02,251.03 159.3,250.9 C160.58,250.77 161.82,248.37 163.3,246.4 C164.78,244.43 166.32,241.52 168.2,239.1 C170.08,236.68 171.93,233.9 174.6,231.9 C177.27,229.9 181.27,228.3 184.2,227.1 C187.13,225.9 187.12,225.18 192.2,224.7 C197.28,224.22 210.95,224.28 214.7,224.2" fill="none" stroke="#a0621c" stroke-width="1.6" stroke-linejoin="round" stroke-linecap="round"/>
<text x="264.3" y="204.8" font-size="10.4" text-anchor="start" fill="#000" font-weight="bold" transform="translate(264.3 204.8) scale(1 1.07) translate(-264.3 -204.8)" >E</text>
<line x1="263.9" y1="220.5" x2="263.9" y2="345.4" stroke="#000" stroke-width="1.9" />
<line x1="255.6" y1="221.3" x2="263.9" y2="221.3" stroke="#000" stroke-width="1.6" />
<line x1="259.3" y1="237.78" x2="263.9" y2="237.78" stroke="#000" stroke-width="1.6" />
<line x1="259.3" y1="254.27" x2="263.9" y2="254.27" stroke="#000" stroke-width="1.6" />
<line x1="255.6" y1="270.75" x2="263.9" y2="270.75" stroke="#000" stroke-width="1.6" />
<line x1="259.3" y1="287.23" x2="263.9" y2="287.23" stroke="#000" stroke-width="1.6" />
<line x1="259.3" y1="303.72" x2="263.9" y2="303.72" stroke="#000" stroke-width="1.6" />
<line x1="255.6" y1="320.2" x2="263.9" y2="320.2" stroke="#000" stroke-width="1.6" />
<line x1="259.3" y1="336.7" x2="263.9" y2="336.7" stroke="#000" stroke-width="1.6" />
<text x="252.1" y="221.3" font-size="9.3" text-anchor="middle" fill="#000" font-weight="normal" transform="rotate(-90 252.1 221.3) translate(252.1 221.3) scale(1 1.02) translate(-252.1 -221.3)" >150%</text>
<text x="252.1" y="270.4" font-size="9.3" text-anchor="middle" fill="#000" font-weight="normal" transform="rotate(-90 252.1 270.4) translate(252.1 270.4) scale(1 1.02) translate(-252.1 -270.4)" >100%</text>
<text x="252.1" y="320.2" font-size="9.3" text-anchor="middle" fill="#000" font-weight="normal" transform="rotate(-90 252.1 320.2) translate(252.1 320.2) scale(1 1.02) translate(-252.1 -320.2)" >50%</text>
<text x="235.5" y="285.7" font-size="8.9" text-anchor="middle" fill="#000" font-weight="normal" transform="rotate(-90 235.5 285.7) translate(235.5 285.7) scale(1 1.07) translate(-235.5 -285.7)" >fEPSP Amplitude</text>
<line x1="263" y1="344.5" x2="308.1" y2="344.5" stroke="#000" stroke-width="1.8" />
<line x1="324.6" y1="344.5" x2="450.1" y2="344.5" stroke="#000" stroke-width="1.8" />
<line x1="264.3" y1="344.5" x2="264.3" y2="352.7" stroke="#000" stroke-width="1.7" />
<line x1="281.55" y1="344.5" x2="281.55" y2="352.7" stroke="#000" stroke-width="1.7" />
<line x1="298.8" y1="344.5" x2="298.8" y2="352.7" stroke="#000" stroke-width="1.7" />
<line x1="349.44" y1="344.5" x2="349.44" y2="352.7" stroke="#000" stroke-width="1.7" />
<line x1="374.38" y1="344.5" x2="374.38" y2="352.7" stroke="#000" stroke-width="1.7" />
<line x1="399.32" y1="344.5" x2="399.32" y2="352.7" stroke="#000" stroke-width="1.7" />
<line x1="424.26" y1="344.5" x2="424.26" y2="352.7" stroke="#000" stroke-width="1.7" />
<line x1="449.2" y1="344.5" x2="449.2" y2="352.7" stroke="#000" stroke-width="1.7" />
<line x1="336.97" y1="344.5" x2="336.97" y2="348.9" stroke="#000" stroke-width="1.7" />
<line x1="361.91" y1="344.5" x2="361.91" y2="348.9" stroke="#000" stroke-width="1.7" />
<line x1="386.85" y1="344.5" x2="386.85" y2="348.9" stroke="#000" stroke-width="1.7" />
<line x1="411.79" y1="344.5" x2="411.79" y2="348.9" stroke="#000" stroke-width="1.7" />
<line x1="436.73" y1="344.5" x2="436.73" y2="348.9" stroke="#000" stroke-width="1.7" />
<text x="264.3" y="364.4" font-size="9" text-anchor="middle" fill="#000" font-weight="normal" transform="translate(264.3 364.4) scale(1 1.07) translate(-264.3 -364.4)" >0</text>
<text x="281.55" y="364.4" font-size="9" text-anchor="middle" fill="#000" font-weight="normal" transform="translate(281.55 364.4) scale(1 1.07) translate(-281.55 -364.4)" >10</text>
<text x="298.8" y="364.4" font-size="9" text-anchor="middle" fill="#000" font-weight="normal" transform="translate(298.8 364.4) scale(1 1.07) translate(-298.8 -364.4)" >20</text>
<text x="324.5" y="364.4" font-size="9" text-anchor="middle" fill="#000" font-weight="normal" transform="translate(324.5 364.4) scale(1 1.07) translate(-324.5 -364.4)" >30</text>
<text x="349.44" y="364.4" font-size="9" text-anchor="middle" fill="#000" font-weight="normal" transform="translate(349.44 364.4) scale(1 1.07) translate(-349.44 -364.4)" >40</text>
<text x="374.38" y="364.4" font-size="9" text-anchor="middle" fill="#000" font-weight="normal" transform="translate(374.38 364.4) scale(1 1.07) translate(-374.38 -364.4)" >50</text>
<text x="399.32" y="364.4" font-size="9" text-anchor="middle" fill="#000" font-weight="normal" transform="translate(399.32 364.4) scale(1 1.07) translate(-399.32 -364.4)" >60</text>
<text x="424.26" y="364.4" font-size="9" text-anchor="middle" fill="#000" font-weight="normal" transform="translate(424.26 364.4) scale(1 1.07) translate(-424.26 -364.4)" >70</text>
<text x="449.2" y="364.4" font-size="9" text-anchor="middle" fill="#000" font-weight="normal" transform="translate(449.2 364.4) scale(1 1.07) translate(-449.2 -364.4)" >80</text>
<line x1="302.3" y1="350.3" x2="314.1" y2="338.9" stroke="#000" stroke-width="1.8" />
<line x1="319.2" y1="350.3" x2="330.1" y2="339.3" stroke="#000" stroke-width="1.8" />
<text x="357.1" y="380.8" font-size="8.8" text-anchor="middle" fill="#000" font-weight="normal" transform="translate(357.1 380.8) scale(1 1.07) translate(-357.1 -380.8)" >Time/Min</text>
<path d="M338.7,288 L331.7,298.4 L336.1,298.7 L332.5,308.4 L342.4,296.5 L338.4,296.2Z" fill="#fae66a"/>
<path d="M327.8,305.2 L320.8,315.6 L325.2,315.9 L321.6,325.6 L331.5,313.7 L327.5,313.4Z" fill="#fae66a"/>
<text x="303.5" y="298.4" font-size="8.8" text-anchor="start" fill="#000" font-weight="normal" transform="translate(303.5 298.4) scale(1 1.07) translate(-303.5 -298.4)" >TBS</text>
<line x1="315" y1="310.3" x2="315" y2="339" stroke="#000" stroke-width="1.8" />
<path d="M310.7,336.8 L319.3,336.8 L315,344Z" fill="#000"/>
<line x1="264.3" y1="268.8" x2="264.3" y2="271.52" stroke="#9f8fda" stroke-width="1" />
<line x1="262.4" y1="268.8" x2="266.2" y2="268.8" stroke="#9f8fda" stroke-width="1" />
<line x1="262.4" y1="271.52" x2="266.2" y2="271.52" stroke="#9f8fda" stroke-width="1" />
<line x1="266.03" y1="268.31" x2="266.03" y2="271.32" stroke="#9f8fda" stroke-width="1" />
<line x1="264.13" y1="268.31" x2="267.93" y2="268.31" stroke="#9f8fda" stroke-width="1" />
<line x1="264.13" y1="271.32" x2="267.93" y2="271.32" stroke="#9f8fda" stroke-width="1" />
<line x1="267.75" y1="268.44" x2="267.75" y2="271.41" stroke="#9f8fda" stroke-width="1" />
<line x1="265.85" y1="268.44" x2="269.65" y2="268.44" stroke="#9f8fda" stroke-width="1" />
<line x1="265.85" y1="271.41" x2="269.65" y2="271.41" stroke="#9f8fda" stroke-width="1" />
<line x1="269.48" y1="270.17" x2="269.48" y2="272.5" stroke="#9f8fda" stroke-width="1" />
<line x1="267.58" y1="270.17" x2="271.38" y2="270.17" stroke="#9f8fda" stroke-width="1" />
<line x1="267.58" y1="272.5" x2="271.38" y2="272.5" stroke="#9f8fda" stroke-width="1" />
<line x1="271.2" y1="268.23" x2="271.2" y2="270.82" stroke="#9f8fda" stroke-width="1" />
<line x1="269.3" y1="268.23" x2="273.1" y2="268.23" stroke="#9f8fda" stroke-width="1" />
<line x1="269.3" y1="270.82" x2="273.1" y2="270.82" stroke="#9f8fda" stroke-width="1" />
<line x1="272.93" y1="268.69" x2="272.93" y2="270.52" stroke="#9f8fda" stroke-width="1" />
<line x1="271.03" y1="268.69" x2="274.82" y2="268.69" stroke="#9f8fda" stroke-width="1" />
<line x1="271.03" y1="270.52" x2="274.82" y2="270.52" stroke="#9f8fda" stroke-width="1" />
<line x1="274.65" y1="269.45" x2="274.65" y2="271.47" stroke="#9f8fda" stroke-width="1" />
<line x1="272.75" y1="269.45" x2="276.55" y2="269.45" stroke="#9f8fda" stroke-width="1" />
<line x1="272.75" y1="271.47" x2="276.55" y2="271.47" stroke="#9f8fda" stroke-width="1" />
<line x1="276.38" y1="269.07" x2="276.38" y2="271.55" stroke="#9f8fda" stroke-width="1" />
<line x1="274.48" y1="269.07" x2="278.27" y2="269.07" stroke="#9f8fda" stroke-width="1" />
<line x1="274.48" y1="271.55" x2="278.27" y2="271.55" stroke="#9f8fda" stroke-width="1" />
<line x1="278.1" y1="270.38" x2="278.1" y2="272.35" stroke="#9f8fda" stroke-width="1" />
<line x1="276.2" y1="270.38" x2="280" y2="270.38" stroke="#9f8fda" stroke-width="1" />
<line x1="276.2" y1="272.35" x2="280" y2="272.35" stroke="#9f8fda" stroke-width="1" />
<line x1="279.82" y1="269.35" x2="279.82" y2="272.32" stroke="#9f8fda" stroke-width="1" />
<line x1="277.93" y1="269.35" x2="281.72" y2="269.35" stroke="#9f8fda" stroke-width="1" />
<line x1="277.93" y1="272.32" x2="281.72" y2="272.32" stroke="#9f8fda" stroke-width="1" />
<line x1="281.55" y1="268.93" x2="281.55" y2="270.82" stroke="#9f8fda" stroke-width="1" />
<line x1="279.65" y1="268.93" x2="283.45" y2="268.93" stroke="#9f8fda" stroke-width="1" />
<line x1="279.65" y1="270.82" x2="283.45" y2="270.82" stroke="#9f8fda" stroke-width="1" />
<line x1="283.28" y1="268.88" x2="283.28" y2="270.74" stroke="#9f8fda" stroke-width="1" />
<line x1="281.38" y1="268.88" x2="285.18" y2="268.88" stroke="#9f8fda" stroke-width="1" />
<line x1="281.38" y1="270.74" x2="285.18" y2="270.74" stroke="#9f8fda" stroke-width="1" />
<line x1="285" y1="269.25" x2="285" y2="271.09" stroke="#9f8fda" stroke-width="1" />
<line x1="283.1" y1="269.25" x2="286.9" y2="269.25" stroke="#9f8fda" stroke-width="1" />
<line x1="283.1" y1="271.09" x2="286.9" y2="271.09" stroke="#9f8fda" stroke-width="1" />
<line x1="286.73" y1="269.93" x2="286.73" y2="272.84" stroke="#9f8fda" stroke-width="1" />
<line x1="284.83" y1="269.93" x2="288.62" y2="269.93" stroke="#9f8fda" stroke-width="1" />
<line x1="284.83" y1="272.84" x2="288.62" y2="272.84" stroke="#9f8fda" stroke-width="1" />
<line x1="288.45" y1="269.99" x2="288.45" y2="271.96" stroke="#9f8fda" stroke-width="1" />
<line x1="286.55" y1="269.99" x2="290.35" y2="269.99" stroke="#9f8fda" stroke-width="1" />
<line x1="286.55" y1="271.96" x2="290.35" y2="271.96" stroke="#9f8fda" stroke-width="1" />
<line x1="290.18" y1="266.14" x2="290.18" y2="269.78" stroke="#9f8fda" stroke-width="1" />
<line x1="288.28" y1="266.14" x2="292.07" y2="266.14" stroke="#9f8fda" stroke-width="1" />
<line x1="288.28" y1="269.78" x2="292.07" y2="269.78" stroke="#9f8fda" stroke-width="1" />
<line x1="291.9" y1="267.37" x2="291.9" y2="271.16" stroke="#9f8fda" stroke-width="1" />
<line x1="290" y1="267.37" x2="293.8" y2="267.37" stroke="#9f8fda" stroke-width="1" />
<line x1="290" y1="271.16" x2="293.8" y2="271.16" stroke="#9f8fda" stroke-width="1" />
<line x1="293.62" y1="267.05" x2="293.62" y2="270.34" stroke="#9f8fda" stroke-width="1" />
<line x1="291.73" y1="267.05" x2="295.52" y2="267.05" stroke="#9f8fda" stroke-width="1" />
<line x1="291.73" y1="270.34" x2="295.52" y2="270.34" stroke="#9f8fda" stroke-width="1" />
<line x1="295.35" y1="267.41" x2="295.35" y2="271.17" stroke="#9f8fda" stroke-width="1" />
<line x1="293.45" y1="267.41" x2="297.25" y2="267.41" stroke="#9f8fda" stroke-width="1" />
<line x1="293.45" y1="271.17" x2="297.25" y2="271.17" stroke="#9f8fda" stroke-width="1" />
<line x1="297.07" y1="266.35" x2="297.07" y2="270.16" stroke="#9f8fda" stroke-width="1" />
<line x1="295.18" y1="266.35" x2="298.97" y2="266.35" stroke="#9f8fda" stroke-width="1" />
<line x1="295.18" y1="270.16" x2="298.97" y2="270.16" stroke="#9f8fda" stroke-width="1" />
<line x1="298.8" y1="266.48" x2="298.8" y2="269.09" stroke="#9f8fda" stroke-width="1" />
<line x1="296.9" y1="266.48" x2="300.7" y2="266.48" stroke="#9f8fda" stroke-width="1" />
<line x1="296.9" y1="269.09" x2="300.7" y2="269.09" stroke="#9f8fda" stroke-width="1" />
<line x1="300.53" y1="267.58" x2="300.53" y2="269.95" stroke="#9f8fda" stroke-width="1" />
<line x1="298.63" y1="267.58" x2="302.43" y2="267.58" stroke="#9f8fda" stroke-width="1" />
<line x1="298.63" y1="269.95" x2="302.43" y2="269.95" stroke="#9f8fda" stroke-width="1" />
<line x1="302.25" y1="268.02" x2="302.25" y2="270.22" stroke="#9f8fda" stroke-width="1" />
<line x1="300.35" y1="268.02" x2="304.15" y2="268.02" stroke="#9f8fda" stroke-width="1" />
<line x1="300.35" y1="270.22" x2="304.15" y2="270.22" stroke="#9f8fda" stroke-width="1" />
<line x1="324.5" y1="268.67" x2="324.5" y2="277.08" stroke="#9f8fda" stroke-width="1" />
<line x1="322.6" y1="268.67" x2="326.4" y2="268.67" stroke="#9f8fda" stroke-width="1" />
<line x1="322.6" y1="277.08" x2="326.4" y2="277.08" stroke="#9f8fda" stroke-width="1" />
<line x1="326.99" y1="267.46" x2="326.99" y2="272.94" stroke="#9f8fda" stroke-width="1" />
<line x1="325.09" y1="267.46" x2="328.89" y2="267.46" stroke="#9f8fda" stroke-width="1" />
<line x1="325.09" y1="272.94" x2="328.89" y2="272.94" stroke="#9f8fda" stroke-width="1" />
<line x1="329.49" y1="265.82" x2="329.49" y2="270.21" stroke="#9f8fda" stroke-width="1" />
<line x1="327.59" y1="265.82" x2="331.39" y2="265.82" stroke="#9f8fda" stroke-width="1" />
<line x1="327.59" y1="270.21" x2="331.39" y2="270.21" stroke="#9f8fda" stroke-width="1" />
<line x1="331.98" y1="263.16" x2="331.98" y2="268.05" stroke="#9f8fda" stroke-width="1" />
<line x1="330.08" y1="263.16" x2="333.88" y2="263.16" stroke="#9f8fda" stroke-width="1" />
<line x1="330.08" y1="268.05" x2="333.88" y2="268.05" stroke="#9f8fda" stroke-width="1" />
<line x1="334.48" y1="262.3" x2="334.48" y2="267.2" stroke="#9f8fda" stroke-width="1" />
<line x1="332.58" y1="262.3" x2="336.38" y2="262.3" stroke="#9f8fda" stroke-width="1" />
<line x1="332.58" y1="267.2" x2="336.38" y2="267.2" stroke="#9f8fda" stroke-width="1" />
<line x1="336.97" y1="261.34" x2="336.97" y2="264.54" stroke="#9f8fda" stroke-width="1" />
<line x1="335.07" y1="261.34" x2="338.87" y2="261.34" stroke="#9f8fda" stroke-width="1" />
<line x1="335.07" y1="264.54" x2="338.87" y2="264.54" stroke="#9f8fda" stroke-width="1" />
<line x1="339.46" y1="260.75" x2="339.46" y2="263.86" stroke="#9f8fda" stroke-width="1" />
<line x1="337.56" y1="260.75" x2="341.36" y2="260.75" stroke="#9f8fda" stroke-width="1" />
<line x1="337.56" y1="263.86" x2="341.36" y2="263.86" stroke="#9f8fda" stroke-width="1" />
<line x1="341.96" y1="260.32" x2="341.96" y2="265.58" stroke="#9f8fda" stroke-width="1" />
<line x1="340.06" y1="260.32" x2="343.86" y2="260.32" stroke="#9f8fda" stroke-width="1" />
<line x1="340.06" y1="265.58" x2="343.86" y2="265.58" stroke="#9f8fda" stroke-width="1" />
<line x1="344.45" y1="262.34" x2="344.45" y2="267.45" stroke="#9f8fda" stroke-width="1" />
<line x1="342.55" y1="262.34" x2="346.35" y2="262.34" stroke="#9f8fda" stroke-width="1" />
<line x1="342.55" y1="267.45" x2="346.35" y2="267.45" stroke="#9f8fda" stroke-width="1" />
<line x1="346.95" y1="261.78" x2="346.95" y2="266.34" stroke="#9f8fda" stroke-width="1" />
<line x1="345.05" y1="261.78" x2="348.85" y2="261.78" stroke="#9f8fda" stroke-width="1" />
<line x1="345.05" y1="266.34" x2="348.85" y2="266.34" stroke="#9f8fda" stroke-width="1" />
<line x1="349.44" y1="263.46" x2="349.44" y2="266.63" stroke="#9f8fda" stroke-width="1" />
<line x1="347.54" y1="263.46" x2="351.34" y2="263.46" stroke="#9f8fda" stroke-width="1" />
<line x1="347.54" y1="266.63" x2="351.34" y2="266.63" stroke="#9f8fda" stroke-width="1" />
<line x1="351.93" y1="261.89" x2="351.93" y2="267.44" stroke="#9f8fda" stroke-width="1" />
<line x1="350.03" y1="261.89" x2="353.83" y2="261.89" stroke="#9f8fda" stroke-width="1" />
<line x1="350.03" y1="267.44" x2="353.83" y2="267.44" stroke="#9f8fda" stroke-width="1" />
<line x1="354.43" y1="262.17" x2="354.43" y2="267.2" stroke="#9f8fda" stroke-width="1" />
<line x1="352.53" y1="262.17" x2="356.33" y2="262.17" stroke="#9f8fda" stroke-width="1" />
<line x1="352.53" y1="267.2" x2="356.33" y2="267.2" stroke="#9f8fda" stroke-width="1" />
<line x1="356.92" y1="260.1" x2="356.92" y2="265.61" stroke="#9f8fda" stroke-width="1" />
<line x1="355.02" y1="260.1" x2="358.82" y2="260.1" stroke="#9f8fda" stroke-width="1" />
<line x1="355.02" y1="265.61" x2="358.82" y2="265.61" stroke="#9f8fda" stroke-width="1" />
<line x1="359.42" y1="262.44" x2="359.42" y2="266.42" stroke="#9f8fda" stroke-width="1" />
<line x1="357.52" y1="262.44" x2="361.32" y2="262.44" stroke="#9f8fda" stroke-width="1" />
<line x1="357.52" y1="266.42" x2="361.32" y2="266.42" stroke="#9f8fda" stroke-width="1" />
<line x1="361.91" y1="261.49" x2="361.91" y2="266.56" stroke="#9f8fda" stroke-width="1" />
<line x1="360.01" y1="261.49" x2="363.81" y2="261.49" stroke="#9f8fda" stroke-width="1" />
<line x1="360.01" y1="266.56" x2="363.81" y2="266.56" stroke="#9f8fda" stroke-width="1" />
<line x1="364.4" y1="262.66" x2="364.4" y2="267.66" stroke="#9f8fda" stroke-width="1" />
<line x1="362.5" y1="262.66" x2="366.3" y2="262.66" stroke="#9f8fda" stroke-width="1" />
<line x1="362.5" y1="267.66" x2="366.3" y2="267.66" stroke="#9f8fda" stroke-width="1" />
<line x1="366.9" y1="260.8" x2="366.9" y2="266.1" stroke="#9f8fda" stroke-width="1" />
<line x1="365" y1="260.8" x2="368.8" y2="260.8" stroke="#9f8fda" stroke-width="1" />
<line x1="365" y1="266.1" x2="368.8" y2="266.1" stroke="#9f8fda" stroke-width="1" />
<line x1="369.39" y1="262.71" x2="369.39" y2="268.23" stroke="#9f8fda" stroke-width="1" />
<line x1="367.49" y1="262.71" x2="371.29" y2="262.71" stroke="#9f8fda" stroke-width="1" />
<line x1="367.49" y1="268.23" x2="371.29" y2="268.23" stroke="#9f8fda" stroke-width="1" />
<line x1="371.89" y1="263.42" x2="371.89" y2="267.36" stroke="#9f8fda" stroke-width="1" />
<line x1="369.99" y1="263.42" x2="373.79" y2="263.42" stroke="#9f8fda" stroke-width="1" />
<line x1="369.99" y1="267.36" x2="373.79" y2="267.36" stroke="#9f8fda" stroke-width="1" />
<line x1="374.38" y1="261.39" x2="374.38" y2="266.84" stroke="#9f8fda" stroke-width="1" />
<line x1="372.48" y1="261.39" x2="376.28" y2="261.39" stroke="#9f8fda" stroke-width="1" />
<line x1="372.48" y1="266.84" x2="376.28" y2="266.84" stroke="#9f8fda" stroke-width="1" />
<line x1="376.87" y1="262.14" x2="376.87" y2="267.6" stroke="#9f8fda" stroke-width="1" />
<line x1="374.97" y1="262.14" x2="378.77" y2="262.14" stroke="#9f8fda" stroke-width="1" />
<line x1="374.97" y1="267.6" x2="378.77" y2="267.6" stroke="#9f8fda" stroke-width="1" />
<line x1="379.37" y1="258.71" x2="379.37" y2="263.1" stroke="#9f8fda" stroke-width="1" />
<line x1="377.47" y1="258.71" x2="381.27" y2="258.71" stroke="#9f8fda" stroke-width="1" />
<line x1="377.47" y1="263.1" x2="381.27" y2="263.1" stroke="#9f8fda" stroke-width="1" />
<line x1="381.86" y1="259.56" x2="381.86" y2="263.55" stroke="#9f8fda" stroke-width="1" />
<line x1="379.96" y1="259.56" x2="383.76" y2="259.56" stroke="#9f8fda" stroke-width="1" />
<line x1="379.96" y1="263.55" x2="383.76" y2="263.55" stroke="#9f8fda" stroke-width="1" />
<line x1="384.36" y1="260.27" x2="384.36" y2="264.18" stroke="#9f8fda" stroke-width="1" />
<line x1="382.46" y1="260.27" x2="386.26" y2="260.27" stroke="#9f8fda" stroke-width="1" />
<line x1="382.46" y1="264.18" x2="386.26" y2="264.18" stroke="#9f8fda" stroke-width="1" />
<line x1="386.85" y1="258" x2="386.85" y2="264.43" stroke="#9f8fda" stroke-width="1" />
<line x1="384.95" y1="258" x2="388.75" y2="258" stroke="#9f8fda" stroke-width="1" />
<line x1="384.95" y1="264.43" x2="388.75" y2="264.43" stroke="#9f8fda" stroke-width="1" />
<line x1="389.34" y1="260.65" x2="389.34" y2="264.26" stroke="#9f8fda" stroke-width="1" />
<line x1="387.44" y1="260.65" x2="391.24" y2="260.65" stroke="#9f8fda" stroke-width="1" />
<line x1="387.44" y1="264.26" x2="391.24" y2="264.26" stroke="#9f8fda" stroke-width="1" />
<line x1="391.84" y1="258.5" x2="391.84" y2="263.55" stroke="#9f8fda" stroke-width="1" />
<line x1="389.94" y1="258.5" x2="393.74" y2="258.5" stroke="#9f8fda" stroke-width="1" />
<line x1="389.94" y1="263.55" x2="393.74" y2="263.55" stroke="#9f8fda" stroke-width="1" />
<line x1="394.33" y1="264.4" x2="394.33" y2="269.07" stroke="#9f8fda" stroke-width="1" />
<line x1="392.43" y1="264.4" x2="396.23" y2="264.4" stroke="#9f8fda" stroke-width="1" />
<line x1="392.43" y1="269.07" x2="396.23" y2="269.07" stroke="#9f8fda" stroke-width="1" />
<line x1="396.83" y1="262.81" x2="396.83" y2="269.43" stroke="#9f8fda" stroke-width="1" />
<line x1="394.93" y1="262.81" x2="398.73" y2="262.81" stroke="#9f8fda" stroke-width="1" />
<line x1="394.93" y1="269.43" x2="398.73" y2="269.43" stroke="#9f8fda" stroke-width="1" />
<line x1="399.32" y1="263.89" x2="399.32" y2="269.18" stroke="#9f8fda" stroke-width="1" />
<line x1="397.42" y1="263.89" x2="401.22" y2="263.89" stroke="#9f8fda" stroke-width="1" />
<line x1="397.42" y1="269.18" x2="401.22" y2="269.18" stroke="#9f8fda" stroke-width="1" />
<line x1="401.81" y1="264.32" x2="401.81" y2="271.24" stroke="#9f8fda" stroke-width="1" />
<line x1="399.91" y1="264.32" x2="403.71" y2="264.32" stroke="#9f8fda" stroke-width="1" />
<line x1="399.91" y1="271.24" x2="403.71" y2="271.24" stroke="#9f8fda" stroke-width="1" />
<line x1="404.31" y1="265.07" x2="404.31" y2="270.59" stroke="#9f8fda" stroke-width="1" />
<line x1="402.41" y1="265.07" x2="406.21" y2="265.07" stroke="#9f8fda" stroke-width="1" />
<line x1="402.41" y1="270.59" x2="406.21" y2="270.59" stroke="#9f8fda" stroke-width="1" />
<line x1="406.8" y1="263.1" x2="406.8" y2="267.41" stroke="#9f8fda" stroke-width="1" />
<line x1="404.9" y1="263.1" x2="408.7" y2="263.1" stroke="#9f8fda" stroke-width="1" />
<line x1="404.9" y1="267.41" x2="408.7" y2="267.41" stroke="#9f8fda" stroke-width="1" />
<line x1="409.3" y1="262.05" x2="409.3" y2="269.09" stroke="#9f8fda" stroke-width="1" />
<line x1="407.4" y1="262.05" x2="411.2" y2="262.05" stroke="#9f8fda" stroke-width="1" />
<line x1="407.4" y1="269.09" x2="411.2" y2="269.09" stroke="#9f8fda" stroke-width="1" />
<line x1="411.79" y1="262.62" x2="411.79" y2="269.12" stroke="#9f8fda" stroke-width="1" />
<line x1="409.89" y1="262.62" x2="413.69" y2="262.62" stroke="#9f8fda" stroke-width="1" />
<line x1="409.89" y1="269.12" x2="413.69" y2="269.12" stroke="#9f8fda" stroke-width="1" />
<line x1="414.28" y1="264.84" x2="414.28" y2="270.17" stroke="#9f8fda" stroke-width="1" />
<line x1="412.38" y1="264.84" x2="416.18" y2="264.84" stroke="#9f8fda" stroke-width="1" />
<line x1="412.38" y1="270.17" x2="416.18" y2="270.17" stroke="#9f8fda" stroke-width="1" />
<line x1="416.78" y1="264" x2="416.78" y2="270.69" stroke="#9f8fda" stroke-width="1" />
<line x1="414.88" y1="264" x2="418.68" y2="264" stroke="#9f8fda" stroke-width="1" />
<line x1="414.88" y1="270.69" x2="418.68" y2="270.69" stroke="#9f8fda" stroke-width="1" />
<line x1="419.27" y1="264.17" x2="419.27" y2="269.56" stroke="#9f8fda" stroke-width="1" />
<line x1="417.37" y1="264.17" x2="421.17" y2="264.17" stroke="#9f8fda" stroke-width="1" />
<line x1="417.37" y1="269.56" x2="421.17" y2="269.56" stroke="#9f8fda" stroke-width="1" />
<line x1="421.77" y1="261.25" x2="421.77" y2="267.97" stroke="#9f8fda" stroke-width="1" />
<line x1="419.87" y1="261.25" x2="423.67" y2="261.25" stroke="#9f8fda" stroke-width="1" />
<line x1="419.87" y1="267.97" x2="423.67" y2="267.97" stroke="#9f8fda" stroke-width="1" />
<line x1="424.26" y1="261.97" x2="424.26" y2="267.36" stroke="#9f8fda" stroke-width="1" />
<line x1="422.36" y1="261.97" x2="426.16" y2="261.97" stroke="#9f8fda" stroke-width="1" />
<line x1="422.36" y1="267.36" x2="426.16" y2="267.36" stroke="#9f8fda" stroke-width="1" />
<line x1="426.75" y1="263.03" x2="426.75" y2="269.34" stroke="#9f8fda" stroke-width="1" />
<line x1="424.85" y1="263.03" x2="428.65" y2="263.03" stroke="#9f8fda" stroke-width="1" />
<line x1="424.85" y1="269.34" x2="428.65" y2="269.34" stroke="#9f8fda" stroke-width="1" />
<line x1="429.25" y1="263.77" x2="429.25" y2="268.62" stroke="#9f8fda" stroke-width="1" />
<line x1="427.35" y1="263.77" x2="431.15" y2="263.77" stroke="#9f8fda" stroke-width="1" />
<line x1="427.35" y1="268.62" x2="431.15" y2="268.62" stroke="#9f8fda" stroke-width="1" />
<line x1="431.74" y1="264.22" x2="431.74" y2="268.59" stroke="#9f8fda" stroke-width="1" />
<line x1="429.84" y1="264.22" x2="433.64" y2="264.22" stroke="#9f8fda" stroke-width="1" />
<line x1="429.84" y1="268.59" x2="433.64" y2="268.59" stroke="#9f8fda" stroke-width="1" />
<line x1="434.24" y1="262.89" x2="434.24" y2="270.05" stroke="#9f8fda" stroke-width="1" />
<line x1="432.34" y1="262.89" x2="436.14" y2="262.89" stroke="#9f8fda" stroke-width="1" />
<line x1="432.34" y1="270.05" x2="436.14" y2="270.05" stroke="#9f8fda" stroke-width="1" />
<line x1="436.73" y1="261.62" x2="436.73" y2="267.58" stroke="#9f8fda" stroke-width="1" />
<line x1="434.83" y1="261.62" x2="438.63" y2="261.62" stroke="#9f8fda" stroke-width="1" />
<line x1="434.83" y1="267.58" x2="438.63" y2="267.58" stroke="#9f8fda" stroke-width="1" />
<line x1="439.22" y1="263.53" x2="439.22" y2="268.54" stroke="#9f8fda" stroke-width="1" />
<line x1="437.32" y1="263.53" x2="441.12" y2="263.53" stroke="#9f8fda" stroke-width="1" />
<line x1="437.32" y1="268.54" x2="441.12" y2="268.54" stroke="#9f8fda" stroke-width="1" />
<line x1="441.72" y1="264.92" x2="441.72" y2="269.71" stroke="#9f8fda" stroke-width="1" />
<line x1="439.82" y1="264.92" x2="443.62" y2="264.92" stroke="#9f8fda" stroke-width="1" />
<line x1="439.82" y1="269.71" x2="443.62" y2="269.71" stroke="#9f8fda" stroke-width="1" />
<line x1="444.21" y1="261.71" x2="444.21" y2="268.48" stroke="#9f8fda" stroke-width="1" />
<line x1="442.31" y1="261.71" x2="446.11" y2="261.71" stroke="#9f8fda" stroke-width="1" />
<line x1="442.31" y1="268.48" x2="446.11" y2="268.48" stroke="#9f8fda" stroke-width="1" />
<line x1="446.71" y1="263.16" x2="446.71" y2="269.65" stroke="#9f8fda" stroke-width="1" />
<line x1="444.81" y1="263.16" x2="448.61" y2="263.16" stroke="#9f8fda" stroke-width="1" />
<line x1="444.81" y1="269.65" x2="448.61" y2="269.65" stroke="#9f8fda" stroke-width="1" />
<line x1="449.2" y1="261.98" x2="449.2" y2="268.17" stroke="#9f8fda" stroke-width="1" />
<line x1="447.3" y1="261.98" x2="451.1" y2="261.98" stroke="#9f8fda" stroke-width="1" />
<line x1="447.3" y1="268.17" x2="451.1" y2="268.17" stroke="#9f8fda" stroke-width="1" />
<path d="M264.3,267.28 L267.18,272.28 L261.43,272.28Z" fill="#37216c"/>
<path d="M266.03,266.94 L268.9,271.94 L263.15,271.94Z" fill="#37216c"/>
<path d="M267.75,267.05 L270.62,272.05 L264.88,272.05Z" fill="#37216c"/>
<path d="M269.48,268.46 L272.35,273.46 L266.6,273.46Z" fill="#37216c"/>
<path d="M271.2,266.65 L274.07,271.65 L268.32,271.65Z" fill="#37216c"/>
<path d="M272.93,266.73 L275.8,271.73 L270.05,271.73Z" fill="#37216c"/>
<path d="M274.65,267.59 L277.53,272.59 L271.78,272.59Z" fill="#37216c"/>
<path d="M276.38,267.44 L279.25,272.44 L273.5,272.44Z" fill="#37216c"/>
<path d="M278.1,268.49 L280.98,273.49 L275.23,273.49Z" fill="#37216c"/>
<path d="M279.82,267.96 L282.7,272.96 L276.95,272.96Z" fill="#37216c"/>
<path d="M281.55,267 L284.43,272 L278.68,272Z" fill="#37216c"/>
<path d="M283.28,266.94 L286.15,271.94 L280.4,271.94Z" fill="#37216c"/>
<path d="M285,267.29 L287.88,272.29 L282.12,272.29Z" fill="#37216c"/>
<path d="M286.73,268.51 L289.6,273.51 L283.85,273.51Z" fill="#37216c"/>
<path d="M288.45,268.1 L291.32,273.1 L285.57,273.1Z" fill="#37216c"/>
<path d="M290.18,265.08 L293.05,270.08 L287.3,270.08Z" fill="#37216c"/>
<path d="M291.9,266.39 L294.78,271.39 L289.03,271.39Z" fill="#37216c"/>
<path d="M293.62,265.82 L296.5,270.82 L290.75,270.82Z" fill="#37216c"/>
<path d="M295.35,266.41 L298.23,271.41 L292.48,271.41Z" fill="#37216c"/>
<path d="M297.07,265.38 L299.95,270.38 L294.2,270.38Z" fill="#37216c"/>
<path d="M298.8,264.91 L301.68,269.91 L295.93,269.91Z" fill="#37216c"/>
<path d="M300.53,265.89 L303.4,270.89 L297.65,270.89Z" fill="#37216c"/>
<path d="M302.25,266.25 L305.12,271.25 L299.38,271.25Z" fill="#37216c"/>
<path d="M324.5,270 L327.38,275 L321.62,275Z" fill="#37216c"/>
<path d="M326.99,267.32 L329.87,272.32 L324.12,272.32Z" fill="#37216c"/>
<path d="M329.49,265.14 L332.36,270.14 L326.61,270.14Z" fill="#37216c"/>
<path d="M331.98,262.73 L334.86,267.73 L329.11,267.73Z" fill="#37216c"/>
<path d="M334.48,261.88 L337.35,266.88 L331.6,266.88Z" fill="#37216c"/>
<path d="M336.97,260.07 L339.85,265.07 L334.1,265.07Z" fill="#37216c"/>
<path d="M339.46,259.43 L342.34,264.43 L336.59,264.43Z" fill="#37216c"/>
<path d="M341.96,260.08 L344.83,265.08 L339.08,265.08Z" fill="#37216c"/>
<path d="M344.45,262.02 L347.33,267.02 L341.58,267.02Z" fill="#37216c"/>
<path d="M346.95,261.19 L349.82,266.19 L344.07,266.19Z" fill="#37216c"/>
<path d="M349.44,262.17 L352.31,267.17 L346.56,267.17Z" fill="#37216c"/>
<path d="M351.93,261.79 L354.81,266.79 L349.06,266.79Z" fill="#37216c"/>
<path d="M354.43,261.81 L357.3,266.81 L351.55,266.81Z" fill="#37216c"/>
<path d="M356.92,259.98 L359.8,264.98 L354.05,264.98Z" fill="#37216c"/>
<path d="M359.42,261.55 L362.29,266.55 L356.54,266.55Z" fill="#37216c"/>
<path d="M361.91,261.15 L364.78,266.15 L359.03,266.15Z" fill="#37216c"/>
<path d="M364.4,262.28 L367.28,267.28 L361.53,267.28Z" fill="#37216c"/>
<path d="M366.9,260.57 L369.77,265.57 L364.02,265.57Z" fill="#37216c"/>
<path d="M369.39,262.59 L372.27,267.59 L366.52,267.59Z" fill="#37216c"/>
<path d="M371.89,262.51 L374.76,267.51 L369.01,267.51Z" fill="#37216c"/>
<path d="M374.38,261.24 L377.25,266.24 L371.5,266.24Z" fill="#37216c"/>
<path d="M376.87,262 L379.75,267 L374,267Z" fill="#37216c"/>
<path d="M379.37,258.03 L382.24,263.03 L376.49,263.03Z" fill="#37216c"/>
<path d="M381.86,258.68 L384.74,263.68 L378.99,263.68Z" fill="#37216c"/>
<path d="M384.36,259.35 L387.23,264.35 L381.48,264.35Z" fill="#37216c"/>
<path d="M386.85,258.34 L389.73,263.34 L383.98,263.34Z" fill="#37216c"/>
<path d="M389.34,259.58 L392.22,264.58 L386.47,264.58Z" fill="#37216c"/>
<path d="M391.84,258.15 L394.71,263.15 L388.96,263.15Z" fill="#37216c"/>
<path d="M394.33,263.86 L397.21,268.86 L391.46,268.86Z" fill="#37216c"/>
<path d="M396.83,263.24 L399.7,268.24 L393.95,268.24Z" fill="#37216c"/>
<path d="M399.32,263.66 L402.19,268.66 L396.44,268.66Z" fill="#37216c"/>
<path d="M401.81,264.91 L404.69,269.91 L398.94,269.91Z" fill="#37216c"/>
<path d="M404.31,264.96 L407.18,269.96 L401.43,269.96Z" fill="#37216c"/>
<path d="M406.8,262.38 L409.68,267.38 L403.93,267.38Z" fill="#37216c"/>
<path d="M409.3,262.7 L412.17,267.7 L406.42,267.7Z" fill="#37216c"/>
<path d="M411.79,262.99 L414.66,267.99 L408.91,267.99Z" fill="#37216c"/>
<path d="M414.28,264.63 L417.16,269.63 L411.41,269.63Z" fill="#37216c"/>
<path d="M416.78,264.47 L419.65,269.47 L413.9,269.47Z" fill="#37216c"/>
<path d="M419.27,263.99 L422.15,268.99 L416.4,268.99Z" fill="#37216c"/>
<path d="M421.77,261.74 L424.64,266.74 L418.89,266.74Z" fill="#37216c"/>
<path d="M424.26,261.79 L427.13,266.79 L421.38,266.79Z" fill="#37216c"/>
<path d="M426.75,263.31 L429.63,268.31 L423.88,268.31Z" fill="#37216c"/>
<path d="M429.25,263.32 L432.12,268.32 L426.37,268.32Z" fill="#37216c"/>
<path d="M431.74,263.53 L434.62,268.53 L428.87,268.53Z" fill="#37216c"/>
<path d="M434.24,263.59 L437.11,268.59 L431.36,268.59Z" fill="#37216c"/>
<path d="M436.73,261.73 L439.61,266.73 L433.86,266.73Z" fill="#37216c"/>
<path d="M439.22,263.16 L442.1,268.16 L436.35,268.16Z" fill="#37216c"/>
<path d="M441.72,264.44 L444.59,269.44 L438.84,269.44Z" fill="#37216c"/>
<path d="M444.21,262.22 L447.09,267.22 L441.34,267.22Z" fill="#37216c"/>
<path d="M446.71,263.53 L449.58,268.53 L443.83,268.53Z" fill="#37216c"/>
<path d="M449.2,262.2 L452.07,267.2 L446.32,267.2Z" fill="#37216c"/>
<circle cx="285.7" cy="274.3" r="1.4" fill="#646464"/>
<circle cx="291.56" cy="274.3" r="1.4" fill="#646464"/>
<circle cx="297.43" cy="274.3" r="1.4" fill="#646464"/>
<circle cx="303.29" cy="274.3" r="1.4" fill="#646464"/>
<circle cx="309.16" cy="274.3" r="1.4" fill="#646464"/>
<circle cx="315.02" cy="274.3" r="1.4" fill="#646464"/>
<circle cx="320.89" cy="274.3" r="1.4" fill="#646464"/>
<circle cx="326.75" cy="274.3" r="1.4" fill="#646464"/>
<circle cx="332.61" cy="274.3" r="1.4" fill="#646464"/>
<circle cx="338.48" cy="274.3" r="1.4" fill="#646464"/>
<circle cx="344.34" cy="274.3" r="1.4" fill="#646464"/>
<circle cx="350.21" cy="274.3" r="1.4" fill="#646464"/>
<circle cx="356.07" cy="274.3" r="1.4" fill="#646464"/>
<circle cx="361.94" cy="274.3" r="1.4" fill="#646464"/>
<circle cx="367.8" cy="274.3" r="1.4" fill="#646464"/>
<circle cx="373.66" cy="274.3" r="1.4" fill="#646464"/>
<circle cx="379.53" cy="274.3" r="1.4" fill="#646464"/>
<circle cx="385.39" cy="274.3" r="1.4" fill="#646464"/>
<circle cx="391.26" cy="274.3" r="1.4" fill="#646464"/>
<circle cx="397.12" cy="274.3" r="1.4" fill="#646464"/>
<circle cx="402.99" cy="274.3" r="1.4" fill="#646464"/>
<circle cx="408.85" cy="274.3" r="1.4" fill="#646464"/>
<circle cx="414.71" cy="274.3" r="1.4" fill="#646464"/>
<circle cx="420.58" cy="274.3" r="1.4" fill="#646464"/>
<circle cx="426.44" cy="274.3" r="1.4" fill="#646464"/>
<circle cx="432.31" cy="274.3" r="1.4" fill="#646464"/>
<circle cx="438.17" cy="274.3" r="1.4" fill="#646464"/>
<circle cx="444.04" cy="274.3" r="1.4" fill="#646464"/>
<circle cx="449.9" cy="274.3" r="1.4" fill="#646464"/>
<path d="M272.2,224.43 L275.07,229.43 L269.32,229.43Z" fill="#37216c"/>
<text x="294.9" y="229.4" font-size="8.95" text-anchor="start" fill="#000" font-weight="normal" transform="translate(294.9 229.4) scale(1 1.07) translate(-294.9 -229.4)" >YM254890&#160; N=3 n=6</text>
<line x1="364.1" y1="207.8" x2="377.6" y2="207.8" stroke="#6d7fe0" stroke-width="1.5" />
<line x1="364.1" y1="215.1" x2="377.6" y2="215.1" stroke="#4a2d80" stroke-width="1.8" />
<text x="384.5" y="210.8" font-size="7.9" text-anchor="start" fill="#000" font-weight="normal" >Before</text>
<text x="384.5" y="218.1" font-size="7.9" text-anchor="start" fill="#000" font-weight="normal" >After</text>
<line x1="429" y1="208.2" x2="429" y2="213.65" stroke="#000" stroke-width="1.3" />
<line x1="428.35" y1="213" x2="439.1" y2="213" stroke="#000" stroke-width="1.3" />
<text x="425.8" y="221.5" font-size="7.9" text-anchor="start" fill="#000" font-weight="normal" >200ms</text>
<text x="422.2" y="213.9" font-size="7.8" text-anchor="middle" fill="#000" font-weight="normal" transform="rotate(-90 422.2 213.9)" >200μV</text>
<path d="M383.4,217.5 C383.4,218.43 383.03,222.03 383.4,223.1 C383.77,224.17 384.75,223.5 385.6,223.9 C386.45,224.3 387.48,223.5 388.5,225.5 C389.52,227.5 390.22,232.95 391.7,235.9 C393.18,238.85 395.78,242.27 397.4,243.2 C399.02,244.13 399.67,242.85 401.4,241.5 C403.13,240.15 405.13,237.1 407.8,235.1 C410.47,233.1 414.2,230.97 417.4,229.5 C420.6,228.03 423.52,227.15 427,226.3 C430.48,225.45 434.02,224.88 438.3,224.4 C442.58,223.92 450.3,223.57 452.7,223.4" fill="none" stroke="#1f2a8c" stroke-width="1.5" stroke-linejoin="round" stroke-linecap="round"/>
<text x="481.8" y="204.9" font-size="10.4" text-anchor="start" fill="#000" font-weight="bold" transform="translate(481.8 204.9) scale(1 1.07) translate(-481.8 -204.9)" >F</text>
<line x1="495.4" y1="218.6" x2="495.4" y2="344.2" stroke="#000" stroke-width="1.9" />
<line x1="487.1" y1="219.4" x2="495.4" y2="219.4" stroke="#000" stroke-width="1.6" />
<line x1="490.8" y1="240.05" x2="495.4" y2="240.05" stroke="#000" stroke-width="1.6" />
<line x1="490.8" y1="260.7" x2="495.4" y2="260.7" stroke="#000" stroke-width="1.6" />
<line x1="487.1" y1="281.35" x2="495.4" y2="281.35" stroke="#000" stroke-width="1.6" />
<line x1="490.8" y1="302" x2="495.4" y2="302" stroke="#000" stroke-width="1.6" />
<line x1="490.8" y1="322.65" x2="495.4" y2="322.65" stroke="#000" stroke-width="1.6" />
<line x1="487.1" y1="343.3" x2="495.4" y2="343.3" stroke="#000" stroke-width="1.6" />
<text x="483.3" y="219.4" font-size="8" text-anchor="middle" fill="#000" font-weight="normal" transform="rotate(-90 483.3 219.4) translate(483.3 219.4) scale(1 1.02) translate(-483.3 -219.4)" >150%</text>
<text x="483.3" y="281.6" font-size="8" text-anchor="middle" fill="#000" font-weight="normal" transform="rotate(-90 483.3 281.6) translate(483.3 281.6) scale(1 1.02) translate(-483.3 -281.6)" >100%</text>
<text x="483.3" y="343.3" font-size="8" text-anchor="middle" fill="#000" font-weight="normal" transform="rotate(-90 483.3 343.3) translate(483.3 343.3) scale(1 1.02) translate(-483.3 -343.3)" >50%</text>
<text x="468.5" y="285.6" font-size="8.9" text-anchor="middle" fill="#000" font-weight="normal" transform="rotate(-90 468.5 285.6) translate(468.5 285.6) scale(1 1.07) translate(-468.5 -285.6)" >fEPSP Amplitude</text>
<line x1="494.5" y1="343.3" x2="537.5" y2="343.3" stroke="#000" stroke-width="1.8" />
<line x1="554" y1="343.3" x2="680.9" y2="343.3" stroke="#000" stroke-width="1.8" />
<line x1="495.8" y1="343.3" x2="495.8" y2="351.5" stroke="#000" stroke-width="1.7" />
<line x1="512.3" y1="343.3" x2="512.3" y2="351.5" stroke="#000" stroke-width="1.7" />
<line x1="528.8" y1="343.3" x2="528.8" y2="351.5" stroke="#000" stroke-width="1.7" />
<line x1="579.36" y1="343.3" x2="579.36" y2="351.5" stroke="#000" stroke-width="1.7" />
<line x1="604.52" y1="343.3" x2="604.52" y2="351.5" stroke="#000" stroke-width="1.7" />
<line x1="629.68" y1="343.3" x2="629.68" y2="351.5" stroke="#000" stroke-width="1.7" />
<line x1="654.84" y1="343.3" x2="654.84" y2="351.5" stroke="#000" stroke-width="1.7" />
<line x1="680" y1="343.3" x2="680" y2="351.5" stroke="#000" stroke-width="1.7" />
<line x1="566.78" y1="343.3" x2="566.78" y2="347.7" stroke="#000" stroke-width="1.7" />
<line x1="591.94" y1="343.3" x2="591.94" y2="347.7" stroke="#000" stroke-width="1.7" />
<line x1="617.1" y1="343.3" x2="617.1" y2="347.7" stroke="#000" stroke-width="1.7" />
<line x1="642.26" y1="343.3" x2="642.26" y2="347.7" stroke="#000" stroke-width="1.7" />
<line x1="667.42" y1="343.3" x2="667.42" y2="347.7" stroke="#000" stroke-width="1.7" />
<text x="495.8" y="363" font-size="7.9" text-anchor="middle" fill="#000" font-weight="normal" transform="translate(495.8 363) scale(1 1.07) translate(-495.8 -363)" >0</text>
<text x="512.3" y="363" font-size="7.9" text-anchor="middle" fill="#000" font-weight="normal" transform="translate(512.3 363) scale(1 1.07) translate(-512.3 -363)" >10</text>
<text x="528.8" y="363" font-size="7.9" text-anchor="middle" fill="#000" font-weight="normal" transform="translate(528.8 363) scale(1 1.07) translate(-528.8 -363)" >20</text>
<text x="554.2" y="363" font-size="7.9" text-anchor="middle" fill="#000" font-weight="normal" transform="translate(554.2 363) scale(1 1.07) translate(-554.2 -363)" >30</text>
<text x="579.36" y="363" font-size="7.9" text-anchor="middle" fill="#000" font-weight="normal" transform="translate(579.36 363) scale(1 1.07) translate(-579.36 -363)" >40</text>
<text x="604.52" y="363" font-size="7.9" text-anchor="middle" fill="#000" font-weight="normal" transform="translate(604.52 363) scale(1 1.07) translate(-604.52 -363)" >50</text>
<text x="629.68" y="363" font-size="7.9" text-anchor="middle" fill="#000" font-weight="normal" transform="translate(629.68 363) scale(1 1.07) translate(-629.68 -363)" >60</text>
<text x="654.84" y="363" font-size="7.9" text-anchor="middle" fill="#000" font-weight="normal" transform="translate(654.84 363) scale(1 1.07) translate(-654.84 -363)" >70</text>
<text x="680" y="363" font-size="7.9" text-anchor="middle" fill="#000" font-weight="normal" transform="translate(680 363) scale(1 1.07) translate(-680 -363)" >80</text>
<line x1="531.7" y1="349.1" x2="543.5" y2="337.7" stroke="#000" stroke-width="1.8" />
<line x1="548.6" y1="349.1" x2="559.5" y2="338.1" stroke="#000" stroke-width="1.8" />
<text x="588.4" y="377.6" font-size="8.8" text-anchor="middle" fill="#000" font-weight="normal" transform="translate(588.4 377.6) scale(1 1.07) translate(-588.4 -377.6)" >Time/Min</text>
<path d="M571.6,283.8 L564.6,294.2 L569,294.5 L565.4,304.2 L575.3,292.3 L571.3,292Z" fill="#fae66a"/>
<path d="M560.5,300.8 L553.5,311.2 L557.9,311.5 L554.3,321.2 L564.2,309.3 L560.2,309Z" fill="#fae66a"/>
<text x="536.4" y="293.6" font-size="8.8" text-anchor="start" fill="#000" font-weight="normal" transform="translate(536.4 293.6) scale(1 1.07) translate(-536.4 -293.6)" >TBS</text>
<line x1="547.9" y1="305.8" x2="547.9" y2="333.9" stroke="#000" stroke-width="1.8" />
<path d="M543.6,331.7 L552.2,331.7 L547.9,338.9Z" fill="#000"/>
<line x1="495.8" y1="271.06" x2="495.8" y2="282.22" stroke="#1f40f2" stroke-width="1" />
<line x1="493.9" y1="271.06" x2="497.7" y2="271.06" stroke="#1f40f2" stroke-width="1" />
<line x1="493.9" y1="282.22" x2="497.7" y2="282.22" stroke="#1f40f2" stroke-width="1" />
<line x1="497.45" y1="273.54" x2="497.45" y2="284.7" stroke="#1f40f2" stroke-width="1" />
<line x1="495.55" y1="273.54" x2="499.35" y2="273.54" stroke="#1f40f2" stroke-width="1" />
<line x1="495.55" y1="284.7" x2="499.35" y2="284.7" stroke="#1f40f2" stroke-width="1" />
<line x1="499.1" y1="269.82" x2="499.1" y2="280.98" stroke="#1f40f2" stroke-width="1" />
<line x1="497.2" y1="269.82" x2="501" y2="269.82" stroke="#1f40f2" stroke-width="1" />
<line x1="497.2" y1="280.98" x2="501" y2="280.98" stroke="#1f40f2" stroke-width="1" />
<line x1="500.75" y1="272.3" x2="500.75" y2="283.46" stroke="#1f40f2" stroke-width="1" />
<line x1="498.85" y1="272.3" x2="502.65" y2="272.3" stroke="#1f40f2" stroke-width="1" />
<line x1="498.85" y1="283.46" x2="502.65" y2="283.46" stroke="#1f40f2" stroke-width="1" />
<line x1="502.4" y1="276.64" x2="502.4" y2="286.56" stroke="#1f40f2" stroke-width="1" />
<line x1="500.5" y1="276.64" x2="504.3" y2="276.64" stroke="#1f40f2" stroke-width="1" />
<line x1="500.5" y1="286.56" x2="504.3" y2="286.56" stroke="#1f40f2" stroke-width="1" />
<line x1="504.05" y1="279.12" x2="504.05" y2="289.04" stroke="#1f40f2" stroke-width="1" />
<line x1="502.15" y1="279.12" x2="505.95" y2="279.12" stroke="#1f40f2" stroke-width="1" />
<line x1="502.15" y1="289.04" x2="505.95" y2="289.04" stroke="#1f40f2" stroke-width="1" />
<line x1="505.7" y1="275.4" x2="505.7" y2="285.32" stroke="#1f40f2" stroke-width="1" />
<line x1="503.8" y1="275.4" x2="507.6" y2="275.4" stroke="#1f40f2" stroke-width="1" />
<line x1="503.8" y1="285.32" x2="507.6" y2="285.32" stroke="#1f40f2" stroke-width="1" />
<line x1="507.35" y1="279.12" x2="507.35" y2="289.04" stroke="#1f40f2" stroke-width="1" />
<line x1="505.45" y1="279.12" x2="509.25" y2="279.12" stroke="#1f40f2" stroke-width="1" />
<line x1="505.45" y1="289.04" x2="509.25" y2="289.04" stroke="#1f40f2" stroke-width="1" />
<line x1="509" y1="279.74" x2="509" y2="289.66" stroke="#1f40f2" stroke-width="1" />
<line x1="507.1" y1="279.74" x2="510.9" y2="279.74" stroke="#1f40f2" stroke-width="1" />
<line x1="507.1" y1="289.66" x2="510.9" y2="289.66" stroke="#1f40f2" stroke-width="1" />
<line x1="510.65" y1="280.98" x2="510.65" y2="290.9" stroke="#1f40f2" stroke-width="1" />
<line x1="508.75" y1="280.98" x2="512.55" y2="280.98" stroke="#1f40f2" stroke-width="1" />
<line x1="508.75" y1="290.9" x2="512.55" y2="290.9" stroke="#1f40f2" stroke-width="1" />
<line x1="512.3" y1="279.12" x2="512.3" y2="289.04" stroke="#1f40f2" stroke-width="1" />
<line x1="510.4" y1="279.12" x2="514.2" y2="279.12" stroke="#1f40f2" stroke-width="1" />
<line x1="510.4" y1="289.04" x2="514.2" y2="289.04" stroke="#1f40f2" stroke-width="1" />
<line x1="513.95" y1="280.36" x2="513.95" y2="290.28" stroke="#1f40f2" stroke-width="1" />
<line x1="512.05" y1="280.36" x2="515.85" y2="280.36" stroke="#1f40f2" stroke-width="1" />
<line x1="512.05" y1="290.28" x2="515.85" y2="290.28" stroke="#1f40f2" stroke-width="1" />
<line x1="515.6" y1="281.6" x2="515.6" y2="291.52" stroke="#1f40f2" stroke-width="1" />
<line x1="513.7" y1="281.6" x2="517.5" y2="281.6" stroke="#1f40f2" stroke-width="1" />
<line x1="513.7" y1="291.52" x2="517.5" y2="291.52" stroke="#1f40f2" stroke-width="1" />
<line x1="517.25" y1="279.74" x2="517.25" y2="289.66" stroke="#1f40f2" stroke-width="1" />
<line x1="515.35" y1="279.74" x2="519.15" y2="279.74" stroke="#1f40f2" stroke-width="1" />
<line x1="515.35" y1="289.66" x2="519.15" y2="289.66" stroke="#1f40f2" stroke-width="1" />
<line x1="518.9" y1="280.98" x2="518.9" y2="290.9" stroke="#1f40f2" stroke-width="1" />
<line x1="517" y1="280.98" x2="520.8" y2="280.98" stroke="#1f40f2" stroke-width="1" />
<line x1="517" y1="290.9" x2="520.8" y2="290.9" stroke="#1f40f2" stroke-width="1" />
<line x1="520.55" y1="279.74" x2="520.55" y2="289.66" stroke="#1f40f2" stroke-width="1" />
<line x1="518.65" y1="279.74" x2="522.45" y2="279.74" stroke="#1f40f2" stroke-width="1" />
<line x1="518.65" y1="289.66" x2="522.45" y2="289.66" stroke="#1f40f2" stroke-width="1" />
<line x1="522.2" y1="280.98" x2="522.2" y2="290.9" stroke="#1f40f2" stroke-width="1" />
<line x1="520.3" y1="280.98" x2="524.1" y2="280.98" stroke="#1f40f2" stroke-width="1" />
<line x1="520.3" y1="290.9" x2="524.1" y2="290.9" stroke="#1f40f2" stroke-width="1" />
<line x1="523.85" y1="281.6" x2="523.85" y2="291.52" stroke="#1f40f2" stroke-width="1" />
<line x1="521.95" y1="281.6" x2="525.75" y2="281.6" stroke="#1f40f2" stroke-width="1" />
<line x1="521.95" y1="291.52" x2="525.75" y2="291.52" stroke="#1f40f2" stroke-width="1" />
<line x1="525.5" y1="279.74" x2="525.5" y2="289.66" stroke="#1f40f2" stroke-width="1" />
<line x1="523.6" y1="279.74" x2="527.4" y2="279.74" stroke="#1f40f2" stroke-width="1" />
<line x1="523.6" y1="289.66" x2="527.4" y2="289.66" stroke="#1f40f2" stroke-width="1" />
<line x1="527.15" y1="280.98" x2="527.15" y2="290.9" stroke="#1f40f2" stroke-width="1" />
<line x1="525.25" y1="280.98" x2="529.05" y2="280.98" stroke="#1f40f2" stroke-width="1" />
<line x1="525.25" y1="290.9" x2="529.05" y2="290.9" stroke="#1f40f2" stroke-width="1" />
<line x1="528.8" y1="279.74" x2="528.8" y2="289.66" stroke="#1f40f2" stroke-width="1" />
<line x1="526.9" y1="279.74" x2="530.7" y2="279.74" stroke="#1f40f2" stroke-width="1" />
<line x1="526.9" y1="289.66" x2="530.7" y2="289.66" stroke="#1f40f2" stroke-width="1" />
<line x1="554.2" y1="251.22" x2="554.2" y2="268.58" stroke="#1f40f2" stroke-width="1" />
<line x1="552.3" y1="251.22" x2="556.1" y2="251.22" stroke="#1f40f2" stroke-width="1" />
<line x1="552.3" y1="268.58" x2="556.1" y2="268.58" stroke="#1f40f2" stroke-width="1" />
<line x1="556.72" y1="249.36" x2="556.72" y2="266.72" stroke="#1f40f2" stroke-width="1" />
<line x1="554.82" y1="249.36" x2="558.62" y2="249.36" stroke="#1f40f2" stroke-width="1" />
<line x1="554.82" y1="266.72" x2="558.62" y2="266.72" stroke="#1f40f2" stroke-width="1" />
<line x1="559.23" y1="246.88" x2="559.23" y2="264.24" stroke="#1f40f2" stroke-width="1" />
<line x1="557.33" y1="246.88" x2="561.13" y2="246.88" stroke="#1f40f2" stroke-width="1" />
<line x1="557.33" y1="264.24" x2="561.13" y2="264.24" stroke="#1f40f2" stroke-width="1" />
<line x1="561.75" y1="250.6" x2="561.75" y2="267.96" stroke="#1f40f2" stroke-width="1" />
<line x1="559.85" y1="250.6" x2="563.65" y2="250.6" stroke="#1f40f2" stroke-width="1" />
<line x1="559.85" y1="267.96" x2="563.65" y2="267.96" stroke="#1f40f2" stroke-width="1" />
<line x1="564.26" y1="244.4" x2="564.26" y2="261.76" stroke="#1f40f2" stroke-width="1" />
<line x1="562.36" y1="244.4" x2="566.16" y2="244.4" stroke="#1f40f2" stroke-width="1" />
<line x1="562.36" y1="261.76" x2="566.16" y2="261.76" stroke="#1f40f2" stroke-width="1" />
<line x1="566.78" y1="243.16" x2="566.78" y2="260.52" stroke="#1f40f2" stroke-width="1" />
<line x1="564.88" y1="243.16" x2="568.68" y2="243.16" stroke="#1f40f2" stroke-width="1" />
<line x1="564.88" y1="260.52" x2="568.68" y2="260.52" stroke="#1f40f2" stroke-width="1" />
<line x1="569.3" y1="245.64" x2="569.3" y2="263" stroke="#1f40f2" stroke-width="1" />
<line x1="567.4" y1="245.64" x2="571.2" y2="245.64" stroke="#1f40f2" stroke-width="1" />
<line x1="567.4" y1="263" x2="571.2" y2="263" stroke="#1f40f2" stroke-width="1" />
<line x1="571.81" y1="241.92" x2="571.81" y2="259.28" stroke="#1f40f2" stroke-width="1" />
<line x1="569.91" y1="241.92" x2="573.71" y2="241.92" stroke="#1f40f2" stroke-width="1" />
<line x1="569.91" y1="259.28" x2="573.71" y2="259.28" stroke="#1f40f2" stroke-width="1" />
<line x1="574.33" y1="246.88" x2="574.33" y2="264.24" stroke="#1f40f2" stroke-width="1" />
<line x1="572.43" y1="246.88" x2="576.23" y2="246.88" stroke="#1f40f2" stroke-width="1" />
<line x1="572.43" y1="264.24" x2="576.23" y2="264.24" stroke="#1f40f2" stroke-width="1" />
<line x1="576.84" y1="248.12" x2="576.84" y2="265.48" stroke="#1f40f2" stroke-width="1" />
<line x1="574.94" y1="248.12" x2="578.74" y2="248.12" stroke="#1f40f2" stroke-width="1" />
<line x1="574.94" y1="265.48" x2="578.74" y2="265.48" stroke="#1f40f2" stroke-width="1" />
<line x1="579.36" y1="244.4" x2="579.36" y2="261.76" stroke="#1f40f2" stroke-width="1" />
<line x1="577.46" y1="244.4" x2="581.26" y2="244.4" stroke="#1f40f2" stroke-width="1" />
<line x1="577.46" y1="261.76" x2="581.26" y2="261.76" stroke="#1f40f2" stroke-width="1" />
<line x1="581.88" y1="245.64" x2="581.88" y2="263" stroke="#1f40f2" stroke-width="1" />
<line x1="579.98" y1="245.64" x2="583.78" y2="245.64" stroke="#1f40f2" stroke-width="1" />
<line x1="579.98" y1="263" x2="583.78" y2="263" stroke="#1f40f2" stroke-width="1" />
<line x1="584.39" y1="242.54" x2="584.39" y2="256.18" stroke="#1f40f2" stroke-width="1" />
<line x1="582.49" y1="242.54" x2="586.29" y2="242.54" stroke="#1f40f2" stroke-width="1" />
<line x1="582.49" y1="256.18" x2="586.29" y2="256.18" stroke="#1f40f2" stroke-width="1" />
<line x1="586.91" y1="238.82" x2="586.91" y2="252.46" stroke="#1f40f2" stroke-width="1" />
<line x1="585.01" y1="238.82" x2="588.81" y2="238.82" stroke="#1f40f2" stroke-width="1" />
<line x1="585.01" y1="252.46" x2="588.81" y2="252.46" stroke="#1f40f2" stroke-width="1" />
<line x1="589.42" y1="237.58" x2="589.42" y2="251.22" stroke="#1f40f2" stroke-width="1" />
<line x1="587.52" y1="237.58" x2="591.32" y2="237.58" stroke="#1f40f2" stroke-width="1" />
<line x1="587.52" y1="251.22" x2="591.32" y2="251.22" stroke="#1f40f2" stroke-width="1" />
<line x1="591.94" y1="240.06" x2="591.94" y2="253.7" stroke="#1f40f2" stroke-width="1" />
<line x1="590.04" y1="240.06" x2="593.84" y2="240.06" stroke="#1f40f2" stroke-width="1" />
<line x1="590.04" y1="253.7" x2="593.84" y2="253.7" stroke="#1f40f2" stroke-width="1" />
<line x1="594.46" y1="236.34" x2="594.46" y2="249.98" stroke="#1f40f2" stroke-width="1" />
<line x1="592.56" y1="236.34" x2="596.36" y2="236.34" stroke="#1f40f2" stroke-width="1" />
<line x1="592.56" y1="249.98" x2="596.36" y2="249.98" stroke="#1f40f2" stroke-width="1" />
<line x1="596.97" y1="237.58" x2="596.97" y2="251.22" stroke="#1f40f2" stroke-width="1" />
<line x1="595.07" y1="237.58" x2="598.87" y2="237.58" stroke="#1f40f2" stroke-width="1" />
<line x1="595.07" y1="251.22" x2="598.87" y2="251.22" stroke="#1f40f2" stroke-width="1" />
<line x1="599.49" y1="236.34" x2="599.49" y2="249.98" stroke="#1f40f2" stroke-width="1" />
<line x1="597.59" y1="236.34" x2="601.39" y2="236.34" stroke="#1f40f2" stroke-width="1" />
<line x1="597.59" y1="249.98" x2="601.39" y2="249.98" stroke="#1f40f2" stroke-width="1" />
<line x1="602" y1="235.1" x2="602" y2="248.74" stroke="#1f40f2" stroke-width="1" />
<line x1="600.1" y1="235.1" x2="603.9" y2="235.1" stroke="#1f40f2" stroke-width="1" />
<line x1="600.1" y1="248.74" x2="603.9" y2="248.74" stroke="#1f40f2" stroke-width="1" />
<line x1="604.52" y1="237.58" x2="604.52" y2="251.22" stroke="#1f40f2" stroke-width="1" />
<line x1="602.62" y1="237.58" x2="606.42" y2="237.58" stroke="#1f40f2" stroke-width="1" />
<line x1="602.62" y1="251.22" x2="606.42" y2="251.22" stroke="#1f40f2" stroke-width="1" />
<line x1="607.04" y1="233.86" x2="607.04" y2="247.5" stroke="#1f40f2" stroke-width="1" />
<line x1="605.14" y1="233.86" x2="608.94" y2="233.86" stroke="#1f40f2" stroke-width="1" />
<line x1="605.14" y1="247.5" x2="608.94" y2="247.5" stroke="#1f40f2" stroke-width="1" />
<line x1="609.55" y1="236.34" x2="609.55" y2="249.98" stroke="#1f40f2" stroke-width="1" />
<line x1="607.65" y1="236.34" x2="611.45" y2="236.34" stroke="#1f40f2" stroke-width="1" />
<line x1="607.65" y1="249.98" x2="611.45" y2="249.98" stroke="#1f40f2" stroke-width="1" />
<line x1="612.07" y1="235.1" x2="612.07" y2="248.74" stroke="#1f40f2" stroke-width="1" />
<line x1="610.17" y1="235.1" x2="613.97" y2="235.1" stroke="#1f40f2" stroke-width="1" />
<line x1="610.17" y1="248.74" x2="613.97" y2="248.74" stroke="#1f40f2" stroke-width="1" />
<line x1="614.58" y1="233.86" x2="614.58" y2="247.5" stroke="#1f40f2" stroke-width="1" />
<line x1="612.68" y1="233.86" x2="616.48" y2="233.86" stroke="#1f40f2" stroke-width="1" />
<line x1="612.68" y1="247.5" x2="616.48" y2="247.5" stroke="#1f40f2" stroke-width="1" />
<line x1="617.1" y1="241.3" x2="617.1" y2="254.94" stroke="#1f40f2" stroke-width="1" />
<line x1="615.2" y1="241.3" x2="619" y2="241.3" stroke="#1f40f2" stroke-width="1" />
<line x1="615.2" y1="254.94" x2="619" y2="254.94" stroke="#1f40f2" stroke-width="1" />
<line x1="619.62" y1="238.82" x2="619.62" y2="252.46" stroke="#1f40f2" stroke-width="1" />
<line x1="617.72" y1="238.82" x2="621.52" y2="238.82" stroke="#1f40f2" stroke-width="1" />
<line x1="617.72" y1="252.46" x2="621.52" y2="252.46" stroke="#1f40f2" stroke-width="1" />
<line x1="622.13" y1="242.54" x2="622.13" y2="256.18" stroke="#1f40f2" stroke-width="1" />
<line x1="620.23" y1="242.54" x2="624.03" y2="242.54" stroke="#1f40f2" stroke-width="1" />
<line x1="620.23" y1="256.18" x2="624.03" y2="256.18" stroke="#1f40f2" stroke-width="1" />
<line x1="624.65" y1="240.06" x2="624.65" y2="253.7" stroke="#1f40f2" stroke-width="1" />
<line x1="622.75" y1="240.06" x2="626.55" y2="240.06" stroke="#1f40f2" stroke-width="1" />
<line x1="622.75" y1="253.7" x2="626.55" y2="253.7" stroke="#1f40f2" stroke-width="1" />
<line x1="627.16" y1="243.78" x2="627.16" y2="257.42" stroke="#1f40f2" stroke-width="1" />
<line x1="625.26" y1="243.78" x2="629.06" y2="243.78" stroke="#1f40f2" stroke-width="1" />
<line x1="625.26" y1="257.42" x2="629.06" y2="257.42" stroke="#1f40f2" stroke-width="1" />
<line x1="629.68" y1="242.54" x2="629.68" y2="256.18" stroke="#1f40f2" stroke-width="1" />
<line x1="627.78" y1="242.54" x2="631.58" y2="242.54" stroke="#1f40f2" stroke-width="1" />
<line x1="627.78" y1="256.18" x2="631.58" y2="256.18" stroke="#1f40f2" stroke-width="1" />
<line x1="632.2" y1="245.02" x2="632.2" y2="258.66" stroke="#1f40f2" stroke-width="1" />
<line x1="630.3" y1="245.02" x2="634.1" y2="245.02" stroke="#1f40f2" stroke-width="1" />
<line x1="630.3" y1="258.66" x2="634.1" y2="258.66" stroke="#1f40f2" stroke-width="1" />
<line x1="634.71" y1="246.26" x2="634.71" y2="259.9" stroke="#1f40f2" stroke-width="1" />
<line x1="632.81" y1="246.26" x2="636.61" y2="246.26" stroke="#1f40f2" stroke-width="1" />
<line x1="632.81" y1="259.9" x2="636.61" y2="259.9" stroke="#1f40f2" stroke-width="1" />
<line x1="637.23" y1="243.78" x2="637.23" y2="257.42" stroke="#1f40f2" stroke-width="1" />
<line x1="635.33" y1="243.78" x2="639.13" y2="243.78" stroke="#1f40f2" stroke-width="1" />
<line x1="635.33" y1="257.42" x2="639.13" y2="257.42" stroke="#1f40f2" stroke-width="1" />
<line x1="639.74" y1="242.54" x2="639.74" y2="256.18" stroke="#1f40f2" stroke-width="1" />
<line x1="637.84" y1="242.54" x2="641.64" y2="242.54" stroke="#1f40f2" stroke-width="1" />
<line x1="637.84" y1="256.18" x2="641.64" y2="256.18" stroke="#1f40f2" stroke-width="1" />
<line x1="642.26" y1="243.78" x2="642.26" y2="257.42" stroke="#1f40f2" stroke-width="1" />
<line x1="640.36" y1="243.78" x2="644.16" y2="243.78" stroke="#1f40f2" stroke-width="1" />
<line x1="640.36" y1="257.42" x2="644.16" y2="257.42" stroke="#1f40f2" stroke-width="1" />
<line x1="644.78" y1="241.3" x2="644.78" y2="254.94" stroke="#1f40f2" stroke-width="1" />
<line x1="642.88" y1="241.3" x2="646.68" y2="241.3" stroke="#1f40f2" stroke-width="1" />
<line x1="642.88" y1="254.94" x2="646.68" y2="254.94" stroke="#1f40f2" stroke-width="1" />
<line x1="647.29" y1="242.54" x2="647.29" y2="256.18" stroke="#1f40f2" stroke-width="1" />
<line x1="645.39" y1="242.54" x2="649.19" y2="242.54" stroke="#1f40f2" stroke-width="1" />
<line x1="645.39" y1="256.18" x2="649.19" y2="256.18" stroke="#1f40f2" stroke-width="1" />
<line x1="649.81" y1="240.06" x2="649.81" y2="253.7" stroke="#1f40f2" stroke-width="1" />
<line x1="647.91" y1="240.06" x2="651.71" y2="240.06" stroke="#1f40f2" stroke-width="1" />
<line x1="647.91" y1="253.7" x2="651.71" y2="253.7" stroke="#1f40f2" stroke-width="1" />
<line x1="652.32" y1="240.06" x2="652.32" y2="253.7" stroke="#1f40f2" stroke-width="1" />
<line x1="650.42" y1="240.06" x2="654.22" y2="240.06" stroke="#1f40f2" stroke-width="1" />
<line x1="650.42" y1="253.7" x2="654.22" y2="253.7" stroke="#1f40f2" stroke-width="1" />
<line x1="654.84" y1="241.3" x2="654.84" y2="254.94" stroke="#1f40f2" stroke-width="1" />
<line x1="652.94" y1="241.3" x2="656.74" y2="241.3" stroke="#1f40f2" stroke-width="1" />
<line x1="652.94" y1="254.94" x2="656.74" y2="254.94" stroke="#1f40f2" stroke-width="1" />
<line x1="657.36" y1="238.82" x2="657.36" y2="252.46" stroke="#1f40f2" stroke-width="1" />
<line x1="655.46" y1="238.82" x2="659.26" y2="238.82" stroke="#1f40f2" stroke-width="1" />
<line x1="655.46" y1="252.46" x2="659.26" y2="252.46" stroke="#1f40f2" stroke-width="1" />
<line x1="659.87" y1="241.3" x2="659.87" y2="254.94" stroke="#1f40f2" stroke-width="1" />
<line x1="657.97" y1="241.3" x2="661.77" y2="241.3" stroke="#1f40f2" stroke-width="1" />
<line x1="657.97" y1="254.94" x2="661.77" y2="254.94" stroke="#1f40f2" stroke-width="1" />
<line x1="662.39" y1="242.54" x2="662.39" y2="256.18" stroke="#1f40f2" stroke-width="1" />
<line x1="660.49" y1="242.54" x2="664.29" y2="242.54" stroke="#1f40f2" stroke-width="1" />
<line x1="660.49" y1="256.18" x2="664.29" y2="256.18" stroke="#1f40f2" stroke-width="1" />
<line x1="664.9" y1="246.26" x2="664.9" y2="259.9" stroke="#1f40f2" stroke-width="1" />
<line x1="663" y1="246.26" x2="666.8" y2="246.26" stroke="#1f40f2" stroke-width="1" />
<line x1="663" y1="259.9" x2="666.8" y2="259.9" stroke="#1f40f2" stroke-width="1" />
<line x1="667.42" y1="247.5" x2="667.42" y2="261.14" stroke="#1f40f2" stroke-width="1" />
<line x1="665.52" y1="247.5" x2="669.32" y2="247.5" stroke="#1f40f2" stroke-width="1" />
<line x1="665.52" y1="261.14" x2="669.32" y2="261.14" stroke="#1f40f2" stroke-width="1" />
<line x1="669.94" y1="236.34" x2="669.94" y2="249.98" stroke="#1f40f2" stroke-width="1" />
<line x1="668.04" y1="236.34" x2="671.84" y2="236.34" stroke="#1f40f2" stroke-width="1" />
<line x1="668.04" y1="249.98" x2="671.84" y2="249.98" stroke="#1f40f2" stroke-width="1" />
<line x1="672.45" y1="233.86" x2="672.45" y2="247.5" stroke="#1f40f2" stroke-width="1" />
<line x1="670.55" y1="233.86" x2="674.35" y2="233.86" stroke="#1f40f2" stroke-width="1" />
<line x1="670.55" y1="247.5" x2="674.35" y2="247.5" stroke="#1f40f2" stroke-width="1" />
<line x1="674.97" y1="237.58" x2="674.97" y2="251.22" stroke="#1f40f2" stroke-width="1" />
<line x1="673.07" y1="237.58" x2="676.87" y2="237.58" stroke="#1f40f2" stroke-width="1" />
<line x1="673.07" y1="251.22" x2="676.87" y2="251.22" stroke="#1f40f2" stroke-width="1" />
<line x1="677.48" y1="236.34" x2="677.48" y2="249.98" stroke="#1f40f2" stroke-width="1" />
<line x1="675.58" y1="236.34" x2="679.38" y2="236.34" stroke="#1f40f2" stroke-width="1" />
<line x1="675.58" y1="249.98" x2="679.38" y2="249.98" stroke="#1f40f2" stroke-width="1" />
<line x1="680" y1="237.58" x2="680" y2="251.22" stroke="#1f40f2" stroke-width="1" />
<line x1="678.1" y1="237.58" x2="681.9" y2="237.58" stroke="#1f40f2" stroke-width="1" />
<line x1="678.1" y1="251.22" x2="681.9" y2="251.22" stroke="#1f40f2" stroke-width="1" />
<path d="M495.8,273.82 L498.62,278.72 L492.98,278.72Z" fill="#1f40f2"/>
<path d="M497.45,276.3 L500.27,281.2 L494.63,281.2Z" fill="#1f40f2"/>
<path d="M499.1,272.58 L501.92,277.48 L496.28,277.48Z" fill="#1f40f2"/>
<path d="M500.75,275.06 L503.57,279.96 L497.93,279.96Z" fill="#1f40f2"/>
<path d="M502.4,278.78 L505.22,283.68 L499.58,283.68Z" fill="#1f40f2"/>
<path d="M504.05,281.26 L506.87,286.16 L501.23,286.16Z" fill="#1f40f2"/>
<path d="M505.7,277.54 L508.52,282.44 L502.88,282.44Z" fill="#1f40f2"/>
<path d="M507.35,281.26 L510.17,286.16 L504.53,286.16Z" fill="#1f40f2"/>
<path d="M509,281.88 L511.82,286.78 L506.18,286.78Z" fill="#1f40f2"/>
<path d="M510.65,283.12 L513.47,288.02 L507.83,288.02Z" fill="#1f40f2"/>
<path d="M512.3,281.26 L515.12,286.16 L509.48,286.16Z" fill="#1f40f2"/>
<path d="M513.95,282.5 L516.77,287.4 L511.13,287.4Z" fill="#1f40f2"/>
<path d="M515.6,283.74 L518.42,288.64 L512.78,288.64Z" fill="#1f40f2"/>
<path d="M517.25,281.88 L520.07,286.78 L514.43,286.78Z" fill="#1f40f2"/>
<path d="M518.9,283.12 L521.72,288.02 L516.08,288.02Z" fill="#1f40f2"/>
<path d="M520.55,281.88 L523.37,286.78 L517.73,286.78Z" fill="#1f40f2"/>
<path d="M522.2,283.12 L525.02,288.02 L519.38,288.02Z" fill="#1f40f2"/>
<path d="M523.85,283.74 L526.67,288.64 L521.03,288.64Z" fill="#1f40f2"/>
<path d="M525.5,281.88 L528.32,286.78 L522.68,286.78Z" fill="#1f40f2"/>
<path d="M527.15,283.12 L529.97,288.02 L524.33,288.02Z" fill="#1f40f2"/>
<path d="M528.8,281.88 L531.62,286.78 L525.98,286.78Z" fill="#1f40f2"/>
<path d="M554.2,257.08 L557.02,261.98 L551.38,261.98Z" fill="#1f40f2"/>
<path d="M556.72,255.22 L559.53,260.12 L553.9,260.12Z" fill="#1f40f2"/>
<path d="M559.23,252.74 L562.05,257.64 L556.41,257.64Z" fill="#1f40f2"/>
<path d="M561.75,256.46 L564.57,261.36 L558.93,261.36Z" fill="#1f40f2"/>
<path d="M564.26,250.26 L567.08,255.16 L561.45,255.16Z" fill="#1f40f2"/>
<path d="M566.78,249.02 L569.6,253.92 L563.96,253.92Z" fill="#1f40f2"/>
<path d="M569.3,251.5 L572.11,256.4 L566.48,256.4Z" fill="#1f40f2"/>
<path d="M571.81,247.78 L574.63,252.68 L568.99,252.68Z" fill="#1f40f2"/>
<path d="M574.33,252.74 L577.15,257.64 L571.51,257.64Z" fill="#1f40f2"/>
<path d="M576.84,253.98 L579.66,258.88 L574.03,258.88Z" fill="#1f40f2"/>
<path d="M579.36,250.26 L582.18,255.16 L576.54,255.16Z" fill="#1f40f2"/>
<path d="M581.88,251.5 L584.69,256.4 L579.06,256.4Z" fill="#1f40f2"/>
<path d="M584.39,246.54 L587.21,251.44 L581.57,251.44Z" fill="#1f40f2"/>
<path d="M586.91,242.82 L589.73,247.72 L584.09,247.72Z" fill="#1f40f2"/>
<path d="M589.42,241.58 L592.24,246.48 L586.61,246.48Z" fill="#1f40f2"/>
<path d="M591.94,244.06 L594.76,248.96 L589.12,248.96Z" fill="#1f40f2"/>
<path d="M594.46,240.34 L597.27,245.24 L591.64,245.24Z" fill="#1f40f2"/>
<path d="M596.97,241.58 L599.79,246.48 L594.15,246.48Z" fill="#1f40f2"/>
<path d="M599.49,240.34 L602.31,245.24 L596.67,245.24Z" fill="#1f40f2"/>
<path d="M602,239.1 L604.82,244 L599.19,244Z" fill="#1f40f2"/>
<path d="M604.52,241.58 L607.34,246.48 L601.7,246.48Z" fill="#1f40f2"/>
<path d="M607.04,237.86 L609.85,242.76 L604.22,242.76Z" fill="#1f40f2"/>
<path d="M609.55,240.34 L612.37,245.24 L606.73,245.24Z" fill="#1f40f2"/>
<path d="M612.07,239.1 L614.89,244 L609.25,244Z" fill="#1f40f2"/>
<path d="M614.58,237.86 L617.4,242.76 L611.77,242.76Z" fill="#1f40f2"/>
<path d="M617.1,245.3 L619.92,250.2 L614.28,250.2Z" fill="#1f40f2"/>
<path d="M619.62,242.82 L622.43,247.72 L616.8,247.72Z" fill="#1f40f2"/>
<path d="M622.13,246.54 L624.95,251.44 L619.31,251.44Z" fill="#1f40f2"/>
<path d="M624.65,244.06 L627.47,248.96 L621.83,248.96Z" fill="#1f40f2"/>
<path d="M627.16,247.78 L629.98,252.68 L624.35,252.68Z" fill="#1f40f2"/>
<path d="M629.68,246.54 L632.5,251.44 L626.86,251.44Z" fill="#1f40f2"/>
<path d="M632.2,249.02 L635.01,253.92 L629.38,253.92Z" fill="#1f40f2"/>
<path d="M634.71,250.26 L637.53,255.16 L631.89,255.16Z" fill="#1f40f2"/>
<path d="M637.23,247.78 L640.05,252.68 L634.41,252.68Z" fill="#1f40f2"/>
<path d="M639.74,246.54 L642.56,251.44 L636.93,251.44Z" fill="#1f40f2"/>
<path d="M642.26,247.78 L645.08,252.68 L639.44,252.68Z" fill="#1f40f2"/>
<path d="M644.78,245.3 L647.59,250.2 L641.96,250.2Z" fill="#1f40f2"/>
<path d="M647.29,246.54 L650.11,251.44 L644.47,251.44Z" fill="#1f40f2"/>
<path d="M649.81,244.06 L652.63,248.96 L646.99,248.96Z" fill="#1f40f2"/>
<path d="M652.32,244.06 L655.14,248.96 L649.51,248.96Z" fill="#1f40f2"/>
<path d="M654.84,245.3 L657.66,250.2 L652.02,250.2Z" fill="#1f40f2"/>
<path d="M657.36,242.82 L660.17,247.72 L654.54,247.72Z" fill="#1f40f2"/>
<path d="M659.87,245.3 L662.69,250.2 L657.05,250.2Z" fill="#1f40f2"/>
<path d="M662.39,246.54 L665.21,251.44 L659.57,251.44Z" fill="#1f40f2"/>
<path d="M664.9,250.26 L667.72,255.16 L662.09,255.16Z" fill="#1f40f2"/>
<path d="M667.42,251.5 L670.24,256.4 L664.6,256.4Z" fill="#1f40f2"/>
<path d="M669.94,240.34 L672.75,245.24 L667.12,245.24Z" fill="#1f40f2"/>
<path d="M672.45,237.86 L675.27,242.76 L669.63,242.76Z" fill="#1f40f2"/>
<path d="M674.97,241.58 L677.79,246.48 L672.15,246.48Z" fill="#1f40f2"/>
<path d="M677.48,240.34 L680.3,245.24 L674.67,245.24Z" fill="#1f40f2"/>
<path d="M680,241.58 L682.82,246.48 L677.18,246.48Z" fill="#1f40f2"/>
<circle cx="511.4" cy="281.8" r="1.4" fill="#646464"/>
<circle cx="517.26" cy="281.8" r="1.4" fill="#646464"/>
<circle cx="523.12" cy="281.8" r="1.4" fill="#646464"/>
<circle cx="528.98" cy="281.8" r="1.4" fill="#646464"/>
<circle cx="534.84" cy="281.8" r="1.4" fill="#646464"/>
<circle cx="540.7" cy="281.8" r="1.4" fill="#646464"/>
<circle cx="546.56" cy="281.8" r="1.4" fill="#646464"/>
<circle cx="552.42" cy="281.8" r="1.4" fill="#646464"/>
<circle cx="558.29" cy="281.8" r="1.4" fill="#646464"/>
<circle cx="564.15" cy="281.8" r="1.4" fill="#646464"/>
<circle cx="570.01" cy="281.8" r="1.4" fill="#646464"/>
<circle cx="575.87" cy="281.8" r="1.4" fill="#646464"/>
<circle cx="581.73" cy="281.8" r="1.4" fill="#646464"/>
<circle cx="587.59" cy="281.8" r="1.4" fill="#646464"/>
<circle cx="593.45" cy="281.8" r="1.4" fill="#646464"/>
<circle cx="599.31" cy="281.8" r="1.4" fill="#646464"/>
<circle cx="605.17" cy="281.8" r="1.4" fill="#646464"/>
<circle cx="611.03" cy="281.8" r="1.4" fill="#646464"/>
<circle cx="616.89" cy="281.8" r="1.4" fill="#646464"/>
<circle cx="622.75" cy="281.8" r="1.4" fill="#646464"/>
<circle cx="628.61" cy="281.8" r="1.4" fill="#646464"/>
<circle cx="634.48" cy="281.8" r="1.4" fill="#646464"/>
<circle cx="640.34" cy="281.8" r="1.4" fill="#646464"/>
<circle cx="646.2" cy="281.8" r="1.4" fill="#646464"/>
<circle cx="652.06" cy="281.8" r="1.4" fill="#646464"/>
<circle cx="657.92" cy="281.8" r="1.4" fill="#646464"/>
<circle cx="663.78" cy="281.8" r="1.4" fill="#646464"/>
<circle cx="669.64" cy="281.8" r="1.4" fill="#646464"/>
<circle cx="675.5" cy="281.8" r="1.4" fill="#646464"/>
<path d="M500,223.68 L502.82,228.58 L497.18,228.58Z" fill="#1f40f2"/>
<text x="522.8" y="228.5" font-size="8.95" text-anchor="start" fill="#000" font-weight="normal" transform="translate(522.8 228.5) scale(1 1.07) translate(-522.8 -228.5)" >Barbadin&#160; N=3 n=6</text>
<line x1="606.9" y1="191.1" x2="619.8" y2="191.1" stroke="#7090f6" stroke-width="1.6" />
<line x1="606.9" y1="199.1" x2="619.8" y2="199.1" stroke="#1a3cf0" stroke-width="1.9" />
<text x="626.3" y="193.84" font-size="7.2" text-anchor="start" fill="#000" font-weight="normal" >Before</text>
<text x="626.3" y="201.84" font-size="7.2" text-anchor="start" fill="#000" font-weight="normal" >After</text>
<line x1="664.2" y1="187.6" x2="664.2" y2="197.25" stroke="#000" stroke-width="1.3" />
<line x1="663.55" y1="196.6" x2="673.9" y2="196.6" stroke="#000" stroke-width="1.3" />
<text x="662.4" y="205.7" font-size="7.6" text-anchor="start" fill="#000" font-weight="normal" >200ms</text>
<text x="662.1" y="193.7" font-size="7" text-anchor="middle" fill="#000" font-weight="normal" transform="rotate(-90 662.1 193.7)" >200μV</text>
<path d="M619.4,203 C619.7,204.72 620.2,211.47 621.2,213.3 C622.2,215.13 624.25,212.85 625.4,214 C626.55,215.15 627.07,218.2 628.1,220.2 C629.13,222.2 630.08,224.72 631.6,226 C633.12,227.28 635.35,227.98 637.2,227.9 C639.05,227.82 640.63,226.65 642.7,225.5 C644.77,224.35 647.28,222.33 649.6,221 C651.92,219.67 654.53,218.55 656.6,217.5 C658.67,216.45 659.23,215.4 662,214.7 C664.77,214 669.48,213.58 673.2,213.3 C676.92,213.02 682.45,213.05 684.3,213" fill="none" stroke="#7090f6" stroke-width="1.6" stroke-linejoin="round" stroke-linecap="round"/>
<path d="M618.4,235.5 C618.43,231.75 618.47,218.42 618.6,213 C618.73,207.58 618.97,204.5 619.2,203 C619.43,201.5 619.67,202.28 620,204 C620.33,205.72 620.3,211.63 621.2,213.3 C622.1,214.97 624.25,212.85 625.4,214 C626.55,215.15 627.07,217.78 628.1,220.2 C629.13,222.62 630.08,226.42 631.6,228.5 C633.12,230.58 635.35,232.47 637.2,232.7 C639.05,232.93 640.63,231.28 642.7,229.9 C644.77,228.52 647.28,226.13 649.6,224.4 C651.92,222.67 654.05,221.12 656.6,219.5 C659.15,217.88 662.13,215.73 664.9,214.7 C667.67,213.67 669.97,213.58 673.2,213.3 C676.43,213.02 682.45,213.05 684.3,213" fill="none" stroke="#1a3cf0" stroke-width="2" stroke-linejoin="round" stroke-linecap="round"/>
<text x="20.9" y="396.3" font-size="10.4" text-anchor="start" fill="#000" font-weight="bold" transform="translate(20.9 396.3) scale(1 1.07) translate(-20.9 -396.3)" >G</text>
<line x1="37.5" y1="430" x2="37.5" y2="554.8" stroke="#000" stroke-width="1.9" />
<line x1="29.2" y1="430.8" x2="37.5" y2="430.8" stroke="#000" stroke-width="1.6" />
<line x1="32.9" y1="451.38" x2="37.5" y2="451.38" stroke="#000" stroke-width="1.6" />
<line x1="32.9" y1="471.97" x2="37.5" y2="471.97" stroke="#000" stroke-width="1.6" />
<line x1="29.2" y1="492.55" x2="37.5" y2="492.55" stroke="#000" stroke-width="1.6" />
<line x1="32.9" y1="513.13" x2="37.5" y2="513.13" stroke="#000" stroke-width="1.6" />
<line x1="32.9" y1="533.72" x2="37.5" y2="533.72" stroke="#000" stroke-width="1.6" />
<line x1="29.2" y1="554.3" x2="37.5" y2="554.3" stroke="#000" stroke-width="1.6" />
<text x="25.2" y="430.8" font-size="9.3" text-anchor="middle" fill="#000" font-weight="normal" transform="rotate(-90 25.2 430.8) translate(25.2 430.8) scale(1 1.02) translate(-25.2 -430.8)" >150%</text>
<text x="25.2" y="493" font-size="9.3" text-anchor="middle" fill="#000" font-weight="normal" transform="rotate(-90 25.2 493) translate(25.2 493) scale(1 1.02) translate(-25.2 -493)" >100%</text>
<text x="25.2" y="554.3" font-size="9.3" text-anchor="middle" fill="#000" font-weight="normal" transform="rotate(-90 25.2 554.3) translate(25.2 554.3) scale(1 1.02) translate(-25.2 -554.3)" >50%</text>
<text x="8.3" y="495.9" font-size="8.9" text-anchor="middle" fill="#000" font-weight="normal" transform="rotate(-90 8.3 495.9) translate(8.3 495.9) scale(1 1.07) translate(-8.3 -495.9)" >fEPSP Amplitude</text>
<line x1="36.6" y1="553.9" x2="81.1" y2="553.9" stroke="#000" stroke-width="1.8" />
<line x1="97.6" y1="553.9" x2="223.6" y2="553.9" stroke="#000" stroke-width="1.8" />
<line x1="37.3" y1="553.9" x2="37.3" y2="562.1" stroke="#000" stroke-width="1.7" />
<line x1="54.55" y1="553.9" x2="54.55" y2="562.1" stroke="#000" stroke-width="1.7" />
<line x1="71.8" y1="553.9" x2="71.8" y2="562.1" stroke="#000" stroke-width="1.7" />
<line x1="122.7" y1="553.9" x2="122.7" y2="562.1" stroke="#000" stroke-width="1.7" />
<line x1="147.7" y1="553.9" x2="147.7" y2="562.1" stroke="#000" stroke-width="1.7" />
<line x1="172.7" y1="553.9" x2="172.7" y2="562.1" stroke="#000" stroke-width="1.7" />
<line x1="197.7" y1="553.9" x2="197.7" y2="562.1" stroke="#000" stroke-width="1.7" />
<line x1="222.7" y1="553.9" x2="222.7" y2="562.1" stroke="#000" stroke-width="1.7" />
<line x1="110.2" y1="553.9" x2="110.2" y2="558.3" stroke="#000" stroke-width="1.7" />
<line x1="135.2" y1="553.9" x2="135.2" y2="558.3" stroke="#000" stroke-width="1.7" />
<line x1="160.2" y1="553.9" x2="160.2" y2="558.3" stroke="#000" stroke-width="1.7" />
<line x1="185.2" y1="553.9" x2="185.2" y2="558.3" stroke="#000" stroke-width="1.7" />
<line x1="210.2" y1="553.9" x2="210.2" y2="558.3" stroke="#000" stroke-width="1.7" />
<text x="37.3" y="573.8" font-size="9" text-anchor="middle" fill="#000" font-weight="normal" transform="translate(37.3 573.8) scale(1 1.07) translate(-37.3 -573.8)" >0</text>
<text x="54.55" y="573.8" font-size="9" text-anchor="middle" fill="#000" font-weight="normal" transform="translate(54.55 573.8) scale(1 1.07) translate(-54.55 -573.8)" >10</text>
<text x="71.8" y="573.8" font-size="9" text-anchor="middle" fill="#000" font-weight="normal" transform="translate(71.8 573.8) scale(1 1.07) translate(-71.8 -573.8)" >20</text>
<text x="97.7" y="573.8" font-size="9" text-anchor="middle" fill="#000" font-weight="normal" transform="translate(97.7 573.8) scale(1 1.07) translate(-97.7 -573.8)" >30</text>
<text x="122.7" y="573.8" font-size="9" text-anchor="middle" fill="#000" font-weight="normal" transform="translate(122.7 573.8) scale(1 1.07) translate(-122.7 -573.8)" >40</text>
<text x="147.7" y="573.8" font-size="9" text-anchor="middle" fill="#000" font-weight="normal" transform="translate(147.7 573.8) scale(1 1.07) translate(-147.7 -573.8)" >50</text>
<text x="172.7" y="573.8" font-size="9" text-anchor="middle" fill="#000" font-weight="normal" transform="translate(172.7 573.8) scale(1 1.07) translate(-172.7 -573.8)" >60</text>
<text x="197.7" y="573.8" font-size="9" text-anchor="middle" fill="#000" font-weight="normal" transform="translate(197.7 573.8) scale(1 1.07) translate(-197.7 -573.8)" >70</text>
<text x="222.7" y="573.8" font-size="9" text-anchor="middle" fill="#000" font-weight="normal" transform="translate(222.7 573.8) scale(1 1.07) translate(-222.7 -573.8)" >80</text>
<line x1="75.3" y1="559.7" x2="87.1" y2="548.3" stroke="#000" stroke-width="1.8" />
<line x1="92.2" y1="559.7" x2="103.1" y2="548.7" stroke="#000" stroke-width="1.8" />
<text x="130.5" y="590" font-size="8.8" text-anchor="middle" fill="#000" font-weight="normal" transform="translate(130.5 590) scale(1 1.07) translate(-130.5 -590)" >Time/Min</text>
<path d="M113.7,497.6 L106.7,508 L111.1,508.3 L107.5,518 L117.4,506.1 L113.4,505.8Z" fill="#fae66a"/>
<path d="M102.8,514.6 L95.8,525 L100.2,525.3 L96.6,535 L106.5,523.1 L102.5,522.8Z" fill="#fae66a"/>
<text x="79.1" y="507.4" font-size="8.8" text-anchor="start" fill="#000" font-weight="normal" transform="translate(79.1 507.4) scale(1 1.07) translate(-79.1 -507.4)" >TBS</text>
<line x1="90.5" y1="519.3" x2="90.5" y2="547.8" stroke="#000" stroke-width="1.8" />
<path d="M86.2,545.6 L94.8,545.6 L90.5,552.8Z" fill="#000"/>
<line x1="41.78" y1="493.62" x2="41.78" y2="497.34" stroke="#16237f" stroke-width="1" />
<line x1="39.88" y1="493.62" x2="43.68" y2="493.62" stroke="#16237f" stroke-width="1" />
<line x1="39.88" y1="497.34" x2="43.68" y2="497.34" stroke="#16237f" stroke-width="1" />
<line x1="44.2" y1="495.48" x2="44.2" y2="500.44" stroke="#16237f" stroke-width="1" />
<line x1="42.3" y1="495.48" x2="46.1" y2="495.48" stroke="#16237f" stroke-width="1" />
<line x1="42.3" y1="500.44" x2="46.1" y2="500.44" stroke="#16237f" stroke-width="1" />
<line x1="45.92" y1="496.1" x2="45.92" y2="502.3" stroke="#16237f" stroke-width="1" />
<line x1="44.02" y1="496.1" x2="47.82" y2="496.1" stroke="#16237f" stroke-width="1" />
<line x1="44.02" y1="502.3" x2="47.82" y2="502.3" stroke="#16237f" stroke-width="1" />
<line x1="51.79" y1="489.9" x2="51.79" y2="494.86" stroke="#16237f" stroke-width="1" />
<line x1="49.89" y1="489.9" x2="53.69" y2="489.9" stroke="#16237f" stroke-width="1" />
<line x1="49.89" y1="494.86" x2="53.69" y2="494.86" stroke="#16237f" stroke-width="1" />
<line x1="53.69" y1="491.76" x2="53.69" y2="496.72" stroke="#16237f" stroke-width="1" />
<line x1="51.79" y1="491.76" x2="55.59" y2="491.76" stroke="#16237f" stroke-width="1" />
<line x1="51.79" y1="496.72" x2="55.59" y2="496.72" stroke="#16237f" stroke-width="1" />
<line x1="56.27" y1="496.1" x2="56.27" y2="501.06" stroke="#16237f" stroke-width="1" />
<line x1="54.38" y1="496.1" x2="58.17" y2="496.1" stroke="#16237f" stroke-width="1" />
<line x1="54.38" y1="501.06" x2="58.17" y2="501.06" stroke="#16237f" stroke-width="1" />
<line x1="59.21" y1="494.24" x2="59.21" y2="499.2" stroke="#16237f" stroke-width="1" />
<line x1="57.31" y1="494.24" x2="61.11" y2="494.24" stroke="#16237f" stroke-width="1" />
<line x1="57.31" y1="499.2" x2="61.11" y2="499.2" stroke="#16237f" stroke-width="1" />
<line x1="63.52" y1="485.56" x2="63.52" y2="490.52" stroke="#16237f" stroke-width="1" />
<line x1="61.62" y1="485.56" x2="65.42" y2="485.56" stroke="#16237f" stroke-width="1" />
<line x1="61.62" y1="490.52" x2="65.42" y2="490.52" stroke="#16237f" stroke-width="1" />
<line x1="65.76" y1="487.42" x2="65.76" y2="491.14" stroke="#16237f" stroke-width="1" />
<line x1="63.86" y1="487.42" x2="67.66" y2="487.42" stroke="#16237f" stroke-width="1" />
<line x1="63.86" y1="491.14" x2="67.66" y2="491.14" stroke="#16237f" stroke-width="1" />
<line x1="68" y1="488.04" x2="68" y2="493" stroke="#16237f" stroke-width="1" />
<line x1="66.1" y1="488.04" x2="69.91" y2="488.04" stroke="#16237f" stroke-width="1" />
<line x1="66.1" y1="493" x2="69.91" y2="493" stroke="#16237f" stroke-width="1" />
<line x1="70.07" y1="489.9" x2="70.07" y2="493.62" stroke="#16237f" stroke-width="1" />
<line x1="68.17" y1="489.9" x2="71.97" y2="489.9" stroke="#16237f" stroke-width="1" />
<line x1="68.17" y1="493.62" x2="71.97" y2="493.62" stroke="#16237f" stroke-width="1" />
<line x1="72.32" y1="490.52" x2="72.32" y2="494.24" stroke="#16237f" stroke-width="1" />
<line x1="70.42" y1="490.52" x2="74.22" y2="490.52" stroke="#16237f" stroke-width="1" />
<line x1="70.42" y1="494.24" x2="74.22" y2="494.24" stroke="#16237f" stroke-width="1" />
<line x1="97.7" y1="474.72" x2="97.7" y2="486.48" stroke="#16237f" stroke-width="1" />
<line x1="95.8" y1="474.72" x2="99.6" y2="474.72" stroke="#16237f" stroke-width="1" />
<line x1="95.8" y1="486.48" x2="99.6" y2="486.48" stroke="#16237f" stroke-width="1" />
<line x1="100.2" y1="467.69" x2="100.2" y2="478.75" stroke="#16237f" stroke-width="1" />
<line x1="98.3" y1="467.69" x2="102.1" y2="467.69" stroke="#16237f" stroke-width="1" />
<line x1="98.3" y1="478.75" x2="102.1" y2="478.75" stroke="#16237f" stroke-width="1" />
<line x1="102.7" y1="466.67" x2="102.7" y2="480.35" stroke="#16237f" stroke-width="1" />
<line x1="100.8" y1="466.67" x2="104.6" y2="466.67" stroke="#16237f" stroke-width="1" />
<line x1="100.8" y1="480.35" x2="104.6" y2="480.35" stroke="#16237f" stroke-width="1" />
<line x1="105.2" y1="467.69" x2="105.2" y2="482.63" stroke="#16237f" stroke-width="1" />
<line x1="103.3" y1="467.69" x2="107.1" y2="467.69" stroke="#16237f" stroke-width="1" />
<line x1="103.3" y1="482.63" x2="107.1" y2="482.63" stroke="#16237f" stroke-width="1" />
<line x1="107.7" y1="467.96" x2="107.7" y2="482.25" stroke="#16237f" stroke-width="1" />
<line x1="105.8" y1="467.96" x2="109.6" y2="467.96" stroke="#16237f" stroke-width="1" />
<line x1="105.8" y1="482.25" x2="109.6" y2="482.25" stroke="#16237f" stroke-width="1" />
<line x1="110.2" y1="469.24" x2="110.2" y2="480.46" stroke="#16237f" stroke-width="1" />
<line x1="108.3" y1="469.24" x2="112.1" y2="469.24" stroke="#16237f" stroke-width="1" />
<line x1="108.3" y1="480.46" x2="112.1" y2="480.46" stroke="#16237f" stroke-width="1" />
<line x1="112.7" y1="464.5" x2="112.7" y2="482.3" stroke="#16237f" stroke-width="1" />
<line x1="110.8" y1="464.5" x2="114.6" y2="464.5" stroke="#16237f" stroke-width="1" />
<line x1="110.8" y1="482.3" x2="114.6" y2="482.3" stroke="#16237f" stroke-width="1" />
<line x1="115.2" y1="468.18" x2="115.2" y2="480.59" stroke="#16237f" stroke-width="1" />
<line x1="113.3" y1="468.18" x2="117.1" y2="468.18" stroke="#16237f" stroke-width="1" />
<line x1="113.3" y1="480.59" x2="117.1" y2="480.59" stroke="#16237f" stroke-width="1" />
<line x1="117.7" y1="462.94" x2="117.7" y2="481.81" stroke="#16237f" stroke-width="1" />
<line x1="115.8" y1="462.94" x2="119.6" y2="462.94" stroke="#16237f" stroke-width="1" />
<line x1="115.8" y1="481.81" x2="119.6" y2="481.81" stroke="#16237f" stroke-width="1" />
<line x1="120.2" y1="465.45" x2="120.2" y2="479.41" stroke="#16237f" stroke-width="1" />
<line x1="118.3" y1="465.45" x2="122.1" y2="465.45" stroke="#16237f" stroke-width="1" />
<line x1="118.3" y1="479.41" x2="122.1" y2="479.41" stroke="#16237f" stroke-width="1" />
<line x1="122.7" y1="465.4" x2="122.7" y2="476.23" stroke="#16237f" stroke-width="1" />
<line x1="120.8" y1="465.4" x2="124.6" y2="465.4" stroke="#16237f" stroke-width="1" />
<line x1="120.8" y1="476.23" x2="124.6" y2="476.23" stroke="#16237f" stroke-width="1" />
<line x1="125.2" y1="464.62" x2="125.2" y2="477.62" stroke="#16237f" stroke-width="1" />
<line x1="123.3" y1="464.62" x2="127.1" y2="464.62" stroke="#16237f" stroke-width="1" />
<line x1="123.3" y1="477.62" x2="127.1" y2="477.62" stroke="#16237f" stroke-width="1" />
<line x1="127.7" y1="467.91" x2="127.7" y2="479.38" stroke="#16237f" stroke-width="1" />
<line x1="125.8" y1="467.91" x2="129.6" y2="467.91" stroke="#16237f" stroke-width="1" />
<line x1="125.8" y1="479.38" x2="129.6" y2="479.38" stroke="#16237f" stroke-width="1" />
<line x1="130.2" y1="464.05" x2="130.2" y2="481.75" stroke="#16237f" stroke-width="1" />
<line x1="128.3" y1="464.05" x2="132.1" y2="464.05" stroke="#16237f" stroke-width="1" />
<line x1="128.3" y1="481.75" x2="132.1" y2="481.75" stroke="#16237f" stroke-width="1" />
<line x1="132.7" y1="465.44" x2="132.7" y2="481.04" stroke="#16237f" stroke-width="1" />
<line x1="130.8" y1="465.44" x2="134.6" y2="465.44" stroke="#16237f" stroke-width="1" />
<line x1="130.8" y1="481.04" x2="134.6" y2="481.04" stroke="#16237f" stroke-width="1" />
<line x1="135.2" y1="464.53" x2="135.2" y2="478.27" stroke="#16237f" stroke-width="1" />
<line x1="133.3" y1="464.53" x2="137.1" y2="464.53" stroke="#16237f" stroke-width="1" />
<line x1="133.3" y1="478.27" x2="137.1" y2="478.27" stroke="#16237f" stroke-width="1" />
<line x1="137.7" y1="472.96" x2="137.7" y2="485.76" stroke="#16237f" stroke-width="1" />
<line x1="135.8" y1="472.96" x2="139.6" y2="472.96" stroke="#16237f" stroke-width="1" />
<line x1="135.8" y1="485.76" x2="139.6" y2="485.76" stroke="#16237f" stroke-width="1" />
<line x1="140.2" y1="472.21" x2="140.2" y2="486.51" stroke="#16237f" stroke-width="1" />
<line x1="138.3" y1="472.21" x2="142.1" y2="472.21" stroke="#16237f" stroke-width="1" />
<line x1="138.3" y1="486.51" x2="142.1" y2="486.51" stroke="#16237f" stroke-width="1" />
<line x1="142.7" y1="467.91" x2="142.7" y2="484.51" stroke="#16237f" stroke-width="1" />
<line x1="140.8" y1="467.91" x2="144.6" y2="467.91" stroke="#16237f" stroke-width="1" />
<line x1="140.8" y1="484.51" x2="144.6" y2="484.51" stroke="#16237f" stroke-width="1" />
<line x1="145.2" y1="468.4" x2="145.2" y2="486.65" stroke="#16237f" stroke-width="1" />
<line x1="143.3" y1="468.4" x2="147.1" y2="468.4" stroke="#16237f" stroke-width="1" />
<line x1="143.3" y1="486.65" x2="147.1" y2="486.65" stroke="#16237f" stroke-width="1" />
<line x1="147.7" y1="469.33" x2="147.7" y2="484.6" stroke="#16237f" stroke-width="1" />
<line x1="145.8" y1="469.33" x2="149.6" y2="469.33" stroke="#16237f" stroke-width="1" />
<line x1="145.8" y1="484.6" x2="149.6" y2="484.6" stroke="#16237f" stroke-width="1" />
<line x1="150.2" y1="465.94" x2="150.2" y2="485.37" stroke="#16237f" stroke-width="1" />
<line x1="148.3" y1="465.94" x2="152.1" y2="465.94" stroke="#16237f" stroke-width="1" />
<line x1="148.3" y1="485.37" x2="152.1" y2="485.37" stroke="#16237f" stroke-width="1" />
<line x1="152.7" y1="468.59" x2="152.7" y2="486.72" stroke="#16237f" stroke-width="1" />
<line x1="150.8" y1="468.59" x2="154.6" y2="468.59" stroke="#16237f" stroke-width="1" />
<line x1="150.8" y1="486.72" x2="154.6" y2="486.72" stroke="#16237f" stroke-width="1" />
<line x1="155.2" y1="465.93" x2="155.2" y2="487.2" stroke="#16237f" stroke-width="1" />
<line x1="153.3" y1="465.93" x2="157.1" y2="465.93" stroke="#16237f" stroke-width="1" />
<line x1="153.3" y1="487.2" x2="157.1" y2="487.2" stroke="#16237f" stroke-width="1" />
<line x1="157.7" y1="468.19" x2="157.7" y2="483.34" stroke="#16237f" stroke-width="1" />
<line x1="155.8" y1="468.19" x2="159.6" y2="468.19" stroke="#16237f" stroke-width="1" />
<line x1="155.8" y1="483.34" x2="159.6" y2="483.34" stroke="#16237f" stroke-width="1" />
<line x1="160.2" y1="468.09" x2="160.2" y2="481.47" stroke="#16237f" stroke-width="1" />
<line x1="158.3" y1="468.09" x2="162.1" y2="468.09" stroke="#16237f" stroke-width="1" />
<line x1="158.3" y1="481.47" x2="162.1" y2="481.47" stroke="#16237f" stroke-width="1" />
<line x1="162.7" y1="466.81" x2="162.7" y2="486.85" stroke="#16237f" stroke-width="1" />
<line x1="160.8" y1="466.81" x2="164.6" y2="466.81" stroke="#16237f" stroke-width="1" />
<line x1="160.8" y1="486.85" x2="164.6" y2="486.85" stroke="#16237f" stroke-width="1" />
<line x1="165.2" y1="469.15" x2="165.2" y2="486.4" stroke="#16237f" stroke-width="1" />
<line x1="163.3" y1="469.15" x2="167.1" y2="469.15" stroke="#16237f" stroke-width="1" />
<line x1="163.3" y1="486.4" x2="167.1" y2="486.4" stroke="#16237f" stroke-width="1" />
<line x1="167.7" y1="468.6" x2="167.7" y2="487.71" stroke="#16237f" stroke-width="1" />
<line x1="165.8" y1="468.6" x2="169.6" y2="468.6" stroke="#16237f" stroke-width="1" />
<line x1="165.8" y1="487.71" x2="169.6" y2="487.71" stroke="#16237f" stroke-width="1" />
<line x1="170.2" y1="466.35" x2="170.2" y2="484.47" stroke="#16237f" stroke-width="1" />
<line x1="168.3" y1="466.35" x2="172.1" y2="466.35" stroke="#16237f" stroke-width="1" />
<line x1="168.3" y1="484.47" x2="172.1" y2="484.47" stroke="#16237f" stroke-width="1" />
<line x1="172.7" y1="467.24" x2="172.7" y2="482.66" stroke="#16237f" stroke-width="1" />
<line x1="170.8" y1="467.24" x2="174.6" y2="467.24" stroke="#16237f" stroke-width="1" />
<line x1="170.8" y1="482.66" x2="174.6" y2="482.66" stroke="#16237f" stroke-width="1" />
<line x1="175.2" y1="466.41" x2="175.2" y2="484.75" stroke="#16237f" stroke-width="1" />
<line x1="173.3" y1="466.41" x2="177.1" y2="466.41" stroke="#16237f" stroke-width="1" />
<line x1="173.3" y1="484.75" x2="177.1" y2="484.75" stroke="#16237f" stroke-width="1" />
<line x1="177.7" y1="467.51" x2="177.7" y2="484.41" stroke="#16237f" stroke-width="1" />
<line x1="175.8" y1="467.51" x2="179.6" y2="467.51" stroke="#16237f" stroke-width="1" />
<line x1="175.8" y1="484.41" x2="179.6" y2="484.41" stroke="#16237f" stroke-width="1" />
<line x1="180.2" y1="462.56" x2="180.2" y2="484.55" stroke="#16237f" stroke-width="1" />
<line x1="178.3" y1="462.56" x2="182.1" y2="462.56" stroke="#16237f" stroke-width="1" />
<line x1="178.3" y1="484.55" x2="182.1" y2="484.55" stroke="#16237f" stroke-width="1" />
<line x1="182.7" y1="464.93" x2="182.7" y2="484" stroke="#16237f" stroke-width="1" />
<line x1="180.8" y1="464.93" x2="184.6" y2="464.93" stroke="#16237f" stroke-width="1" />
<line x1="180.8" y1="484" x2="184.6" y2="484" stroke="#16237f" stroke-width="1" />
<line x1="185.2" y1="459.34" x2="185.2" y2="481.57" stroke="#16237f" stroke-width="1" />
<line x1="183.3" y1="459.34" x2="187.1" y2="459.34" stroke="#16237f" stroke-width="1" />
<line x1="183.3" y1="481.57" x2="187.1" y2="481.57" stroke="#16237f" stroke-width="1" />
<line x1="187.7" y1="455.46" x2="187.7" y2="481.17" stroke="#16237f" stroke-width="1" />
<line x1="185.8" y1="455.46" x2="189.6" y2="455.46" stroke="#16237f" stroke-width="1" />
<line x1="185.8" y1="481.17" x2="189.6" y2="481.17" stroke="#16237f" stroke-width="1" />
<line x1="190.2" y1="459.07" x2="190.2" y2="476.34" stroke="#16237f" stroke-width="1" />
<line x1="188.3" y1="459.07" x2="192.1" y2="459.07" stroke="#16237f" stroke-width="1" />
<line x1="188.3" y1="476.34" x2="192.1" y2="476.34" stroke="#16237f" stroke-width="1" />
<line x1="192.7" y1="458.45" x2="192.7" y2="480.29" stroke="#16237f" stroke-width="1" />
<line x1="190.8" y1="458.45" x2="194.6" y2="458.45" stroke="#16237f" stroke-width="1" />
<line x1="190.8" y1="480.29" x2="194.6" y2="480.29" stroke="#16237f" stroke-width="1" />
<line x1="195.2" y1="461.07" x2="195.2" y2="480.45" stroke="#16237f" stroke-width="1" />
<line x1="193.3" y1="461.07" x2="197.1" y2="461.07" stroke="#16237f" stroke-width="1" />
<line x1="193.3" y1="480.45" x2="197.1" y2="480.45" stroke="#16237f" stroke-width="1" />
<line x1="197.7" y1="462.62" x2="197.7" y2="477.9" stroke="#16237f" stroke-width="1" />
<line x1="195.8" y1="462.62" x2="199.6" y2="462.62" stroke="#16237f" stroke-width="1" />
<line x1="195.8" y1="477.9" x2="199.6" y2="477.9" stroke="#16237f" stroke-width="1" />
<line x1="200.2" y1="459.19" x2="200.2" y2="482.23" stroke="#16237f" stroke-width="1" />
<line x1="198.3" y1="459.19" x2="202.1" y2="459.19" stroke="#16237f" stroke-width="1" />
<line x1="198.3" y1="482.23" x2="202.1" y2="482.23" stroke="#16237f" stroke-width="1" />
<line x1="202.7" y1="462.07" x2="202.7" y2="478.91" stroke="#16237f" stroke-width="1" />
<line x1="200.8" y1="462.07" x2="204.6" y2="462.07" stroke="#16237f" stroke-width="1" />
<line x1="200.8" y1="478.91" x2="204.6" y2="478.91" stroke="#16237f" stroke-width="1" />
<line x1="205.2" y1="457.43" x2="205.2" y2="481.69" stroke="#16237f" stroke-width="1" />
<line x1="203.3" y1="457.43" x2="207.1" y2="457.43" stroke="#16237f" stroke-width="1" />
<line x1="203.3" y1="481.69" x2="207.1" y2="481.69" stroke="#16237f" stroke-width="1" />
<line x1="207.7" y1="461.13" x2="207.7" y2="480.37" stroke="#16237f" stroke-width="1" />
<line x1="205.8" y1="461.13" x2="209.6" y2="461.13" stroke="#16237f" stroke-width="1" />
<line x1="205.8" y1="480.37" x2="209.6" y2="480.37" stroke="#16237f" stroke-width="1" />
<line x1="210.2" y1="456.85" x2="210.2" y2="481.25" stroke="#16237f" stroke-width="1" />
<line x1="208.3" y1="456.85" x2="212.1" y2="456.85" stroke="#16237f" stroke-width="1" />
<line x1="208.3" y1="481.25" x2="212.1" y2="481.25" stroke="#16237f" stroke-width="1" />
<line x1="212.7" y1="456" x2="212.7" y2="480.17" stroke="#16237f" stroke-width="1" />
<line x1="210.8" y1="456" x2="214.6" y2="456" stroke="#16237f" stroke-width="1" />
<line x1="210.8" y1="480.17" x2="214.6" y2="480.17" stroke="#16237f" stroke-width="1" />
<line x1="215.2" y1="460.72" x2="215.2" y2="479.56" stroke="#16237f" stroke-width="1" />
<line x1="213.3" y1="460.72" x2="217.1" y2="460.72" stroke="#16237f" stroke-width="1" />
<line x1="213.3" y1="479.56" x2="217.1" y2="479.56" stroke="#16237f" stroke-width="1" />
<line x1="217.7" y1="457.68" x2="217.7" y2="482.09" stroke="#16237f" stroke-width="1" />
<line x1="215.8" y1="457.68" x2="219.6" y2="457.68" stroke="#16237f" stroke-width="1" />
<line x1="215.8" y1="482.09" x2="219.6" y2="482.09" stroke="#16237f" stroke-width="1" />
<line x1="220.2" y1="459.85" x2="220.2" y2="475.54" stroke="#16237f" stroke-width="1" />
<line x1="218.3" y1="459.85" x2="222.1" y2="459.85" stroke="#16237f" stroke-width="1" />
<line x1="218.3" y1="475.54" x2="222.1" y2="475.54" stroke="#16237f" stroke-width="1" />
<line x1="222.7" y1="462.32" x2="222.7" y2="478.97" stroke="#16237f" stroke-width="1" />
<line x1="220.8" y1="462.32" x2="224.6" y2="462.32" stroke="#16237f" stroke-width="1" />
<line x1="220.8" y1="478.97" x2="224.6" y2="478.97" stroke="#16237f" stroke-width="1" />
<path d="M41.78,498.7 L45,493.1 L38.56,493.1Z" fill="#16237f"/>
<path d="M44.2,501.18 L47.42,495.58 L40.98,495.58Z" fill="#16237f"/>
<path d="M45.92,502.42 L49.14,496.82 L42.7,496.82Z" fill="#16237f"/>
<path d="M51.79,495.6 L55.01,490 L48.57,490Z" fill="#16237f"/>
<path d="M53.69,497.46 L56.91,491.86 L50.47,491.86Z" fill="#16237f"/>
<path d="M56.27,501.8 L59.49,496.2 L53.05,496.2Z" fill="#16237f"/>
<path d="M59.21,499.94 L62.43,494.34 L55.99,494.34Z" fill="#16237f"/>
<path d="M63.52,491.26 L66.74,485.66 L60.3,485.66Z" fill="#16237f"/>
<path d="M65.76,492.5 L68.98,486.9 L62.54,486.9Z" fill="#16237f"/>
<path d="M68,493.74 L71.22,488.14 L64.78,488.14Z" fill="#16237f"/>
<path d="M70.07,494.98 L73.29,489.38 L66.85,489.38Z" fill="#16237f"/>
<path d="M72.32,495.6 L75.54,490 L69.1,490Z" fill="#16237f"/>
<path d="M97.7,483.82 L100.92,478.22 L94.48,478.22Z" fill="#16237f"/>
<path d="M100.2,476.44 L103.42,470.84 L96.98,470.84Z" fill="#16237f"/>
<path d="M102.7,476.73 L105.92,471.13 L99.48,471.13Z" fill="#16237f"/>
<path d="M105.2,478.38 L108.42,472.78 L101.98,472.78Z" fill="#16237f"/>
<path d="M107.7,478.32 L110.92,472.72 L104.48,472.72Z" fill="#16237f"/>
<path d="M110.2,478.07 L113.42,472.47 L106.98,472.47Z" fill="#16237f"/>
<path d="M112.7,476.62 L115.92,471.02 L109.48,471.02Z" fill="#16237f"/>
<path d="M115.2,477.6 L118.42,472 L111.98,472Z" fill="#16237f"/>
<path d="M117.7,475.6 L120.92,470 L114.48,470Z" fill="#16237f"/>
<path d="M120.2,475.65 L123.42,470.05 L116.98,470.05Z" fill="#16237f"/>
<path d="M122.7,474.03 L125.92,468.43 L119.48,468.43Z" fill="#16237f"/>
<path d="M125.2,474.34 L128.42,468.74 L121.98,468.74Z" fill="#16237f"/>
<path d="M127.7,476.86 L130.92,471.26 L124.48,471.26Z" fill="#16237f"/>
<path d="M130.2,476.12 L133.42,470.52 L126.98,470.52Z" fill="#16237f"/>
<path d="M132.7,476.46 L135.92,470.86 L129.48,470.86Z" fill="#16237f"/>
<path d="M135.2,474.62 L138.42,469.02 L131.98,469.02Z" fill="#16237f"/>
<path d="M137.7,482.58 L140.92,476.98 L134.48,476.98Z" fill="#16237f"/>
<path d="M140.2,482.58 L143.42,476.98 L136.98,476.98Z" fill="#16237f"/>
<path d="M142.7,479.43 L145.92,473.83 L139.48,473.83Z" fill="#16237f"/>
<path d="M145.2,480.75 L148.42,475.15 L141.98,475.15Z" fill="#16237f"/>
<path d="M147.7,480.19 L150.92,474.59 L144.48,474.59Z" fill="#16237f"/>
<path d="M150.2,478.87 L153.42,473.27 L146.98,473.27Z" fill="#16237f"/>
<path d="M152.7,480.87 L155.92,475.27 L149.48,475.27Z" fill="#16237f"/>
<path d="M155.2,479.78 L158.42,474.18 L151.98,474.18Z" fill="#16237f"/>
<path d="M157.7,478.98 L160.92,473.38 L154.48,473.38Z" fill="#16237f"/>
<path d="M160.2,478 L163.42,472.4 L156.98,472.4Z" fill="#16237f"/>
<path d="M162.7,480.05 L165.92,474.45 L159.48,474.45Z" fill="#16237f"/>
<path d="M165.2,481 L168.42,475.4 L161.98,475.4Z" fill="#16237f"/>
<path d="M167.7,481.37 L170.92,475.77 L164.48,475.77Z" fill="#16237f"/>
<path d="M170.2,478.63 L173.42,473.03 L166.98,473.03Z" fill="#16237f"/>
<path d="M172.7,478.17 L175.92,472.57 L169.48,472.57Z" fill="#16237f"/>
<path d="M175.2,478.8 L178.42,473.2 L171.98,473.2Z" fill="#16237f"/>
<path d="M177.7,479.18 L180.92,473.58 L174.48,473.58Z" fill="#16237f"/>
<path d="M180.2,476.78 L183.42,471.18 L176.98,471.18Z" fill="#16237f"/>
<path d="M182.7,477.68 L185.92,472.08 L179.48,472.08Z" fill="#16237f"/>
<path d="M185.2,473.67 L188.42,468.07 L181.98,468.07Z" fill="#16237f"/>
<path d="M187.7,471.53 L190.92,465.93 L184.48,465.93Z" fill="#16237f"/>
<path d="M190.2,470.93 L193.42,465.33 L186.98,465.33Z" fill="#16237f"/>
<path d="M192.7,472.59 L195.92,466.99 L189.48,466.99Z" fill="#16237f"/>
<path d="M195.2,473.98 L198.42,468.38 L191.98,468.38Z" fill="#16237f"/>
<path d="M197.7,473.48 L200.92,467.88 L194.48,467.88Z" fill="#16237f"/>
<path d="M200.2,473.93 L203.42,468.33 L196.98,468.33Z" fill="#16237f"/>
<path d="M202.7,473.71 L205.92,468.11 L199.48,468.11Z" fill="#16237f"/>
<path d="M205.2,472.78 L208.42,467.18 L201.98,467.18Z" fill="#16237f"/>
<path d="M207.7,473.97 L210.92,468.37 L204.48,468.37Z" fill="#16237f"/>
<path d="M210.2,472.27 L213.42,466.67 L206.98,466.67Z" fill="#16237f"/>
<path d="M212.7,471.31 L215.92,465.71 L209.48,465.71Z" fill="#16237f"/>
<path d="M215.2,473.36 L218.42,467.76 L211.98,467.76Z" fill="#16237f"/>
<path d="M217.7,473.1 L220.92,467.5 L214.48,467.5Z" fill="#16237f"/>
<path d="M220.2,470.92 L223.42,465.32 L216.98,465.32Z" fill="#16237f"/>
<path d="M222.7,473.86 L225.92,468.26 L219.48,468.26Z" fill="#16237f"/>
<circle cx="47.7" cy="494.2" r="1.4" fill="#646464"/>
<circle cx="53.56" cy="494.2" r="1.4" fill="#646464"/>
<circle cx="59.43" cy="494.2" r="1.4" fill="#646464"/>
<circle cx="65.29" cy="494.2" r="1.4" fill="#646464"/>
<circle cx="71.16" cy="494.2" r="1.4" fill="#646464"/>
<circle cx="77.02" cy="494.2" r="1.4" fill="#646464"/>
<circle cx="82.89" cy="494.2" r="1.4" fill="#646464"/>
<circle cx="88.75" cy="494.2" r="1.4" fill="#646464"/>
<circle cx="94.61" cy="494.2" r="1.4" fill="#646464"/>
<circle cx="100.48" cy="494.2" r="1.4" fill="#646464"/>
<circle cx="106.34" cy="494.2" r="1.4" fill="#646464"/>
<circle cx="112.21" cy="494.2" r="1.4" fill="#646464"/>
<circle cx="118.07" cy="494.2" r="1.4" fill="#646464"/>
<circle cx="123.94" cy="494.2" r="1.4" fill="#646464"/>
<circle cx="129.8" cy="494.2" r="1.4" fill="#646464"/>
<circle cx="135.66" cy="494.2" r="1.4" fill="#646464"/>
<circle cx="141.53" cy="494.2" r="1.4" fill="#646464"/>
<circle cx="147.39" cy="494.2" r="1.4" fill="#646464"/>
<circle cx="153.26" cy="494.2" r="1.4" fill="#646464"/>
<circle cx="159.12" cy="494.2" r="1.4" fill="#646464"/>
<circle cx="164.99" cy="494.2" r="1.4" fill="#646464"/>
<circle cx="170.85" cy="494.2" r="1.4" fill="#646464"/>
<circle cx="176.71" cy="494.2" r="1.4" fill="#646464"/>
<circle cx="182.58" cy="494.2" r="1.4" fill="#646464"/>
<circle cx="188.44" cy="494.2" r="1.4" fill="#646464"/>
<circle cx="194.31" cy="494.2" r="1.4" fill="#646464"/>
<circle cx="200.17" cy="494.2" r="1.4" fill="#646464"/>
<circle cx="206.04" cy="494.2" r="1.4" fill="#646464"/>
<circle cx="211.9" cy="494.2" r="1.4" fill="#646464"/>
<path d="M44.6,436.92 L47.82,431.32 L41.38,431.32Z" fill="#16237f"/>
<text x="68" y="436.6" font-size="8.95" text-anchor="start" fill="#000" font-weight="normal" transform="translate(68 436.6) scale(1 1.07) translate(-68 -436.6)" >H-89 N=5 n=10</text>
<line x1="130" y1="402.8" x2="143.8" y2="402.8" stroke="#8090d8" stroke-width="1.5" />
<line x1="130" y1="410.9" x2="143.8" y2="410.9" stroke="#2434a4" stroke-width="1.8" />
<text x="150.5" y="405.76" font-size="7.8" text-anchor="start" fill="#000" font-weight="normal" >Before</text>
<text x="150.5" y="413.86" font-size="7.8" text-anchor="start" fill="#000" font-weight="normal" >After</text>
<line x1="194.6" y1="403.6" x2="194.6" y2="408.75" stroke="#000" stroke-width="1.3" />
<line x1="193.95" y1="408.1" x2="205.4" y2="408.1" stroke="#000" stroke-width="1.3" />
<text x="191.7" y="416.5" font-size="7.9" text-anchor="start" fill="#000" font-weight="normal" >200ms</text>
<text x="188.2" y="409.2" font-size="7.6" text-anchor="middle" fill="#000" font-weight="normal" transform="rotate(-90 188.2 409.2)" >200μV</text>
<path d="M148.6,412.5 C148.78,413.43 148.98,417.03 149.7,418.1 C150.42,419.17 152.1,417.83 152.9,418.9 C153.7,419.97 153.65,422.32 154.5,424.5 C155.35,426.68 156.53,430.05 158,432 C159.47,433.95 161.3,435.95 163.3,436.2 C165.3,436.45 167.85,434.53 170,433.5 C172.15,432.47 173.83,431.33 176.2,430 C178.57,428.67 181.8,426.95 184.2,425.5 C186.6,424.05 187.92,422.4 190.6,421.3 C193.28,420.2 197.08,419.62 200.3,418.9 C203.52,418.18 206.92,417.27 209.9,417 C212.88,416.73 216.82,417.25 218.2,417.3" fill="none" stroke="#8090d8" stroke-width="1.4" stroke-linejoin="round" stroke-linecap="round"/>
<path d="M148.6,412.5 C148.78,413.43 148.98,417.03 149.7,418.1 C150.42,419.17 152.1,417.83 152.9,418.9 C153.7,419.97 153.7,421.83 154.5,424.5 C155.3,427.17 156.37,432.08 157.7,434.9 C159.03,437.72 160.62,440.38 162.5,441.4 C164.38,442.42 167.52,441.67 169,441 C170.48,440.33 170.2,438.68 171.4,437.4 C172.6,436.12 174.07,434.92 176.2,433.3 C178.33,431.68 181.8,429.7 184.2,427.7 C186.6,425.7 187.92,422.77 190.6,421.3 C193.28,419.83 197.08,419.57 200.3,418.9 C203.52,418.23 206.92,417.43 209.9,417.3 C212.88,417.17 216.82,417.97 218.2,418.1" fill="none" stroke="#2434a4" stroke-width="1.5" stroke-linejoin="round" stroke-linecap="round"/>
<text x="260.6" y="396.1" font-size="10.4" text-anchor="start" fill="#000" font-weight="bold" transform="translate(260.6 396.1) scale(1 1.07) translate(-260.6 -396.1)" >H</text>
<line x1="264.1" y1="429.8" x2="264.1" y2="554.8" stroke="#000" stroke-width="1.9" />
<line x1="255.8" y1="430.6" x2="264.1" y2="430.6" stroke="#000" stroke-width="1.6" />
<line x1="259.5" y1="451.3" x2="264.1" y2="451.3" stroke="#000" stroke-width="1.6" />
<line x1="259.5" y1="472" x2="264.1" y2="472" stroke="#000" stroke-width="1.6" />
<line x1="255.8" y1="492.7" x2="264.1" y2="492.7" stroke="#000" stroke-width="1.6" />
<line x1="259.5" y1="513.4" x2="264.1" y2="513.4" stroke="#000" stroke-width="1.6" />
<line x1="259.5" y1="534.1" x2="264.1" y2="534.1" stroke="#000" stroke-width="1.6" />
<line x1="255.8" y1="554.8" x2="264.1" y2="554.8" stroke="#000" stroke-width="1.6" />
<text x="251.4" y="430.6" font-size="9.3" text-anchor="middle" fill="#000" font-weight="normal" transform="rotate(-90 251.4 430.6) translate(251.4 430.6) scale(1 1.02) translate(-251.4 -430.6)" >150%</text>
<text x="251.4" y="493" font-size="9.3" text-anchor="middle" fill="#000" font-weight="normal" transform="rotate(-90 251.4 493) translate(251.4 493) scale(1 1.02) translate(-251.4 -493)" >100%</text>
<text x="251.4" y="554.8" font-size="9.3" text-anchor="middle" fill="#000" font-weight="normal" transform="rotate(-90 251.4 554.8) translate(251.4 554.8) scale(1 1.02) translate(-251.4 -554.8)" >50%</text>
<text x="235" y="495.6" font-size="8.9" text-anchor="middle" fill="#000" font-weight="normal" transform="rotate(-90 235 495.6) translate(235 495.6) scale(1 1.07) translate(-235 -495.6)" >fEPSP Amplitude</text>
<line x1="263.2" y1="553.9" x2="307.5" y2="553.9" stroke="#000" stroke-width="1.8" />
<line x1="324" y1="553.9" x2="449.5" y2="553.9" stroke="#000" stroke-width="1.8" />
<line x1="263.8" y1="553.9" x2="263.8" y2="562.1" stroke="#000" stroke-width="1.7" />
<line x1="280.85" y1="553.9" x2="280.85" y2="562.1" stroke="#000" stroke-width="1.7" />
<line x1="297.9" y1="553.9" x2="297.9" y2="562.1" stroke="#000" stroke-width="1.7" />
<line x1="348.6" y1="553.9" x2="348.6" y2="562.1" stroke="#000" stroke-width="1.7" />
<line x1="373.6" y1="553.9" x2="373.6" y2="562.1" stroke="#000" stroke-width="1.7" />
<line x1="398.6" y1="553.9" x2="398.6" y2="562.1" stroke="#000" stroke-width="1.7" />
<line x1="423.6" y1="553.9" x2="423.6" y2="562.1" stroke="#000" stroke-width="1.7" />
<line x1="448.6" y1="553.9" x2="448.6" y2="562.1" stroke="#000" stroke-width="1.7" />
<line x1="336.1" y1="553.9" x2="336.1" y2="558.3" stroke="#000" stroke-width="1.7" />
<line x1="361.1" y1="553.9" x2="361.1" y2="558.3" stroke="#000" stroke-width="1.7" />
<line x1="386.1" y1="553.9" x2="386.1" y2="558.3" stroke="#000" stroke-width="1.7" />
<line x1="411.1" y1="553.9" x2="411.1" y2="558.3" stroke="#000" stroke-width="1.7" />
<line x1="436.1" y1="553.9" x2="436.1" y2="558.3" stroke="#000" stroke-width="1.7" />
<text x="263.8" y="573.8" font-size="9" text-anchor="middle" fill="#000" font-weight="normal" transform="translate(263.8 573.8) scale(1 1.07) translate(-263.8 -573.8)" >0</text>
<text x="280.85" y="573.8" font-size="9" text-anchor="middle" fill="#000" font-weight="normal" transform="translate(280.85 573.8) scale(1 1.07) translate(-280.85 -573.8)" >10</text>
<text x="297.9" y="573.8" font-size="9" text-anchor="middle" fill="#000" font-weight="normal" transform="translate(297.9 573.8) scale(1 1.07) translate(-297.9 -573.8)" >20</text>
<text x="323.6" y="573.8" font-size="9" text-anchor="middle" fill="#000" font-weight="normal" transform="translate(323.6 573.8) scale(1 1.07) translate(-323.6 -573.8)" >30</text>
<text x="348.6" y="573.8" font-size="9" text-anchor="middle" fill="#000" font-weight="normal" transform="translate(348.6 573.8) scale(1 1.07) translate(-348.6 -573.8)" >40</text>
<text x="373.6" y="573.8" font-size="9" text-anchor="middle" fill="#000" font-weight="normal" transform="translate(373.6 573.8) scale(1 1.07) translate(-373.6 -573.8)" >50</text>
<text x="398.6" y="573.8" font-size="9" text-anchor="middle" fill="#000" font-weight="normal" transform="translate(398.6 573.8) scale(1 1.07) translate(-398.6 -573.8)" >60</text>
<text x="423.6" y="573.8" font-size="9" text-anchor="middle" fill="#000" font-weight="normal" transform="translate(423.6 573.8) scale(1 1.07) translate(-423.6 -573.8)" >70</text>
<text x="448.6" y="573.8" font-size="9" text-anchor="middle" fill="#000" font-weight="normal" transform="translate(448.6 573.8) scale(1 1.07) translate(-448.6 -573.8)" >80</text>
<line x1="301.7" y1="559.7" x2="313.5" y2="548.3" stroke="#000" stroke-width="1.8" />
<line x1="318.6" y1="559.7" x2="329.5" y2="548.7" stroke="#000" stroke-width="1.8" />
<text x="356.8" y="590.6" font-size="8.8" text-anchor="middle" fill="#000" font-weight="normal" transform="translate(356.8 590.6) scale(1 1.07) translate(-356.8 -590.6)" >Time/Min</text>
<path d="M342,498.5 L335,508.9 L339.4,509.2 L335.8,518.9 L345.7,507 L341.7,506.7Z" fill="#fae66a"/>
<path d="M330.4,516.4 L323.4,526.8 L327.8,527.1 L324.2,536.8 L334.1,524.9 L330.1,524.6Z" fill="#fae66a"/>
<text x="306.5" y="508.5" font-size="8.8" text-anchor="start" fill="#000" font-weight="normal" transform="translate(306.5 508.5) scale(1 1.07) translate(-306.5 -508.5)" >TBS</text>
<line x1="318.1" y1="520.8" x2="318.1" y2="548.4" stroke="#000" stroke-width="1.8" />
<path d="M313.8,546.2 L322.4,546.2 L318.1,553.4Z" fill="#000"/>
<line x1="263.8" y1="491.14" x2="263.8" y2="494.86" stroke="#9a48f2" stroke-width="1" />
<line x1="261.9" y1="491.14" x2="265.7" y2="491.14" stroke="#9a48f2" stroke-width="1" />
<line x1="261.9" y1="494.86" x2="265.7" y2="494.86" stroke="#9a48f2" stroke-width="1" />
<line x1="266.36" y1="489.28" x2="266.36" y2="493" stroke="#9a48f2" stroke-width="1" />
<line x1="264.46" y1="489.28" x2="268.26" y2="489.28" stroke="#9a48f2" stroke-width="1" />
<line x1="264.46" y1="493" x2="268.26" y2="493" stroke="#9a48f2" stroke-width="1" />
<line x1="268.92" y1="493.62" x2="268.92" y2="498.58" stroke="#9a48f2" stroke-width="1" />
<line x1="267.02" y1="493.62" x2="270.81" y2="493.62" stroke="#9a48f2" stroke-width="1" />
<line x1="267.02" y1="498.58" x2="270.81" y2="498.58" stroke="#9a48f2" stroke-width="1" />
<line x1="271.47" y1="494.24" x2="271.47" y2="500.44" stroke="#9a48f2" stroke-width="1" />
<line x1="269.57" y1="494.24" x2="273.37" y2="494.24" stroke="#9a48f2" stroke-width="1" />
<line x1="269.57" y1="500.44" x2="273.37" y2="500.44" stroke="#9a48f2" stroke-width="1" />
<line x1="274.03" y1="492.38" x2="274.03" y2="497.34" stroke="#9a48f2" stroke-width="1" />
<line x1="272.13" y1="492.38" x2="275.93" y2="492.38" stroke="#9a48f2" stroke-width="1" />
<line x1="272.13" y1="497.34" x2="275.93" y2="497.34" stroke="#9a48f2" stroke-width="1" />
<line x1="276.59" y1="489.9" x2="276.59" y2="494.86" stroke="#9a48f2" stroke-width="1" />
<line x1="274.69" y1="489.9" x2="278.49" y2="489.9" stroke="#9a48f2" stroke-width="1" />
<line x1="274.69" y1="494.86" x2="278.49" y2="494.86" stroke="#9a48f2" stroke-width="1" />
<line x1="279.14" y1="491.76" x2="279.14" y2="496.72" stroke="#9a48f2" stroke-width="1" />
<line x1="277.25" y1="491.76" x2="281.04" y2="491.76" stroke="#9a48f2" stroke-width="1" />
<line x1="277.25" y1="496.72" x2="281.04" y2="496.72" stroke="#9a48f2" stroke-width="1" />
<line x1="281.7" y1="483.7" x2="281.7" y2="491.14" stroke="#9a48f2" stroke-width="1" />
<line x1="279.8" y1="483.7" x2="283.6" y2="483.7" stroke="#9a48f2" stroke-width="1" />
<line x1="279.8" y1="491.14" x2="283.6" y2="491.14" stroke="#9a48f2" stroke-width="1" />
<line x1="284.26" y1="489.28" x2="284.26" y2="494.24" stroke="#9a48f2" stroke-width="1" />
<line x1="282.36" y1="489.28" x2="286.16" y2="489.28" stroke="#9a48f2" stroke-width="1" />
<line x1="282.36" y1="494.24" x2="286.16" y2="494.24" stroke="#9a48f2" stroke-width="1" />
<line x1="286.82" y1="492.38" x2="286.82" y2="497.34" stroke="#9a48f2" stroke-width="1" />
<line x1="284.92" y1="492.38" x2="288.72" y2="492.38" stroke="#9a48f2" stroke-width="1" />
<line x1="284.92" y1="497.34" x2="288.72" y2="497.34" stroke="#9a48f2" stroke-width="1" />
<line x1="289.38" y1="490.52" x2="289.38" y2="495.48" stroke="#9a48f2" stroke-width="1" />
<line x1="287.48" y1="490.52" x2="291.27" y2="490.52" stroke="#9a48f2" stroke-width="1" />
<line x1="287.48" y1="495.48" x2="291.27" y2="495.48" stroke="#9a48f2" stroke-width="1" />
<line x1="291.93" y1="489.28" x2="291.93" y2="493" stroke="#9a48f2" stroke-width="1" />
<line x1="290.03" y1="489.28" x2="293.83" y2="489.28" stroke="#9a48f2" stroke-width="1" />
<line x1="290.03" y1="493" x2="293.83" y2="493" stroke="#9a48f2" stroke-width="1" />
<line x1="294.49" y1="485.56" x2="294.49" y2="489.28" stroke="#9a48f2" stroke-width="1" />
<line x1="292.59" y1="485.56" x2="296.39" y2="485.56" stroke="#9a48f2" stroke-width="1" />
<line x1="292.59" y1="489.28" x2="296.39" y2="489.28" stroke="#9a48f2" stroke-width="1" />
<line x1="297.05" y1="490.52" x2="297.05" y2="495.48" stroke="#9a48f2" stroke-width="1" />
<line x1="295.15" y1="490.52" x2="298.95" y2="490.52" stroke="#9a48f2" stroke-width="1" />
<line x1="295.15" y1="495.48" x2="298.95" y2="495.48" stroke="#9a48f2" stroke-width="1" />
<line x1="299.6" y1="493" x2="299.6" y2="497.96" stroke="#9a48f2" stroke-width="1" />
<line x1="297.7" y1="493" x2="301.5" y2="493" stroke="#9a48f2" stroke-width="1" />
<line x1="297.7" y1="497.96" x2="301.5" y2="497.96" stroke="#9a48f2" stroke-width="1" />
<line x1="301.31" y1="491.14" x2="301.31" y2="496.1" stroke="#9a48f2" stroke-width="1" />
<line x1="299.41" y1="491.14" x2="303.21" y2="491.14" stroke="#9a48f2" stroke-width="1" />
<line x1="299.41" y1="496.1" x2="303.21" y2="496.1" stroke="#9a48f2" stroke-width="1" />
<line x1="323.6" y1="466.96" x2="323.6" y2="486.8" stroke="#9a48f2" stroke-width="1" />
<line x1="321.7" y1="466.96" x2="325.5" y2="466.96" stroke="#9a48f2" stroke-width="1" />
<line x1="321.7" y1="486.8" x2="325.5" y2="486.8" stroke="#9a48f2" stroke-width="1" />
<line x1="326.1" y1="468.08" x2="326.1" y2="486.92" stroke="#9a48f2" stroke-width="1" />
<line x1="324.2" y1="468.08" x2="328" y2="468.08" stroke="#9a48f2" stroke-width="1" />
<line x1="324.2" y1="486.92" x2="328" y2="486.92" stroke="#9a48f2" stroke-width="1" />
<line x1="328.6" y1="466.71" x2="328.6" y2="484.57" stroke="#9a48f2" stroke-width="1" />
<line x1="326.7" y1="466.71" x2="330.5" y2="466.71" stroke="#9a48f2" stroke-width="1" />
<line x1="326.7" y1="484.57" x2="330.5" y2="484.57" stroke="#9a48f2" stroke-width="1" />
<line x1="331.1" y1="465.97" x2="331.1" y2="482.83" stroke="#9a48f2" stroke-width="1" />
<line x1="329.2" y1="465.97" x2="333" y2="465.97" stroke="#9a48f2" stroke-width="1" />
<line x1="329.2" y1="482.83" x2="333" y2="482.83" stroke="#9a48f2" stroke-width="1" />
<line x1="333.6" y1="467.08" x2="333.6" y2="482.96" stroke="#9a48f2" stroke-width="1" />
<line x1="331.7" y1="467.08" x2="335.5" y2="467.08" stroke="#9a48f2" stroke-width="1" />
<line x1="331.7" y1="482.96" x2="335.5" y2="482.96" stroke="#9a48f2" stroke-width="1" />
<line x1="336.1" y1="465.72" x2="336.1" y2="480.6" stroke="#9a48f2" stroke-width="1" />
<line x1="334.2" y1="465.72" x2="338" y2="465.72" stroke="#9a48f2" stroke-width="1" />
<line x1="334.2" y1="480.6" x2="338" y2="480.6" stroke="#9a48f2" stroke-width="1" />
<line x1="338.6" y1="464.98" x2="338.6" y2="478.86" stroke="#9a48f2" stroke-width="1" />
<line x1="336.7" y1="464.98" x2="340.5" y2="464.98" stroke="#9a48f2" stroke-width="1" />
<line x1="336.7" y1="478.86" x2="340.5" y2="478.86" stroke="#9a48f2" stroke-width="1" />
<line x1="341.1" y1="467.33" x2="341.1" y2="480.23" stroke="#9a48f2" stroke-width="1" />
<line x1="339.2" y1="467.33" x2="343" y2="467.33" stroke="#9a48f2" stroke-width="1" />
<line x1="339.2" y1="480.23" x2="343" y2="480.23" stroke="#9a48f2" stroke-width="1" />
<line x1="343.6" y1="465.35" x2="343.6" y2="477.25" stroke="#9a48f2" stroke-width="1" />
<line x1="341.7" y1="465.35" x2="345.5" y2="465.35" stroke="#9a48f2" stroke-width="1" />
<line x1="341.7" y1="477.25" x2="345.5" y2="477.25" stroke="#9a48f2" stroke-width="1" />
<line x1="346.1" y1="465.22" x2="346.1" y2="476.14" stroke="#9a48f2" stroke-width="1" />
<line x1="344.2" y1="465.22" x2="348" y2="465.22" stroke="#9a48f2" stroke-width="1" />
<line x1="344.2" y1="476.14" x2="348" y2="476.14" stroke="#9a48f2" stroke-width="1" />
<line x1="348.6" y1="466.96" x2="348.6" y2="476.88" stroke="#9a48f2" stroke-width="1" />
<line x1="346.7" y1="466.96" x2="350.5" y2="466.96" stroke="#9a48f2" stroke-width="1" />
<line x1="346.7" y1="476.88" x2="350.5" y2="476.88" stroke="#9a48f2" stroke-width="1" />
<line x1="351.1" y1="464.98" x2="351.1" y2="473.9" stroke="#9a48f2" stroke-width="1" />
<line x1="349.2" y1="464.98" x2="353" y2="464.98" stroke="#9a48f2" stroke-width="1" />
<line x1="349.2" y1="473.9" x2="353" y2="473.9" stroke="#9a48f2" stroke-width="1" />
<line x1="353.6" y1="462.99" x2="353.6" y2="470.93" stroke="#9a48f2" stroke-width="1" />
<line x1="351.7" y1="462.99" x2="355.5" y2="462.99" stroke="#9a48f2" stroke-width="1" />
<line x1="351.7" y1="470.93" x2="355.5" y2="470.93" stroke="#9a48f2" stroke-width="1" />
<line x1="356.1" y1="464.73" x2="356.1" y2="471.67" stroke="#9a48f2" stroke-width="1" />
<line x1="354.2" y1="464.73" x2="358" y2="464.73" stroke="#9a48f2" stroke-width="1" />
<line x1="354.2" y1="471.67" x2="358" y2="471.67" stroke="#9a48f2" stroke-width="1" />
<line x1="358.6" y1="462.5" x2="358.6" y2="468.94" stroke="#9a48f2" stroke-width="1" />
<line x1="356.7" y1="462.5" x2="360.5" y2="462.5" stroke="#9a48f2" stroke-width="1" />
<line x1="356.7" y1="468.94" x2="360.5" y2="468.94" stroke="#9a48f2" stroke-width="1" />
<line x1="361.1" y1="459.4" x2="361.1" y2="465.84" stroke="#9a48f2" stroke-width="1" />
<line x1="359.2" y1="459.4" x2="363" y2="459.4" stroke="#9a48f2" stroke-width="1" />
<line x1="359.2" y1="465.84" x2="363" y2="465.84" stroke="#9a48f2" stroke-width="1" />
<line x1="363.6" y1="461.26" x2="363.6" y2="467.7" stroke="#9a48f2" stroke-width="1" />
<line x1="361.7" y1="461.26" x2="365.5" y2="461.26" stroke="#9a48f2" stroke-width="1" />
<line x1="361.7" y1="467.7" x2="365.5" y2="467.7" stroke="#9a48f2" stroke-width="1" />
<line x1="366.1" y1="463.74" x2="366.1" y2="470.18" stroke="#9a48f2" stroke-width="1" />
<line x1="364.2" y1="463.74" x2="368" y2="463.74" stroke="#9a48f2" stroke-width="1" />
<line x1="364.2" y1="470.18" x2="368" y2="470.18" stroke="#9a48f2" stroke-width="1" />
<line x1="368.6" y1="464.98" x2="368.6" y2="471.42" stroke="#9a48f2" stroke-width="1" />
<line x1="366.7" y1="464.98" x2="370.5" y2="464.98" stroke="#9a48f2" stroke-width="1" />
<line x1="366.7" y1="471.42" x2="370.5" y2="471.42" stroke="#9a48f2" stroke-width="1" />
<line x1="371.1" y1="465.6" x2="371.1" y2="472.04" stroke="#9a48f2" stroke-width="1" />
<line x1="369.2" y1="465.6" x2="373" y2="465.6" stroke="#9a48f2" stroke-width="1" />
<line x1="369.2" y1="472.04" x2="373" y2="472.04" stroke="#9a48f2" stroke-width="1" />
<line x1="373.6" y1="462.5" x2="373.6" y2="468.94" stroke="#9a48f2" stroke-width="1" />
<line x1="371.7" y1="462.5" x2="375.5" y2="462.5" stroke="#9a48f2" stroke-width="1" />
<line x1="371.7" y1="468.94" x2="375.5" y2="468.94" stroke="#9a48f2" stroke-width="1" />
<line x1="376.1" y1="460.02" x2="376.1" y2="466.46" stroke="#9a48f2" stroke-width="1" />
<line x1="374.2" y1="460.02" x2="378" y2="460.02" stroke="#9a48f2" stroke-width="1" />
<line x1="374.2" y1="466.46" x2="378" y2="466.46" stroke="#9a48f2" stroke-width="1" />
<line x1="378.6" y1="460.64" x2="378.6" y2="467.08" stroke="#9a48f2" stroke-width="1" />
<line x1="376.7" y1="460.64" x2="380.5" y2="460.64" stroke="#9a48f2" stroke-width="1" />
<line x1="376.7" y1="467.08" x2="380.5" y2="467.08" stroke="#9a48f2" stroke-width="1" />
<line x1="381.1" y1="458.78" x2="381.1" y2="465.22" stroke="#9a48f2" stroke-width="1" />
<line x1="379.2" y1="458.78" x2="383" y2="458.78" stroke="#9a48f2" stroke-width="1" />
<line x1="379.2" y1="465.22" x2="383" y2="465.22" stroke="#9a48f2" stroke-width="1" />
<line x1="383.6" y1="457.54" x2="383.6" y2="463.98" stroke="#9a48f2" stroke-width="1" />
<line x1="381.7" y1="457.54" x2="385.5" y2="457.54" stroke="#9a48f2" stroke-width="1" />
<line x1="381.7" y1="463.98" x2="385.5" y2="463.98" stroke="#9a48f2" stroke-width="1" />
<line x1="386.1" y1="458.78" x2="386.1" y2="465.22" stroke="#9a48f2" stroke-width="1" />
<line x1="384.2" y1="458.78" x2="388" y2="458.78" stroke="#9a48f2" stroke-width="1" />
<line x1="384.2" y1="465.22" x2="388" y2="465.22" stroke="#9a48f2" stroke-width="1" />
<line x1="388.6" y1="460.02" x2="388.6" y2="466.46" stroke="#9a48f2" stroke-width="1" />
<line x1="386.7" y1="460.02" x2="390.5" y2="460.02" stroke="#9a48f2" stroke-width="1" />
<line x1="386.7" y1="466.46" x2="390.5" y2="466.46" stroke="#9a48f2" stroke-width="1" />
<line x1="391.1" y1="456.92" x2="391.1" y2="463.36" stroke="#9a48f2" stroke-width="1" />
<line x1="389.2" y1="456.92" x2="393" y2="456.92" stroke="#9a48f2" stroke-width="1" />
<line x1="389.2" y1="463.36" x2="393" y2="463.36" stroke="#9a48f2" stroke-width="1" />
<line x1="393.6" y1="458.78" x2="393.6" y2="465.22" stroke="#9a48f2" stroke-width="1" />
<line x1="391.7" y1="458.78" x2="395.5" y2="458.78" stroke="#9a48f2" stroke-width="1" />
<line x1="391.7" y1="465.22" x2="395.5" y2="465.22" stroke="#9a48f2" stroke-width="1" />
<line x1="396.1" y1="459.4" x2="396.1" y2="465.84" stroke="#9a48f2" stroke-width="1" />
<line x1="394.2" y1="459.4" x2="398" y2="459.4" stroke="#9a48f2" stroke-width="1" />
<line x1="394.2" y1="465.84" x2="398" y2="465.84" stroke="#9a48f2" stroke-width="1" />
<line x1="398.6" y1="453.82" x2="398.6" y2="460.26" stroke="#9a48f2" stroke-width="1" />
<line x1="396.7" y1="453.82" x2="400.5" y2="453.82" stroke="#9a48f2" stroke-width="1" />
<line x1="396.7" y1="460.26" x2="400.5" y2="460.26" stroke="#9a48f2" stroke-width="1" />
<line x1="401.1" y1="457.54" x2="401.1" y2="463.98" stroke="#9a48f2" stroke-width="1" />
<line x1="399.2" y1="457.54" x2="403" y2="457.54" stroke="#9a48f2" stroke-width="1" />
<line x1="399.2" y1="463.98" x2="403" y2="463.98" stroke="#9a48f2" stroke-width="1" />
<line x1="403.6" y1="458.78" x2="403.6" y2="465.22" stroke="#9a48f2" stroke-width="1" />
<line x1="401.7" y1="458.78" x2="405.5" y2="458.78" stroke="#9a48f2" stroke-width="1" />
<line x1="401.7" y1="465.22" x2="405.5" y2="465.22" stroke="#9a48f2" stroke-width="1" />
<line x1="406.1" y1="460.02" x2="406.1" y2="466.46" stroke="#9a48f2" stroke-width="1" />
<line x1="404.2" y1="460.02" x2="408" y2="460.02" stroke="#9a48f2" stroke-width="1" />
<line x1="404.2" y1="466.46" x2="408" y2="466.46" stroke="#9a48f2" stroke-width="1" />
<line x1="408.6" y1="458.16" x2="408.6" y2="464.6" stroke="#9a48f2" stroke-width="1" />
<line x1="406.7" y1="458.16" x2="410.5" y2="458.16" stroke="#9a48f2" stroke-width="1" />
<line x1="406.7" y1="464.6" x2="410.5" y2="464.6" stroke="#9a48f2" stroke-width="1" />
<line x1="411.1" y1="460.64" x2="411.1" y2="467.08" stroke="#9a48f2" stroke-width="1" />
<line x1="409.2" y1="460.64" x2="413" y2="460.64" stroke="#9a48f2" stroke-width="1" />
<line x1="409.2" y1="467.08" x2="413" y2="467.08" stroke="#9a48f2" stroke-width="1" />
<line x1="413.6" y1="457.54" x2="413.6" y2="463.98" stroke="#9a48f2" stroke-width="1" />
<line x1="411.7" y1="457.54" x2="415.5" y2="457.54" stroke="#9a48f2" stroke-width="1" />
<line x1="411.7" y1="463.98" x2="415.5" y2="463.98" stroke="#9a48f2" stroke-width="1" />
<line x1="416.1" y1="455.06" x2="416.1" y2="461.5" stroke="#9a48f2" stroke-width="1" />
<line x1="414.2" y1="455.06" x2="418" y2="455.06" stroke="#9a48f2" stroke-width="1" />
<line x1="414.2" y1="461.5" x2="418" y2="461.5" stroke="#9a48f2" stroke-width="1" />
<line x1="418.6" y1="453.82" x2="418.6" y2="460.26" stroke="#9a48f2" stroke-width="1" />
<line x1="416.7" y1="453.82" x2="420.5" y2="453.82" stroke="#9a48f2" stroke-width="1" />
<line x1="416.7" y1="460.26" x2="420.5" y2="460.26" stroke="#9a48f2" stroke-width="1" />
<line x1="421.1" y1="456.3" x2="421.1" y2="462.74" stroke="#9a48f2" stroke-width="1" />
<line x1="419.2" y1="456.3" x2="423" y2="456.3" stroke="#9a48f2" stroke-width="1" />
<line x1="419.2" y1="462.74" x2="423" y2="462.74" stroke="#9a48f2" stroke-width="1" />
<line x1="423.6" y1="459.4" x2="423.6" y2="465.84" stroke="#9a48f2" stroke-width="1" />
<line x1="421.7" y1="459.4" x2="425.5" y2="459.4" stroke="#9a48f2" stroke-width="1" />
<line x1="421.7" y1="465.84" x2="425.5" y2="465.84" stroke="#9a48f2" stroke-width="1" />
<line x1="426.1" y1="466.84" x2="426.1" y2="473.28" stroke="#9a48f2" stroke-width="1" />
<line x1="424.2" y1="466.84" x2="428" y2="466.84" stroke="#9a48f2" stroke-width="1" />
<line x1="424.2" y1="473.28" x2="428" y2="473.28" stroke="#9a48f2" stroke-width="1" />
<line x1="428.6" y1="455.06" x2="428.6" y2="461.5" stroke="#9a48f2" stroke-width="1" />
<line x1="426.7" y1="455.06" x2="430.5" y2="455.06" stroke="#9a48f2" stroke-width="1" />
<line x1="426.7" y1="461.5" x2="430.5" y2="461.5" stroke="#9a48f2" stroke-width="1" />
<line x1="431.1" y1="462.5" x2="431.1" y2="468.94" stroke="#9a48f2" stroke-width="1" />
<line x1="429.2" y1="462.5" x2="433" y2="462.5" stroke="#9a48f2" stroke-width="1" />
<line x1="429.2" y1="468.94" x2="433" y2="468.94" stroke="#9a48f2" stroke-width="1" />
<line x1="433.6" y1="463.74" x2="433.6" y2="470.18" stroke="#9a48f2" stroke-width="1" />
<line x1="431.7" y1="463.74" x2="435.5" y2="463.74" stroke="#9a48f2" stroke-width="1" />
<line x1="431.7" y1="470.18" x2="435.5" y2="470.18" stroke="#9a48f2" stroke-width="1" />
<line x1="436.1" y1="468.7" x2="436.1" y2="475.14" stroke="#9a48f2" stroke-width="1" />
<line x1="434.2" y1="468.7" x2="438" y2="468.7" stroke="#9a48f2" stroke-width="1" />
<line x1="434.2" y1="475.14" x2="438" y2="475.14" stroke="#9a48f2" stroke-width="1" />
<line x1="438.6" y1="471.18" x2="438.6" y2="477.62" stroke="#9a48f2" stroke-width="1" />
<line x1="436.7" y1="471.18" x2="440.5" y2="471.18" stroke="#9a48f2" stroke-width="1" />
<line x1="436.7" y1="477.62" x2="440.5" y2="477.62" stroke="#9a48f2" stroke-width="1" />
<line x1="441.1" y1="455.06" x2="441.1" y2="461.5" stroke="#9a48f2" stroke-width="1" />
<line x1="439.2" y1="455.06" x2="443" y2="455.06" stroke="#9a48f2" stroke-width="1" />
<line x1="439.2" y1="461.5" x2="443" y2="461.5" stroke="#9a48f2" stroke-width="1" />
<line x1="443.6" y1="457.54" x2="443.6" y2="463.98" stroke="#9a48f2" stroke-width="1" />
<line x1="441.7" y1="457.54" x2="445.5" y2="457.54" stroke="#9a48f2" stroke-width="1" />
<line x1="441.7" y1="463.98" x2="445.5" y2="463.98" stroke="#9a48f2" stroke-width="1" />
<line x1="446.1" y1="456.3" x2="446.1" y2="462.74" stroke="#9a48f2" stroke-width="1" />
<line x1="444.2" y1="456.3" x2="448" y2="456.3" stroke="#9a48f2" stroke-width="1" />
<line x1="444.2" y1="462.74" x2="448" y2="462.74" stroke="#9a48f2" stroke-width="1" />
<line x1="448.6" y1="456.92" x2="448.6" y2="463.36" stroke="#9a48f2" stroke-width="1" />
<line x1="446.7" y1="456.92" x2="450.5" y2="456.92" stroke="#9a48f2" stroke-width="1" />
<line x1="446.7" y1="463.36" x2="450.5" y2="463.36" stroke="#9a48f2" stroke-width="1" />
<path d="M263.8,489.75 L267.05,493 L263.8,496.25 L260.55,493Z" fill="#9a48f2"/>
<path d="M266.36,487.89 L269.61,491.14 L266.36,494.39 L263.11,491.14Z" fill="#9a48f2"/>
<path d="M268.92,492.85 L272.17,496.1 L268.92,499.35 L265.67,496.1Z" fill="#9a48f2"/>
<path d="M271.47,494.09 L274.72,497.34 L271.47,500.59 L268.22,497.34Z" fill="#9a48f2"/>
<path d="M274.03,491.61 L277.28,494.86 L274.03,498.11 L270.78,494.86Z" fill="#9a48f2"/>
<path d="M276.59,489.13 L279.84,492.38 L276.59,495.63 L273.34,492.38Z" fill="#9a48f2"/>
<path d="M279.14,490.99 L282.39,494.24 L279.14,497.49 L275.89,494.24Z" fill="#9a48f2"/>
<path d="M281.7,484.17 L284.95,487.42 L281.7,490.67 L278.45,487.42Z" fill="#9a48f2"/>
<path d="M284.26,488.51 L287.51,491.76 L284.26,495.01 L281.01,491.76Z" fill="#9a48f2"/>
<path d="M286.82,491.61 L290.07,494.86 L286.82,498.11 L283.57,494.86Z" fill="#9a48f2"/>
<path d="M289.38,489.75 L292.62,493 L289.38,496.25 L286.12,493Z" fill="#9a48f2"/>
<path d="M291.93,487.89 L295.18,491.14 L291.93,494.39 L288.68,491.14Z" fill="#9a48f2"/>
<path d="M294.49,484.17 L297.74,487.42 L294.49,490.67 L291.24,487.42Z" fill="#9a48f2"/>
<path d="M297.05,489.75 L300.3,493 L297.05,496.25 L293.8,493Z" fill="#9a48f2"/>
<path d="M299.6,492.23 L302.85,495.48 L299.6,498.73 L296.35,495.48Z" fill="#9a48f2"/>
<path d="M301.31,490.37 L304.56,493.62 L301.31,496.87 L298.06,493.62Z" fill="#9a48f2"/>
<path d="M323.6,473.63 L326.85,476.88 L323.6,480.13 L320.35,476.88Z" fill="#9a48f2"/>
<path d="M326.1,474.25 L329.35,477.5 L326.1,480.75 L322.85,477.5Z" fill="#9a48f2"/>
<path d="M328.6,472.39 L331.85,475.64 L328.6,478.89 L325.35,475.64Z" fill="#9a48f2"/>
<path d="M331.1,471.15 L334.35,474.4 L331.1,477.65 L327.85,474.4Z" fill="#9a48f2"/>
<path d="M333.6,471.77 L336.85,475.02 L333.6,478.27 L330.35,475.02Z" fill="#9a48f2"/>
<path d="M336.1,469.91 L339.35,473.16 L336.1,476.41 L332.85,473.16Z" fill="#9a48f2"/>
<path d="M338.6,468.67 L341.85,471.92 L338.6,475.17 L335.35,471.92Z" fill="#9a48f2"/>
<path d="M341.1,470.53 L344.35,473.78 L341.1,477.03 L337.85,473.78Z" fill="#9a48f2"/>
<path d="M343.6,468.05 L346.85,471.3 L343.6,474.55 L340.35,471.3Z" fill="#9a48f2"/>
<path d="M346.1,467.43 L349.35,470.68 L346.1,473.93 L342.85,470.68Z" fill="#9a48f2"/>
<path d="M348.6,468.67 L351.85,471.92 L348.6,475.17 L345.35,471.92Z" fill="#9a48f2"/>
<path d="M351.1,466.19 L354.35,469.44 L351.1,472.69 L347.85,469.44Z" fill="#9a48f2"/>
<path d="M353.6,463.71 L356.85,466.96 L353.6,470.21 L350.35,466.96Z" fill="#9a48f2"/>
<path d="M356.1,464.95 L359.35,468.2 L356.1,471.45 L352.85,468.2Z" fill="#9a48f2"/>
<path d="M358.6,462.47 L361.85,465.72 L358.6,468.97 L355.35,465.72Z" fill="#9a48f2"/>
<path d="M361.1,459.37 L364.35,462.62 L361.1,465.87 L357.85,462.62Z" fill="#9a48f2"/>
<path d="M363.6,461.23 L366.85,464.48 L363.6,467.73 L360.35,464.48Z" fill="#9a48f2"/>
<path d="M366.1,463.71 L369.35,466.96 L366.1,470.21 L362.85,466.96Z" fill="#9a48f2"/>
<path d="M368.6,464.95 L371.85,468.2 L368.6,471.45 L365.35,468.2Z" fill="#9a48f2"/>
<path d="M371.1,465.57 L374.35,468.82 L371.1,472.07 L367.85,468.82Z" fill="#9a48f2"/>
<path d="M373.6,462.47 L376.85,465.72 L373.6,468.97 L370.35,465.72Z" fill="#9a48f2"/>
<path d="M376.1,459.99 L379.35,463.24 L376.1,466.49 L372.85,463.24Z" fill="#9a48f2"/>
<path d="M378.6,460.61 L381.85,463.86 L378.6,467.11 L375.35,463.86Z" fill="#9a48f2"/>
<path d="M381.1,458.75 L384.35,462 L381.1,465.25 L377.85,462Z" fill="#9a48f2"/>
<path d="M383.6,457.51 L386.85,460.76 L383.6,464.01 L380.35,460.76Z" fill="#9a48f2"/>
<path d="M386.1,458.75 L389.35,462 L386.1,465.25 L382.85,462Z" fill="#9a48f2"/>
<path d="M388.6,459.99 L391.85,463.24 L388.6,466.49 L385.35,463.24Z" fill="#9a48f2"/>
<path d="M391.1,456.89 L394.35,460.14 L391.1,463.39 L387.85,460.14Z" fill="#9a48f2"/>
<path d="M393.6,458.75 L396.85,462 L393.6,465.25 L390.35,462Z" fill="#9a48f2"/>
<path d="M396.1,459.37 L399.35,462.62 L396.1,465.87 L392.85,462.62Z" fill="#9a48f2"/>
<path d="M398.6,453.79 L401.85,457.04 L398.6,460.29 L395.35,457.04Z" fill="#9a48f2"/>
<path d="M401.1,457.51 L404.35,460.76 L401.1,464.01 L397.85,460.76Z" fill="#9a48f2"/>
<path d="M403.6,458.75 L406.85,462 L403.6,465.25 L400.35,462Z" fill="#9a48f2"/>
<path d="M406.1,459.99 L409.35,463.24 L406.1,466.49 L402.85,463.24Z" fill="#9a48f2"/>
<path d="M408.6,458.13 L411.85,461.38 L408.6,464.63 L405.35,461.38Z" fill="#9a48f2"/>
<path d="M411.1,460.61 L414.35,463.86 L411.1,467.11 L407.85,463.86Z" fill="#9a48f2"/>
<path d="M413.6,457.51 L416.85,460.76 L413.6,464.01 L410.35,460.76Z" fill="#9a48f2"/>
<path d="M416.1,455.03 L419.35,458.28 L416.1,461.53 L412.85,458.28Z" fill="#9a48f2"/>
<path d="M418.6,453.79 L421.85,457.04 L418.6,460.29 L415.35,457.04Z" fill="#9a48f2"/>
<path d="M421.1,456.27 L424.35,459.52 L421.1,462.77 L417.85,459.52Z" fill="#9a48f2"/>
<path d="M423.6,459.37 L426.85,462.62 L423.6,465.87 L420.35,462.62Z" fill="#9a48f2"/>
<path d="M426.1,466.81 L429.35,470.06 L426.1,473.31 L422.85,470.06Z" fill="#9a48f2"/>
<path d="M428.6,455.03 L431.85,458.28 L428.6,461.53 L425.35,458.28Z" fill="#9a48f2"/>
<path d="M431.1,462.47 L434.35,465.72 L431.1,468.97 L427.85,465.72Z" fill="#9a48f2"/>
<path d="M433.6,463.71 L436.85,466.96 L433.6,470.21 L430.35,466.96Z" fill="#9a48f2"/>
<path d="M436.1,468.67 L439.35,471.92 L436.1,475.17 L432.85,471.92Z" fill="#9a48f2"/>
<path d="M438.6,471.15 L441.85,474.4 L438.6,477.65 L435.35,474.4Z" fill="#9a48f2"/>
<path d="M441.1,455.03 L444.35,458.28 L441.1,461.53 L437.85,458.28Z" fill="#9a48f2"/>
<path d="M443.6,457.51 L446.85,460.76 L443.6,464.01 L440.35,460.76Z" fill="#9a48f2"/>
<path d="M446.1,456.27 L449.35,459.52 L446.1,462.77 L442.85,459.52Z" fill="#9a48f2"/>
<path d="M448.6,456.89 L451.85,460.14 L448.6,463.39 L445.35,460.14Z" fill="#9a48f2"/>
<circle cx="287.9" cy="493.9" r="1.4" fill="#646464"/>
<circle cx="293.75" cy="493.9" r="1.4" fill="#646464"/>
<circle cx="299.6" cy="493.9" r="1.4" fill="#646464"/>
<circle cx="305.45" cy="493.9" r="1.4" fill="#646464"/>
<circle cx="311.3" cy="493.9" r="1.4" fill="#646464"/>
<circle cx="317.15" cy="493.9" r="1.4" fill="#646464"/>
<circle cx="323" cy="493.9" r="1.4" fill="#646464"/>
<circle cx="328.85" cy="493.9" r="1.4" fill="#646464"/>
<circle cx="334.7" cy="493.9" r="1.4" fill="#646464"/>
<circle cx="340.55" cy="493.9" r="1.4" fill="#646464"/>
<circle cx="346.4" cy="493.9" r="1.4" fill="#646464"/>
<circle cx="352.25" cy="493.9" r="1.4" fill="#646464"/>
<circle cx="358.1" cy="493.9" r="1.4" fill="#646464"/>
<circle cx="363.95" cy="493.9" r="1.4" fill="#646464"/>
<circle cx="369.8" cy="493.9" r="1.4" fill="#646464"/>
<circle cx="375.65" cy="493.9" r="1.4" fill="#646464"/>
<circle cx="381.5" cy="493.9" r="1.4" fill="#646464"/>
<circle cx="387.35" cy="493.9" r="1.4" fill="#646464"/>
<circle cx="393.2" cy="493.9" r="1.4" fill="#646464"/>
<circle cx="399.05" cy="493.9" r="1.4" fill="#646464"/>
<circle cx="404.9" cy="493.9" r="1.4" fill="#646464"/>
<circle cx="410.75" cy="493.9" r="1.4" fill="#646464"/>
<circle cx="416.6" cy="493.9" r="1.4" fill="#646464"/>
<circle cx="422.45" cy="493.9" r="1.4" fill="#646464"/>
<circle cx="428.3" cy="493.9" r="1.4" fill="#646464"/>
<circle cx="434.15" cy="493.9" r="1.4" fill="#646464"/>
<circle cx="440" cy="493.9" r="1.4" fill="#646464"/>
<circle cx="445.85" cy="493.9" r="1.4" fill="#646464"/>
<path d="M270.3,431.35 L273.55,434.6 L270.3,437.85 L267.05,434.6Z" fill="#9a48f2"/>
<text x="294.5" y="437.5" font-size="8.95" text-anchor="start" fill="#000" font-weight="normal" transform="translate(294.5 437.5) scale(1 1.07) translate(-294.5 -437.5)" >PTX N=3 n=6</text>
<line x1="364.1" y1="406.4" x2="377.6" y2="406.4" stroke="#cba2f6" stroke-width="1.5" />
<line x1="364.1" y1="414.1" x2="377.6" y2="414.1" stroke="#8e40f0" stroke-width="1.8" />
<text x="384.5" y="409.36" font-size="7.8" text-anchor="start" fill="#000" font-weight="normal" >Before</text>
<text x="384.5" y="417.06" font-size="7.8" text-anchor="start" fill="#000" font-weight="normal" >After</text>
<line x1="423.8" y1="406.9" x2="423.8" y2="416.65" stroke="#000" stroke-width="1.3" />
<line x1="423.15" y1="416" x2="434.3" y2="416" stroke="#000" stroke-width="1.3" />
<text x="419" y="424.5" font-size="7.9" text-anchor="start" fill="#000" font-weight="normal" >200ms</text>
<text x="418.2" y="412.9" font-size="7.8" text-anchor="middle" fill="#000" font-weight="normal" transform="rotate(-90 418.2 412.9)" >200μV</text>
<path d="M379.2,419.7 C379.25,421.03 379.15,426.63 379.5,427.7 C379.85,428.77 380.6,426.37 381.3,426.1 C382,425.83 382.77,424.7 383.7,426.1 C384.63,427.5 385.85,432.1 386.9,434.5 C387.95,436.9 389.15,439.15 390,440.5 C390.85,441.85 390.67,442.68 392,442.6 C393.33,442.52 395.9,441.02 398,440 C400.1,438.98 402.43,437.67 404.6,436.5 C406.77,435.33 408.87,434.07 411,433 C413.13,431.93 415.07,430.93 417.4,430.1 C419.73,429.27 422.32,428.52 425,428 C427.68,427.48 429.63,427.4 433.5,427 C437.37,426.6 445.75,425.83 448.2,425.6" fill="none" stroke="#cba2f6" stroke-width="1.5" stroke-linejoin="round" stroke-linecap="round"/>
<path d="M379.2,419.7 C379.25,421.03 379.15,426.63 379.5,427.7 C379.85,428.77 380.6,426.37 381.3,426.1 C382,425.83 382.77,424.37 383.7,426.1 C384.63,427.83 385.7,433.15 386.9,436.5 C388.1,439.85 389.7,444.18 390.9,446.2 C392.1,448.22 392.88,448.47 394.1,448.6 C395.32,448.73 396.45,448.33 398.2,447 C399.95,445.67 402.47,442.48 404.6,440.6 C406.73,438.72 408.33,437.18 411,435.7 C413.67,434.22 416.85,432.9 420.6,431.7 C424.35,430.5 428.9,429.25 433.5,428.5 C438.1,427.75 445.75,427.42 448.2,427.2" fill="none" stroke="#8e40f0" stroke-width="1.6" stroke-linejoin="round" stroke-linecap="round"/>
<text x="481" y="395.9" font-size="10.4" text-anchor="start" fill="#000" font-weight="bold" transform="translate(481 395.9) scale(1 1.07) translate(-481 -395.9)" >I</text>
<line x1="490.7" y1="424.1" x2="490.7" y2="549.4" stroke="#000" stroke-width="1.9" />
<line x1="482.4" y1="424.9" x2="490.7" y2="424.9" stroke="#000" stroke-width="1.6" />
<line x1="486.1" y1="455.8" x2="490.7" y2="455.8" stroke="#000" stroke-width="1.6" />
<line x1="482.4" y1="486.6" x2="490.7" y2="486.6" stroke="#000" stroke-width="1.6" />
<line x1="486.1" y1="517.6" x2="490.7" y2="517.6" stroke="#000" stroke-width="1.6" />
<line x1="482.4" y1="548.5" x2="490.7" y2="548.5" stroke="#000" stroke-width="1.6" />
<text x="476.9" y="424.9" font-size="9.3" text-anchor="middle" fill="#000" font-weight="normal" transform="rotate(-90 476.9 424.9) translate(476.9 424.9) scale(1 1.02) translate(-476.9 -424.9)" >150%</text>
<text x="476.9" y="486.6" font-size="9.3" text-anchor="middle" fill="#000" font-weight="normal" transform="rotate(-90 476.9 486.6) translate(476.9 486.6) scale(1 1.02) translate(-476.9 -486.6)" >100%</text>
<text x="476.9" y="548.5" font-size="9.3" text-anchor="middle" fill="#000" font-weight="normal" transform="rotate(-90 476.9 548.5) translate(476.9 548.5) scale(1 1.02) translate(-476.9 -548.5)" >50%</text>
<text x="460.6" y="458.9" font-size="8.9" text-anchor="middle" fill="#000" font-weight="normal" transform="rotate(-90 460.6 458.9) translate(460.6 458.9) scale(1 1.07) translate(-460.6 -458.9)" >fEPSP Amplitude</text>
<line x1="489.8" y1="548.5" x2="674.8" y2="548.5" stroke="#000" stroke-width="1.8" />
<rect x="493.35" y="485.36" width="3.9" height="63.14" fill="#e9e9ee" stroke="#cfcfcf" stroke-width="1.75"/>
<rect x="502.35" y="451.37" width="3.95" height="97.13" fill="#fff" stroke="#a2a2a2" stroke-width="1.9"/>
<line x1="495.4" y1="485.4" x2="504.3" y2="440.1" stroke="#000" stroke-width="1.1" />
<line x1="495.4" y1="487.2" x2="504.3" y2="445" stroke="#000" stroke-width="1.1" />
<line x1="495.4" y1="492.9" x2="504.3" y2="450" stroke="#000" stroke-width="1.1" />
<line x1="495.4" y1="485.4" x2="504.3" y2="455" stroke="#000" stroke-width="1.1" />
<line x1="495.4" y1="487.2" x2="504.3" y2="461.2" stroke="#000" stroke-width="1.1" />
<circle cx="495.4" cy="485.4" r="1.9" fill="#000"/>
<circle cx="495.4" cy="487.2" r="1.9" fill="#000"/>
<circle cx="495.4" cy="492.9" r="1.9" fill="#000"/>
<rect x="502.5" y="438.3" width="3.6" height="3.6" fill="#000"/>
<rect x="502.5" y="443.2" width="3.6" height="3.6" fill="#000"/>
<rect x="502.5" y="448.2" width="3.6" height="3.6" fill="#000"/>
<rect x="502.5" y="453.2" width="3.6" height="3.6" fill="#000"/>
<rect x="502.5" y="459.4" width="3.6" height="3.6" fill="#000"/>
<path d="M495.6,474.5 L495.6,411.5 L504.4,411.5 L504.4,430" fill="none" stroke="#000" stroke-width="1.1"/>
<line x1="489.8" y1="397.7" x2="489.8" y2="404.3" stroke="#000" stroke-width="1.7" />
<line x1="486.94" y1="399.35" x2="492.66" y2="402.65" stroke="#000" stroke-width="1.7" />
<line x1="492.66" y1="399.35" x2="486.94" y2="402.65" stroke="#000" stroke-width="1.7" />
<line x1="496.55" y1="397.7" x2="496.55" y2="404.3" stroke="#000" stroke-width="1.7" />
<line x1="493.69" y1="399.35" x2="499.41" y2="402.65" stroke="#000" stroke-width="1.7" />
<line x1="499.41" y1="399.35" x2="493.69" y2="402.65" stroke="#000" stroke-width="1.7" />
<line x1="503.3" y1="397.7" x2="503.3" y2="404.3" stroke="#000" stroke-width="1.7" />
<line x1="500.44" y1="399.35" x2="506.16" y2="402.65" stroke="#000" stroke-width="1.7" />
<line x1="506.16" y1="399.35" x2="500.44" y2="402.65" stroke="#000" stroke-width="1.7" />
<line x1="510.05" y1="397.7" x2="510.05" y2="404.3" stroke="#000" stroke-width="1.7" />
<line x1="507.19" y1="399.35" x2="512.91" y2="402.65" stroke="#000" stroke-width="1.7" />
<line x1="512.91" y1="399.35" x2="507.19" y2="402.65" stroke="#000" stroke-width="1.7" />
<line x1="499.9" y1="548.5" x2="499.9" y2="556.5" stroke="#000" stroke-width="1.7" />
<text x="502.5" y="567" font-size="9.3" text-anchor="end" fill="#000" font-weight="normal" transform="rotate(-45 502.5 567) translate(502.5 567) scale(1 1.07) translate(-502.5 -567)" >vehicle</text>
<rect x="516.87" y="487.84" width="3.9" height="60.66" fill="#e9e9ee" stroke="#f6a08e" stroke-width="1.75"/>
<rect x="525.87" y="479.18" width="3.95" height="69.32" fill="#fff" stroke="#ff2a10" stroke-width="1.9"/>
<line x1="518.92" y1="483.1" x2="527.82" y2="460.5" stroke="#000" stroke-width="0.8" stroke-dasharray="1,0.9"/>
<line x1="518.92" y1="485.4" x2="527.82" y2="466.5" stroke="#000" stroke-width="0.8" stroke-dasharray="1,0.9"/>
<line x1="518.92" y1="488.4" x2="527.82" y2="473.3" stroke="#000" stroke-width="0.8" stroke-dasharray="1,0.9"/>
<line x1="518.92" y1="497.8" x2="527.82" y2="480.1" stroke="#000" stroke-width="0.8" stroke-dasharray="1,0.9"/>
<line x1="518.92" y1="483.1" x2="527.82" y2="510.3" stroke="#000" stroke-width="0.8" stroke-dasharray="1,0.9"/>
<circle cx="518.92" cy="483.1" r="1.9" fill="#000"/>
<circle cx="518.92" cy="485.4" r="1.9" fill="#000"/>
<circle cx="518.92" cy="488.4" r="1.9" fill="#000"/>
<circle cx="518.92" cy="497.8" r="1.9" fill="#000"/>
<rect x="526.02" y="458.7" width="3.6" height="3.6" fill="#000"/>
<rect x="526.02" y="464.7" width="3.6" height="3.6" fill="#000"/>
<rect x="526.02" y="471.5" width="3.6" height="3.6" fill="#000"/>
<rect x="526.02" y="478.3" width="3.6" height="3.6" fill="#000"/>
<rect x="526.02" y="508.5" width="3.6" height="3.6" fill="#000"/>
<path d="M519.12,474.5 L519.12,411.5 L527.92,411.5 L527.92,449.5" fill="none" stroke="#000" stroke-width="1.1"/>
<text x="523.42" y="403.6" font-size="10.4" text-anchor="middle" fill="#000" font-weight="normal" textLength="9.4" lengthAdjust="spacingAndGlyphs">ns</text>
<line x1="523.42" y1="548.5" x2="523.42" y2="556.5" stroke="#000" stroke-width="1.7" />
<text x="526.02" y="567" font-size="9.3" text-anchor="end" fill="#000" font-weight="normal" transform="rotate(-45 526.02 567) translate(526.02 567) scale(1 1.07) translate(-526.02 -567)" >YF-476</text>
<rect x="540.39" y="485.36" width="3.9" height="63.14" fill="#e9e9ee" stroke="#98d6b4" stroke-width="1.75"/>
<rect x="549.39" y="478.57" width="3.95" height="69.93" fill="#fff" stroke="#1e9452" stroke-width="1.9"/>
<line x1="542.44" y1="482.4" x2="551.34" y2="466.5" stroke="#000" stroke-width="1.1" />
<line x1="542.44" y1="484.6" x2="551.34" y2="468" stroke="#000" stroke-width="0.8" stroke-dasharray="1,0.9"/>
<line x1="542.44" y1="486.6" x2="551.34" y2="477.8" stroke="#000" stroke-width="0.8" stroke-dasharray="1,0.9"/>
<line x1="542.44" y1="482.4" x2="551.34" y2="481.6" stroke="#000" stroke-width="0.8" stroke-dasharray="1,0.9"/>
<line x1="542.44" y1="484.6" x2="551.34" y2="486.9" stroke="#000" stroke-width="0.8" stroke-dasharray="1,0.9"/>
<line x1="542.44" y1="486.6" x2="551.34" y2="489.9" stroke="#000" stroke-width="0.8" stroke-dasharray="1,0.9"/>
<line x1="542.44" y1="482.4" x2="551.34" y2="494.1" stroke="#000" stroke-width="0.8" stroke-dasharray="1,0.9"/>
<circle cx="542.44" cy="482.4" r="1.9" fill="#000"/>
<circle cx="542.44" cy="484.6" r="1.9" fill="#000"/>
<circle cx="542.44" cy="486.6" r="1.9" fill="#000"/>
<rect x="549.54" y="464.7" width="3.6" height="3.6" fill="#000"/>
<rect x="549.54" y="466.2" width="3.6" height="3.6" fill="#000"/>
<rect x="549.54" y="476" width="3.6" height="3.6" fill="#000"/>
<rect x="549.54" y="479.8" width="3.6" height="3.6" fill="#000"/>
<rect x="549.54" y="485.1" width="3.6" height="3.6" fill="#000"/>
<rect x="549.54" y="488.1" width="3.6" height="3.6" fill="#000"/>
<rect x="549.54" y="492.3" width="3.6" height="3.6" fill="#000"/>
<path d="M542.64,474.5 L542.64,411.5 L551.44,411.5 L551.44,454.7" fill="none" stroke="#000" stroke-width="1.1"/>
<text x="546.94" y="403.6" font-size="10.4" text-anchor="middle" fill="#000" font-weight="normal" textLength="9.4" lengthAdjust="spacingAndGlyphs">ns</text>
<line x1="546.94" y1="548.5" x2="546.94" y2="556.5" stroke="#000" stroke-width="1.7" />
<text x="549.54" y="567" font-size="9.3" text-anchor="end" fill="#000" font-weight="normal" transform="rotate(-45 549.54 567) translate(549.54 567) scale(1 1.07) translate(-549.54 -567)" >U-73122</text>
<rect x="563.91" y="486.6" width="3.9" height="61.9" fill="#e9e9ee" stroke="#b87a3a" stroke-width="1.75"/>
<rect x="572.91" y="486.6" width="3.95" height="61.9" fill="#fff" stroke="#a0621c" stroke-width="1.9"/>
<line x1="565.96" y1="483" x2="574.86" y2="464.1" stroke="#000" stroke-width="0.8" stroke-dasharray="1,0.9"/>
<line x1="565.96" y1="485" x2="574.86" y2="480.5" stroke="#000" stroke-width="0.8" stroke-dasharray="1,0.9"/>
<line x1="565.96" y1="487.5" x2="574.86" y2="485.2" stroke="#000" stroke-width="0.8" stroke-dasharray="1,0.9"/>
<line x1="565.96" y1="483" x2="574.86" y2="492.3" stroke="#000" stroke-width="0.8" stroke-dasharray="1,0.9"/>
<line x1="565.96" y1="485" x2="574.86" y2="500.5" stroke="#000" stroke-width="0.8" stroke-dasharray="1,0.9"/>
<line x1="565.96" y1="487.5" x2="574.86" y2="502.8" stroke="#000" stroke-width="0.8" stroke-dasharray="1,0.9"/>
<circle cx="565.96" cy="483" r="1.9" fill="#000"/>
<circle cx="565.96" cy="485" r="1.9" fill="#000"/>
<circle cx="565.96" cy="487.5" r="1.9" fill="#000"/>
<rect x="573.06" y="462.3" width="3.6" height="3.6" fill="#000"/>
<rect x="573.06" y="478.7" width="3.6" height="3.6" fill="#000"/>
<rect x="573.06" y="483.4" width="3.6" height="3.6" fill="#000"/>
<rect x="573.06" y="490.5" width="3.6" height="3.6" fill="#000"/>
<rect x="573.06" y="498.7" width="3.6" height="3.6" fill="#000"/>
<rect x="573.06" y="501" width="3.6" height="3.6" fill="#000"/>
<path d="M566.16,474.5 L566.16,411.5 L574.96,411.5 L574.96,452.3" fill="none" stroke="#000" stroke-width="1.1"/>
<text x="570.46" y="403.6" font-size="10.4" text-anchor="middle" fill="#000" font-weight="normal" textLength="9.4" lengthAdjust="spacingAndGlyphs">ns</text>
<line x1="570.46" y1="548.5" x2="570.46" y2="556.5" stroke="#000" stroke-width="1.7" />
<text x="573.06" y="567" font-size="9.3" text-anchor="end" fill="#000" font-weight="normal" transform="rotate(-45 573.06 567) translate(573.06 567) scale(1 1.07) translate(-573.06 -567)" >2-APB</text>
<rect x="587.43" y="487.22" width="3.9" height="61.28" fill="#e9e9ee" stroke="#b4a4d6" stroke-width="1.75"/>
<rect x="596.43" y="481.66" width="3.95" height="66.84" fill="#fff" stroke="#3c2570" stroke-width="1.9"/>
<line x1="589.48" y1="485.2" x2="598.38" y2="473.5" stroke="#000" stroke-width="0.8" stroke-dasharray="1,0.9"/>
<line x1="589.48" y1="487.6" x2="598.38" y2="478.2" stroke="#000" stroke-width="0.8" stroke-dasharray="1,0.9"/>
<line x1="589.48" y1="485.2" x2="598.38" y2="481.7" stroke="#000" stroke-width="0.8" stroke-dasharray="1,0.9"/>
<line x1="589.48" y1="487.6" x2="598.38" y2="496.5" stroke="#000" stroke-width="0.8" stroke-dasharray="1,0.9"/>
<circle cx="589.48" cy="485.2" r="1.9" fill="#000"/>
<circle cx="589.48" cy="487.6" r="1.9" fill="#000"/>
<rect x="596.58" y="471.7" width="3.6" height="3.6" fill="#000"/>
<rect x="596.58" y="476.4" width="3.6" height="3.6" fill="#000"/>
<rect x="596.58" y="479.9" width="3.6" height="3.6" fill="#000"/>
<rect x="596.58" y="494.7" width="3.6" height="3.6" fill="#000"/>
<path d="M589.68,474.5 L589.68,411.5 L598.48,411.5 L598.48,455.8" fill="none" stroke="#000" stroke-width="1.1"/>
<text x="593.98" y="403.6" font-size="10.4" text-anchor="middle" fill="#000" font-weight="normal" textLength="9.4" lengthAdjust="spacingAndGlyphs">ns</text>
<line x1="593.98" y1="548.5" x2="593.98" y2="556.5" stroke="#000" stroke-width="1.7" />
<text x="596.58" y="567" font-size="9.3" text-anchor="end" fill="#000" font-weight="normal" transform="rotate(-45 596.58 567) translate(596.58 567) scale(1 1.07) translate(-596.58 -567)" >YM254890</text>
<rect x="610.95" y="487.84" width="3.9" height="60.66" fill="#e9e9ee" stroke="#8c9cf4" stroke-width="1.75"/>
<rect x="619.95" y="451.99" width="3.95" height="96.51" fill="#fff" stroke="#1a3cf0" stroke-width="1.9"/>
<line x1="613" y1="485.7" x2="621.9" y2="434.7" stroke="#000" stroke-width="0.8" stroke-dasharray="1,0.9"/>
<line x1="613" y1="493.4" x2="621.9" y2="446.4" stroke="#000" stroke-width="0.8" stroke-dasharray="1,0.9"/>
<line x1="613" y1="485.7" x2="621.9" y2="452.3" stroke="#000" stroke-width="0.8" stroke-dasharray="1,0.9"/>
<line x1="613" y1="493.4" x2="621.9" y2="455.8" stroke="#000" stroke-width="0.8" stroke-dasharray="1,0.9"/>
<line x1="613" y1="485.7" x2="621.9" y2="459.4" stroke="#000" stroke-width="0.8" stroke-dasharray="1,0.9"/>
<line x1="613" y1="493.4" x2="621.9" y2="465.2" stroke="#000" stroke-width="0.8" stroke-dasharray="1,0.9"/>
<circle cx="613" cy="485.7" r="1.9" fill="#000"/>
<circle cx="613" cy="493.4" r="1.9" fill="#000"/>
<rect x="620.1" y="432.9" width="3.6" height="3.6" fill="#000"/>
<rect x="620.1" y="444.6" width="3.6" height="3.6" fill="#000"/>
<rect x="620.1" y="450.5" width="3.6" height="3.6" fill="#000"/>
<rect x="620.1" y="454" width="3.6" height="3.6" fill="#000"/>
<rect x="620.1" y="457.6" width="3.6" height="3.6" fill="#000"/>
<rect x="620.1" y="463.4" width="3.6" height="3.6" fill="#000"/>
<path d="M613.2,474.5 L613.2,411.5 L622,411.5 L622,424.1" fill="none" stroke="#000" stroke-width="1.1"/>
<line x1="607.4" y1="397.7" x2="607.4" y2="404.3" stroke="#000" stroke-width="1.7" />
<line x1="604.54" y1="399.35" x2="610.26" y2="402.65" stroke="#000" stroke-width="1.7" />
<line x1="610.26" y1="399.35" x2="604.54" y2="402.65" stroke="#000" stroke-width="1.7" />
<line x1="614.15" y1="397.7" x2="614.15" y2="404.3" stroke="#000" stroke-width="1.7" />
<line x1="611.29" y1="399.35" x2="617.01" y2="402.65" stroke="#000" stroke-width="1.7" />
<line x1="617.01" y1="399.35" x2="611.29" y2="402.65" stroke="#000" stroke-width="1.7" />
<line x1="620.9" y1="397.7" x2="620.9" y2="404.3" stroke="#000" stroke-width="1.7" />
<line x1="618.04" y1="399.35" x2="623.76" y2="402.65" stroke="#000" stroke-width="1.7" />
<line x1="623.76" y1="399.35" x2="618.04" y2="402.65" stroke="#000" stroke-width="1.7" />
<line x1="627.65" y1="397.7" x2="627.65" y2="404.3" stroke="#000" stroke-width="1.7" />
<line x1="624.79" y1="399.35" x2="630.51" y2="402.65" stroke="#000" stroke-width="1.7" />
<line x1="630.51" y1="399.35" x2="624.79" y2="402.65" stroke="#000" stroke-width="1.7" />
<line x1="617.5" y1="548.5" x2="617.5" y2="556.5" stroke="#000" stroke-width="1.7" />
<text x="620.1" y="567" font-size="9.3" text-anchor="end" fill="#000" font-weight="normal" transform="rotate(-45 620.1 567) translate(620.1 567) scale(1 1.07) translate(-620.1 -567)" >Barbadin</text>
<rect x="634.47" y="486.6" width="3.9" height="61.9" fill="#e9e9ee" stroke="#9cbcdc" stroke-width="1.75"/>
<rect x="643.47" y="477.33" width="3.95" height="71.17" fill="#fff" stroke="#2a6aaa" stroke-width="1.9"/>
<line x1="636.52" y1="482.9" x2="645.42" y2="446.4" stroke="#000" stroke-width="0.8" stroke-dasharray="1,0.9"/>
<line x1="636.52" y1="485.5" x2="645.42" y2="464.1" stroke="#000" stroke-width="0.8" stroke-dasharray="1,0.9"/>
<line x1="636.52" y1="487.5" x2="645.42" y2="471.1" stroke="#000" stroke-width="0.8" stroke-dasharray="1,0.9"/>
<line x1="636.52" y1="489.9" x2="645.42" y2="480.5" stroke="#000" stroke-width="0.8" stroke-dasharray="1,0.9"/>
<line x1="636.52" y1="482.9" x2="645.42" y2="485.2" stroke="#000" stroke-width="0.8" stroke-dasharray="1,0.9"/>
<line x1="636.52" y1="485.5" x2="645.42" y2="489.9" stroke="#000" stroke-width="0.8" stroke-dasharray="1,0.9"/>
<circle cx="636.52" cy="482.9" r="1.9" fill="#000"/>
<circle cx="636.52" cy="485.5" r="1.9" fill="#000"/>
<circle cx="636.52" cy="487.5" r="1.9" fill="#000"/>
<circle cx="636.52" cy="489.9" r="1.9" fill="#000"/>
<rect x="643.62" y="444.6" width="3.6" height="3.6" fill="#000"/>
<rect x="643.62" y="462.3" width="3.6" height="3.6" fill="#000"/>
<rect x="643.62" y="469.3" width="3.6" height="3.6" fill="#000"/>
<rect x="643.62" y="478.7" width="3.6" height="3.6" fill="#000"/>
<rect x="643.62" y="483.4" width="3.6" height="3.6" fill="#000"/>
<rect x="643.62" y="488.1" width="3.6" height="3.6" fill="#000"/>
<path d="M636.72,474.5 L636.72,411.5 L645.52,411.5 L645.52,457" fill="none" stroke="#000" stroke-width="1.1"/>
<text x="641.02" y="403.6" font-size="10.4" text-anchor="middle" fill="#000" font-weight="normal" textLength="9.4" lengthAdjust="spacingAndGlyphs">ns</text>
<line x1="641.02" y1="548.5" x2="641.02" y2="556.5" stroke="#000" stroke-width="1.7" />
<text x="643.62" y="567" font-size="9.3" text-anchor="end" fill="#000" font-weight="normal" transform="rotate(-45 643.62 567) translate(643.62 567) scale(1 1.07) translate(-643.62 -567)" >H-89</text>
<rect x="657.99" y="486.6" width="3.9" height="61.9" fill="#e9e9ee" stroke="#d0aaf6" stroke-width="1.75"/>
<rect x="666.99" y="456.32" width="3.95" height="92.18" fill="#fff" stroke="#9040f0" stroke-width="1.9"/>
<line x1="660.04" y1="486.4" x2="668.94" y2="445.3" stroke="#000" stroke-width="1.1" />
<line x1="660.04" y1="486.4" x2="668.94" y2="454.7" stroke="#000" stroke-width="1.1" />
<line x1="660.04" y1="486.4" x2="668.94" y2="458.2" stroke="#000" stroke-width="1.1" />
<line x1="660.04" y1="486.4" x2="668.94" y2="461.7" stroke="#000" stroke-width="1.1" />
<circle cx="660.04" cy="486.4" r="1.9" fill="#000"/>
<rect x="667.14" y="443.5" width="3.6" height="3.6" fill="#000"/>
<rect x="667.14" y="452.9" width="3.6" height="3.6" fill="#000"/>
<rect x="667.14" y="456.4" width="3.6" height="3.6" fill="#000"/>
<rect x="667.14" y="459.9" width="3.6" height="3.6" fill="#000"/>
<path d="M660.24,474.5 L660.24,411.5 L669.04,411.5 L669.04,433.5" fill="none" stroke="#000" stroke-width="1.1"/>
<line x1="654.44" y1="397.7" x2="654.44" y2="404.3" stroke="#000" stroke-width="1.7" />
<line x1="651.58" y1="399.35" x2="657.3" y2="402.65" stroke="#000" stroke-width="1.7" />
<line x1="657.3" y1="399.35" x2="651.58" y2="402.65" stroke="#000" stroke-width="1.7" />
<line x1="661.19" y1="397.7" x2="661.19" y2="404.3" stroke="#000" stroke-width="1.7" />
<line x1="658.33" y1="399.35" x2="664.05" y2="402.65" stroke="#000" stroke-width="1.7" />
<line x1="664.05" y1="399.35" x2="658.33" y2="402.65" stroke="#000" stroke-width="1.7" />
<line x1="667.94" y1="397.7" x2="667.94" y2="404.3" stroke="#000" stroke-width="1.7" />
<line x1="665.08" y1="399.35" x2="670.8" y2="402.65" stroke="#000" stroke-width="1.7" />
<line x1="670.8" y1="399.35" x2="665.08" y2="402.65" stroke="#000" stroke-width="1.7" />
<line x1="674.69" y1="397.7" x2="674.69" y2="404.3" stroke="#000" stroke-width="1.7" />
<line x1="671.83" y1="399.35" x2="677.55" y2="402.65" stroke="#000" stroke-width="1.7" />
<line x1="677.55" y1="399.35" x2="671.83" y2="402.65" stroke="#000" stroke-width="1.7" />
<line x1="664.54" y1="548.5" x2="664.54" y2="556.5" stroke="#000" stroke-width="1.7" />
<text x="667.14" y="567" font-size="9.3" text-anchor="end" fill="#000" font-weight="normal" transform="rotate(-45 667.14 567) translate(667.14 567) scale(1 1.07) translate(-667.14 -567)" >PTX</text>
<line x1="552" y1="387.2" x2="573" y2="387.2" stroke="#000" stroke-width="0.9" stroke-dasharray="0.9,1.2"/>
<circle cx="562.9" cy="387.2" r="1.9" fill="#000"/>
<text x="585.5" y="389.6" font-size="8.8" text-anchor="start" fill="#000" font-weight="normal" transform="translate(585.5 389.6) scale(1 1.07) translate(-585.5 -389.6)" >Before</text>
<line x1="614.7" y1="387.2" x2="624.5" y2="387.2" stroke="#000" stroke-width="0.8" />
<line x1="627.5" y1="387.2" x2="636.2" y2="387.2" stroke="#000" stroke-width="0.9" stroke-dasharray="0.9,1.2"/>
<rect x="624.2" y="385.4" width="3.6" height="3.6" fill="#000"/>
<text x="649" y="389.6" font-size="8.8" text-anchor="start" fill="#000" font-weight="normal" transform="translate(649 389.6) scale(1 1.07) translate(-649 -389.6)" >After</text>
</svg></body></html>
